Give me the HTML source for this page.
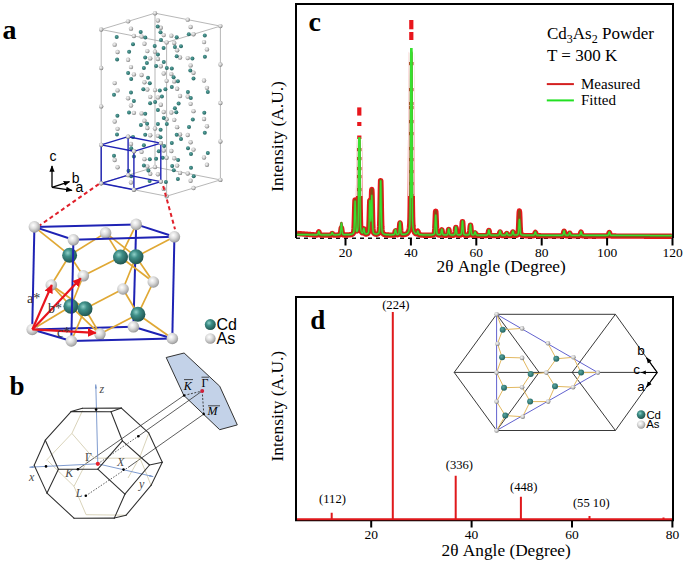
<!DOCTYPE html>
<html><head><meta charset="utf-8"><style>
html,body{margin:0;padding:0;background:#fff;width:685px;height:563px;overflow:hidden}
svg{display:block}
</style></head><body>
<svg width="685" height="563" viewBox="0 0 685 563">
<rect width="685" height="563" fill="#fff"/>
<defs>
<radialGradient id="gCd" cx="0.38" cy="0.35" r="0.7"><stop offset="0" stop-color="#8fd0c8"/><stop offset="0.35" stop-color="#3f8f88"/><stop offset="1" stop-color="#1d4f4b"/></radialGradient>
<radialGradient id="gAs" cx="0.4" cy="0.36" r="0.68"><stop offset="0" stop-color="#ffffff"/><stop offset="0.4" stop-color="#e0e0e0"/><stop offset="0.8" stop-color="#b0b0b0"/><stop offset="1" stop-color="#8a8a8a"/></radialGradient>
<radialGradient id="gCdS" cx="0.4" cy="0.38" r="0.65"><stop offset="0" stop-color="#5aa7a2"/><stop offset="1" stop-color="#1f5f5b"/></radialGradient>
<radialGradient id="gAsS" cx="0.4" cy="0.38" r="0.65"><stop offset="0" stop-color="#f6f6f6"/><stop offset="0.5" stop-color="#cccccc"/><stop offset="1" stop-color="#747474"/></radialGradient>
<marker id="arR" viewBox="0 0 10 10" refX="9" refY="5" markerWidth="4" markerHeight="4" orient="auto"><path d="M0 0 L10 5 L0 10 z" fill="#e8141c"/></marker>
<marker id="arB" viewBox="0 0 10 10" refX="9" refY="5" markerWidth="5" markerHeight="5" orient="auto"><path d="M0 1 L10 5 L0 9 z" fill="#000"/></marker>
<marker id="arL" viewBox="0 0 10 10" refX="9" refY="5" markerWidth="5" markerHeight="5" orient="auto"><path d="M0 3 L10 5 L0 7 z" fill="#6f8fc4"/></marker>
</defs>
<line x1="101.2" y1="183.3" x2="166.6" y2="196.2" stroke="#aaaaaa" stroke-width="0.85"/>
<line x1="101.2" y1="183.3" x2="155" y2="167" stroke="#aaaaaa" stroke-width="0.85"/>
<line x1="101.2" y1="183.3" x2="101.2" y2="29.5" stroke="#aaaaaa" stroke-width="0.85"/>
<line x1="101.2" y1="29.5" x2="166.6" y2="42.4" stroke="#aaaaaa" stroke-width="0.85"/>
<line x1="101.2" y1="29.5" x2="155" y2="13.2" stroke="#aaaaaa" stroke-width="0.85"/>
<line x1="155" y1="167" x2="220.4" y2="179.9" stroke="#aaaaaa" stroke-width="0.85"/>
<line x1="155" y1="167" x2="155" y2="13.2" stroke="#aaaaaa" stroke-width="0.85"/>
<line x1="155" y1="13.2" x2="220.4" y2="26.1" stroke="#aaaaaa" stroke-width="0.85"/>
<line x1="166.6" y1="196.2" x2="220.4" y2="179.9" stroke="#aaaaaa" stroke-width="0.85"/>
<line x1="166.6" y1="196.2" x2="166.6" y2="42.4" stroke="#aaaaaa" stroke-width="0.85"/>
<line x1="166.6" y1="42.4" x2="220.4" y2="26.1" stroke="#aaaaaa" stroke-width="0.85"/>
<line x1="220.4" y1="179.9" x2="220.4" y2="26.1" stroke="#aaaaaa" stroke-width="0.85"/>
<circle cx="155" cy="167" r="2.2" fill="url(#gAsS)"/>
<circle cx="155" cy="128.55" r="2.2" fill="url(#gAsS)"/>
<circle cx="155" cy="90.1" r="2.2" fill="url(#gAsS)"/>
<circle cx="155" cy="51.65" r="2.2" fill="url(#gAsS)"/>
<circle cx="155" cy="13.2" r="2.2" fill="url(#gAsS)"/>
<circle cx="141.55" cy="151.85" r="2.2" fill="url(#gAsS)"/>
<circle cx="141.55" cy="113.4" r="2.2" fill="url(#gAsS)"/>
<circle cx="141.55" cy="74.95" r="2.2" fill="url(#gAsS)"/>
<circle cx="141.55" cy="36.5" r="2.2" fill="url(#gAsS)"/>
<circle cx="171.35" cy="151" r="2.2" fill="url(#gAsS)"/>
<circle cx="171.35" cy="112.55" r="2.2" fill="url(#gAsS)"/>
<circle cx="171.35" cy="74.1" r="2.2" fill="url(#gAsS)"/>
<circle cx="171.35" cy="35.65" r="2.2" fill="url(#gAsS)"/>
<circle cx="128.1" cy="175.15" r="2.2" fill="url(#gAsS)"/>
<circle cx="128.1" cy="136.7" r="2.2" fill="url(#gAsS)"/>
<circle cx="128.1" cy="98.25" r="2.2" fill="url(#gAsS)"/>
<circle cx="128.1" cy="59.8" r="2.2" fill="url(#gAsS)"/>
<circle cx="128.1" cy="21.35" r="2.2" fill="url(#gAsS)"/>
<circle cx="157.9" cy="174.3" r="2.2" fill="url(#gAsS)"/>
<circle cx="157.9" cy="135.85" r="2.2" fill="url(#gAsS)"/>
<circle cx="157.9" cy="97.4" r="2.2" fill="url(#gAsS)"/>
<circle cx="157.9" cy="58.95" r="2.2" fill="url(#gAsS)"/>
<circle cx="157.9" cy="20.5" r="2.2" fill="url(#gAsS)"/>
<circle cx="187.7" cy="173.45" r="2.2" fill="url(#gAsS)"/>
<circle cx="187.7" cy="135" r="2.2" fill="url(#gAsS)"/>
<circle cx="187.7" cy="96.55" r="2.2" fill="url(#gAsS)"/>
<circle cx="187.7" cy="58.1" r="2.2" fill="url(#gAsS)"/>
<circle cx="187.7" cy="19.65" r="2.2" fill="url(#gAsS)"/>
<circle cx="114.65" cy="160" r="2.2" fill="url(#gAsS)"/>
<circle cx="114.65" cy="121.55" r="2.2" fill="url(#gAsS)"/>
<circle cx="114.65" cy="83.1" r="2.2" fill="url(#gAsS)"/>
<circle cx="114.65" cy="44.65" r="2.2" fill="url(#gAsS)"/>
<circle cx="144.45" cy="159.15" r="2.2" fill="url(#gAsS)"/>
<circle cx="144.45" cy="120.7" r="2.2" fill="url(#gAsS)"/>
<circle cx="144.45" cy="82.25" r="2.2" fill="url(#gAsS)"/>
<circle cx="144.45" cy="43.8" r="2.2" fill="url(#gAsS)"/>
<circle cx="174.25" cy="158.3" r="2.2" fill="url(#gAsS)"/>
<circle cx="174.25" cy="119.85" r="2.2" fill="url(#gAsS)"/>
<circle cx="174.25" cy="81.4" r="2.2" fill="url(#gAsS)"/>
<circle cx="174.25" cy="42.95" r="2.2" fill="url(#gAsS)"/>
<circle cx="204.05" cy="157.45" r="2.2" fill="url(#gAsS)"/>
<circle cx="204.05" cy="119" r="2.2" fill="url(#gAsS)"/>
<circle cx="204.05" cy="80.55" r="2.2" fill="url(#gAsS)"/>
<circle cx="204.05" cy="42.1" r="2.2" fill="url(#gAsS)"/>
<circle cx="101.2" cy="183.3" r="2.2" fill="url(#gAsS)"/>
<circle cx="101.2" cy="144.85" r="2.2" fill="url(#gAsS)"/>
<circle cx="101.2" cy="106.4" r="2.2" fill="url(#gAsS)"/>
<circle cx="101.2" cy="67.95" r="2.2" fill="url(#gAsS)"/>
<circle cx="101.2" cy="29.5" r="2.2" fill="url(#gAsS)"/>
<circle cx="131" cy="182.45" r="2.2" fill="url(#gAsS)"/>
<circle cx="131" cy="144" r="2.2" fill="url(#gAsS)"/>
<circle cx="131" cy="105.55" r="2.2" fill="url(#gAsS)"/>
<circle cx="131" cy="67.1" r="2.2" fill="url(#gAsS)"/>
<circle cx="131" cy="28.65" r="2.2" fill="url(#gAsS)"/>
<circle cx="160.8" cy="181.6" r="2.2" fill="url(#gAsS)"/>
<circle cx="160.8" cy="143.15" r="2.2" fill="url(#gAsS)"/>
<circle cx="160.8" cy="104.7" r="2.2" fill="url(#gAsS)"/>
<circle cx="160.8" cy="66.25" r="2.2" fill="url(#gAsS)"/>
<circle cx="160.8" cy="27.8" r="2.2" fill="url(#gAsS)"/>
<circle cx="190.6" cy="180.75" r="2.2" fill="url(#gAsS)"/>
<circle cx="190.6" cy="142.3" r="2.2" fill="url(#gAsS)"/>
<circle cx="190.6" cy="103.85" r="2.2" fill="url(#gAsS)"/>
<circle cx="190.6" cy="65.4" r="2.2" fill="url(#gAsS)"/>
<circle cx="190.6" cy="26.95" r="2.2" fill="url(#gAsS)"/>
<circle cx="220.4" cy="179.9" r="2.2" fill="url(#gAsS)"/>
<circle cx="220.4" cy="141.45" r="2.2" fill="url(#gAsS)"/>
<circle cx="220.4" cy="103" r="2.2" fill="url(#gAsS)"/>
<circle cx="220.4" cy="64.55" r="2.2" fill="url(#gAsS)"/>
<circle cx="220.4" cy="26.1" r="2.2" fill="url(#gAsS)"/>
<circle cx="117.55" cy="167.3" r="2.2" fill="url(#gAsS)"/>
<circle cx="117.55" cy="128.85" r="2.2" fill="url(#gAsS)"/>
<circle cx="117.55" cy="90.4" r="2.2" fill="url(#gAsS)"/>
<circle cx="117.55" cy="51.95" r="2.2" fill="url(#gAsS)"/>
<circle cx="147.35" cy="166.45" r="2.2" fill="url(#gAsS)"/>
<circle cx="147.35" cy="128" r="2.2" fill="url(#gAsS)"/>
<circle cx="147.35" cy="89.55" r="2.2" fill="url(#gAsS)"/>
<circle cx="147.35" cy="51.1" r="2.2" fill="url(#gAsS)"/>
<circle cx="177.15" cy="165.6" r="2.2" fill="url(#gAsS)"/>
<circle cx="177.15" cy="127.15" r="2.2" fill="url(#gAsS)"/>
<circle cx="177.15" cy="88.7" r="2.2" fill="url(#gAsS)"/>
<circle cx="177.15" cy="50.25" r="2.2" fill="url(#gAsS)"/>
<circle cx="206.95" cy="164.75" r="2.2" fill="url(#gAsS)"/>
<circle cx="206.95" cy="126.3" r="2.2" fill="url(#gAsS)"/>
<circle cx="206.95" cy="87.85" r="2.2" fill="url(#gAsS)"/>
<circle cx="206.95" cy="49.4" r="2.2" fill="url(#gAsS)"/>
<circle cx="133.9" cy="189.75" r="2.2" fill="url(#gAsS)"/>
<circle cx="133.9" cy="151.3" r="2.2" fill="url(#gAsS)"/>
<circle cx="133.9" cy="112.85" r="2.2" fill="url(#gAsS)"/>
<circle cx="133.9" cy="74.4" r="2.2" fill="url(#gAsS)"/>
<circle cx="133.9" cy="35.95" r="2.2" fill="url(#gAsS)"/>
<circle cx="163.7" cy="188.9" r="2.2" fill="url(#gAsS)"/>
<circle cx="163.7" cy="150.45" r="2.2" fill="url(#gAsS)"/>
<circle cx="163.7" cy="112" r="2.2" fill="url(#gAsS)"/>
<circle cx="163.7" cy="73.55" r="2.2" fill="url(#gAsS)"/>
<circle cx="163.7" cy="35.1" r="2.2" fill="url(#gAsS)"/>
<circle cx="193.5" cy="188.05" r="2.2" fill="url(#gAsS)"/>
<circle cx="193.5" cy="149.6" r="2.2" fill="url(#gAsS)"/>
<circle cx="193.5" cy="111.15" r="2.2" fill="url(#gAsS)"/>
<circle cx="193.5" cy="72.7" r="2.2" fill="url(#gAsS)"/>
<circle cx="193.5" cy="34.25" r="2.2" fill="url(#gAsS)"/>
<circle cx="150.25" cy="173.75" r="2.2" fill="url(#gAsS)"/>
<circle cx="150.25" cy="135.3" r="2.2" fill="url(#gAsS)"/>
<circle cx="150.25" cy="96.85" r="2.2" fill="url(#gAsS)"/>
<circle cx="150.25" cy="58.4" r="2.2" fill="url(#gAsS)"/>
<circle cx="180.05" cy="172.9" r="2.2" fill="url(#gAsS)"/>
<circle cx="180.05" cy="134.45" r="2.2" fill="url(#gAsS)"/>
<circle cx="180.05" cy="96" r="2.2" fill="url(#gAsS)"/>
<circle cx="180.05" cy="57.55" r="2.2" fill="url(#gAsS)"/>
<circle cx="166.6" cy="196.2" r="2.2" fill="url(#gAsS)"/>
<circle cx="166.6" cy="157.75" r="2.2" fill="url(#gAsS)"/>
<circle cx="166.6" cy="119.3" r="2.2" fill="url(#gAsS)"/>
<circle cx="166.6" cy="80.85" r="2.2" fill="url(#gAsS)"/>
<circle cx="166.6" cy="42.4" r="2.2" fill="url(#gAsS)"/>
<circle cx="116.7" cy="37" r="2" fill="url(#gCdS)"/>
<circle cx="140.7" cy="31.9" r="2" fill="url(#gCdS)"/>
<circle cx="145.3" cy="37.5" r="2" fill="url(#gCdS)"/>
<circle cx="133" cy="44.2" r="2" fill="url(#gCdS)"/>
<circle cx="154.7" cy="45.9" r="2" fill="url(#gCdS)"/>
<circle cx="129.1" cy="51.8" r="2" fill="url(#gCdS)"/>
<circle cx="157.9" cy="54.5" r="2" fill="url(#gCdS)"/>
<circle cx="145.2" cy="57.5" r="2" fill="url(#gCdS)"/>
<circle cx="117.1" cy="59.5" r="2" fill="url(#gCdS)"/>
<circle cx="157.7" cy="26.5" r="2" fill="url(#gCdS)"/>
<circle cx="160.5" cy="32.3" r="2" fill="url(#gCdS)"/>
<circle cx="161" cy="40" r="2" fill="url(#gCdS)"/>
<circle cx="176.7" cy="37.2" r="2" fill="url(#gCdS)"/>
<circle cx="188.8" cy="34.3" r="2" fill="url(#gCdS)"/>
<circle cx="204.8" cy="35.5" r="2" fill="url(#gCdS)"/>
<circle cx="163.6" cy="48" r="2" fill="url(#gCdS)"/>
<circle cx="174.9" cy="47.1" r="2" fill="url(#gCdS)"/>
<circle cx="181" cy="46.2" r="2" fill="url(#gCdS)"/>
<circle cx="176.7" cy="56.2" r="2" fill="url(#gCdS)"/>
<circle cx="192.4" cy="58.6" r="2" fill="url(#gCdS)"/>
<circle cx="204.9" cy="56.7" r="2" fill="url(#gCdS)"/>
<circle cx="146.9" cy="63.1" r="2" fill="url(#gCdS)"/>
<circle cx="143.9" cy="67.9" r="2" fill="url(#gCdS)"/>
<circle cx="156.1" cy="65.9" r="2" fill="url(#gCdS)"/>
<circle cx="128.1" cy="73.1" r="2" fill="url(#gCdS)"/>
<circle cx="131.2" cy="79" r="2" fill="url(#gCdS)"/>
<circle cx="148" cy="77.8" r="2" fill="url(#gCdS)"/>
<circle cx="149.8" cy="83.2" r="2" fill="url(#gCdS)"/>
<circle cx="143.3" cy="89.2" r="2" fill="url(#gCdS)"/>
<circle cx="159.8" cy="90.4" r="2" fill="url(#gCdS)"/>
<circle cx="114" cy="94.8" r="2" fill="url(#gCdS)"/>
<circle cx="131" cy="92.6" r="2" fill="url(#gCdS)"/>
<circle cx="133.9" cy="101" r="2" fill="url(#gCdS)"/>
<circle cx="150.1" cy="103.2" r="2" fill="url(#gCdS)"/>
<circle cx="155.1" cy="102" r="2" fill="url(#gCdS)"/>
<circle cx="161.9" cy="96.6" r="2" fill="url(#gCdS)"/>
<circle cx="163.8" cy="62.1" r="2" fill="url(#gCdS)"/>
<circle cx="166.8" cy="67.9" r="2" fill="url(#gCdS)"/>
<circle cx="171.8" cy="68.4" r="2" fill="url(#gCdS)"/>
<circle cx="190.3" cy="70.4" r="2" fill="url(#gCdS)"/>
<circle cx="173.6" cy="77.2" r="2" fill="url(#gCdS)"/>
<circle cx="193.5" cy="78.5" r="2" fill="url(#gCdS)"/>
<circle cx="177.9" cy="81.2" r="2" fill="url(#gCdS)"/>
<circle cx="171.8" cy="87.1" r="2" fill="url(#gCdS)"/>
<circle cx="165.4" cy="89.2" r="2" fill="url(#gCdS)"/>
<circle cx="187.9" cy="92.1" r="2" fill="url(#gCdS)"/>
<circle cx="207.8" cy="92.1" r="2" fill="url(#gCdS)"/>
<circle cx="190.8" cy="98" r="2" fill="url(#gCdS)"/>
<circle cx="178.6" cy="103.6" r="2" fill="url(#gCdS)"/>
<circle cx="157.9" cy="110.1" r="2" fill="url(#gCdS)"/>
<circle cx="129" cy="112.5" r="2" fill="url(#gCdS)"/>
<circle cx="145.2" cy="113.8" r="2" fill="url(#gCdS)"/>
<circle cx="117.4" cy="115.8" r="2" fill="url(#gCdS)"/>
<circle cx="147.1" cy="123.7" r="2" fill="url(#gCdS)"/>
<circle cx="140.9" cy="124.9" r="2" fill="url(#gCdS)"/>
<circle cx="157.9" cy="124" r="2" fill="url(#gCdS)"/>
<circle cx="160.6" cy="129.7" r="2" fill="url(#gCdS)"/>
<circle cx="117" cy="134.4" r="2" fill="url(#gCdS)"/>
<circle cx="145.2" cy="134.8" r="2" fill="url(#gCdS)"/>
<circle cx="133" cy="136.9" r="2" fill="url(#gCdS)"/>
<circle cx="160.5" cy="137.3" r="2" fill="url(#gCdS)"/>
<circle cx="143.9" cy="145.3" r="2" fill="url(#gCdS)"/>
<circle cx="131.2" cy="148.2" r="2" fill="url(#gCdS)"/>
<circle cx="174.9" cy="108.3" r="2" fill="url(#gCdS)"/>
<circle cx="176.3" cy="112.2" r="2" fill="url(#gCdS)"/>
<circle cx="204.3" cy="112.7" r="2" fill="url(#gCdS)"/>
<circle cx="163.8" cy="117.9" r="2" fill="url(#gCdS)"/>
<circle cx="192.8" cy="119.5" r="2" fill="url(#gCdS)"/>
<circle cx="166.8" cy="124" r="2" fill="url(#gCdS)"/>
<circle cx="189" cy="127" r="2" fill="url(#gCdS)"/>
<circle cx="204.8" cy="132.8" r="2" fill="url(#gCdS)"/>
<circle cx="176.7" cy="134.8" r="2" fill="url(#gCdS)"/>
<circle cx="181" cy="139.1" r="2" fill="url(#gCdS)"/>
<circle cx="171.8" cy="143" r="2" fill="url(#gCdS)"/>
<circle cx="164.1" cy="146" r="2" fill="url(#gCdS)"/>
<circle cx="188" cy="148.2" r="2" fill="url(#gCdS)"/>
<circle cx="158.8" cy="151.2" r="2" fill="url(#gCdS)"/>
<circle cx="114" cy="155.7" r="2" fill="url(#gCdS)"/>
<circle cx="133.9" cy="156.6" r="2" fill="url(#gCdS)"/>
<circle cx="149.8" cy="159.3" r="2" fill="url(#gCdS)"/>
<circle cx="156.1" cy="158.8" r="2" fill="url(#gCdS)"/>
<circle cx="143.9" cy="165.4" r="2" fill="url(#gCdS)"/>
<circle cx="148.4" cy="170.5" r="2" fill="url(#gCdS)"/>
<circle cx="128.5" cy="170.8" r="2" fill="url(#gCdS)"/>
<circle cx="131.2" cy="176.2" r="2" fill="url(#gCdS)"/>
<circle cx="149.6" cy="181" r="2" fill="url(#gCdS)"/>
<circle cx="191" cy="154" r="2" fill="url(#gCdS)"/>
<circle cx="207.8" cy="153" r="2" fill="url(#gCdS)"/>
<circle cx="162.7" cy="157.7" r="2" fill="url(#gCdS)"/>
<circle cx="178.1" cy="159.9" r="2" fill="url(#gCdS)"/>
<circle cx="172.2" cy="166" r="2" fill="url(#gCdS)"/>
<circle cx="191" cy="167.8" r="2" fill="url(#gCdS)"/>
<circle cx="173.8" cy="170.2" r="2" fill="url(#gCdS)"/>
<circle cx="193.7" cy="176.2" r="2" fill="url(#gCdS)"/>
<circle cx="177.9" cy="178.9" r="2" fill="url(#gCdS)"/>
<circle cx="165.9" cy="181.9" r="2" fill="url(#gCdS)"/>
<line x1="101.2" y1="183.3" x2="133.9" y2="189.75" stroke="#1e22b4" stroke-width="1.4"/>
<line x1="101.2" y1="183.3" x2="128.1" y2="175.15" stroke="#1e22b4" stroke-width="1.4"/>
<line x1="101.2" y1="183.3" x2="101.2" y2="144.85" stroke="#1e22b4" stroke-width="1.4"/>
<line x1="101.2" y1="144.85" x2="133.9" y2="151.3" stroke="#1e22b4" stroke-width="1.4"/>
<line x1="101.2" y1="144.85" x2="128.1" y2="136.7" stroke="#1e22b4" stroke-width="1.4"/>
<line x1="128.1" y1="175.15" x2="160.8" y2="181.6" stroke="#1e22b4" stroke-width="1.4"/>
<line x1="128.1" y1="175.15" x2="128.1" y2="136.7" stroke="#1e22b4" stroke-width="1.4"/>
<line x1="128.1" y1="136.7" x2="160.8" y2="143.15" stroke="#1e22b4" stroke-width="1.4"/>
<line x1="133.9" y1="189.75" x2="160.8" y2="181.6" stroke="#1e22b4" stroke-width="1.4"/>
<line x1="133.9" y1="189.75" x2="133.9" y2="151.3" stroke="#1e22b4" stroke-width="1.4"/>
<line x1="133.9" y1="151.3" x2="160.8" y2="143.15" stroke="#1e22b4" stroke-width="1.4"/>
<line x1="160.8" y1="181.6" x2="160.8" y2="143.15" stroke="#1e22b4" stroke-width="1.4"/>
<circle cx="101.2" cy="183.3" r="2.15" fill="url(#gAsS)"/>
<circle cx="101.2" cy="144.85" r="2.15" fill="url(#gAsS)"/>
<circle cx="128.1" cy="175.15" r="2.15" fill="url(#gAsS)"/>
<circle cx="128.1" cy="136.7" r="2.15" fill="url(#gAsS)"/>
<circle cx="133.9" cy="189.75" r="2.15" fill="url(#gAsS)"/>
<circle cx="133.9" cy="151.3" r="2.15" fill="url(#gAsS)"/>
<circle cx="160.8" cy="181.6" r="2.15" fill="url(#gAsS)"/>
<circle cx="160.8" cy="143.15" r="2.15" fill="url(#gAsS)"/>
<line x1="98.8" y1="184.1" x2="39.7" y2="225.4" stroke="#e0202a" stroke-width="2" stroke-dasharray="4 3"/>
<line x1="163.2" y1="186" x2="175" y2="229.3" stroke="#e0202a" stroke-width="2" stroke-dasharray="4 3"/>
<line x1="52" y1="187.3" x2="52" y2="166" stroke="#000" stroke-width="1.3" marker-end="url(#arB)"/>
<line x1="52" y1="187.3" x2="69.5" y2="181.6" stroke="#000" stroke-width="1.3" marker-end="url(#arB)"/>
<line x1="52" y1="187.3" x2="72" y2="190.3" stroke="#000" stroke-width="1.3" marker-end="url(#arB)"/>
<text x="49.6" y="161.2" font-size="14" font-family="Liberation Sans" text-anchor="start" >c</text>
<text x="71.8" y="182.9" font-size="14" font-family="Liberation Sans" text-anchor="start" >b</text>
<text x="75.6" y="192.4" font-size="14" font-family="Liberation Sans" text-anchor="start" >a</text>
<line x1="32.2" y1="329.5" x2="133.4" y2="326.8" stroke="#1e22b4" stroke-width="2"/>
<line x1="32.2" y1="329.5" x2="71.3" y2="341" stroke="#1e22b4" stroke-width="2"/>
<line x1="32.2" y1="329.5" x2="34.4" y2="226.9" stroke="#1e22b4" stroke-width="2"/>
<line x1="133.4" y1="326.8" x2="172.3" y2="338.5" stroke="#1e22b4" stroke-width="2"/>
<line x1="133.4" y1="326.8" x2="136.2" y2="224.4" stroke="#1e22b4" stroke-width="2"/>
<line x1="34.4" y1="226.9" x2="136.2" y2="224.4" stroke="#1e22b4" stroke-width="2"/>
<line x1="34.4" y1="226.9" x2="73.4" y2="239.8" stroke="#1e22b4" stroke-width="2"/>
<line x1="136.2" y1="224.4" x2="174.4" y2="236.8" stroke="#1e22b4" stroke-width="2"/>
<line x1="69.6" y1="255.2" x2="34.4" y2="226.9" stroke="#e0a834" stroke-width="1.7"/>
<line x1="69.6" y1="255.2" x2="105.6" y2="232.9" stroke="#e0a834" stroke-width="1.7"/>
<line x1="69.6" y1="255.2" x2="83.3" y2="275.8" stroke="#e0a834" stroke-width="1.7"/>
<line x1="69.6" y1="255.2" x2="51.3" y2="285" stroke="#e0a834" stroke-width="1.7"/>
<line x1="120.5" y1="257" x2="136.2" y2="224.4" stroke="#e0a834" stroke-width="1.7"/>
<line x1="120.5" y1="257" x2="105.6" y2="232.9" stroke="#e0a834" stroke-width="1.7"/>
<line x1="120.5" y1="257" x2="83.3" y2="275.8" stroke="#e0a834" stroke-width="1.7"/>
<line x1="120.5" y1="257" x2="153.3" y2="282" stroke="#e0a834" stroke-width="1.7"/>
<line x1="136" y1="256.7" x2="174.4" y2="236.8" stroke="#e0a834" stroke-width="1.7"/>
<line x1="136" y1="256.7" x2="105.6" y2="232.9" stroke="#e0a834" stroke-width="1.7"/>
<line x1="136" y1="256.7" x2="123" y2="289" stroke="#e0a834" stroke-width="1.7"/>
<line x1="136" y1="256.7" x2="153.3" y2="282" stroke="#e0a834" stroke-width="1.7"/>
<line x1="70.9" y1="306.3" x2="32.2" y2="329.5" stroke="#e0a834" stroke-width="1.7"/>
<line x1="70.9" y1="306.3" x2="99.9" y2="334.1" stroke="#e0a834" stroke-width="1.7"/>
<line x1="70.9" y1="306.3" x2="83.3" y2="275.8" stroke="#e0a834" stroke-width="1.7"/>
<line x1="70.9" y1="306.3" x2="51.3" y2="285" stroke="#e0a834" stroke-width="1.7"/>
<line x1="85" y1="308.8" x2="71.3" y2="341" stroke="#e0a834" stroke-width="1.7"/>
<line x1="85" y1="308.8" x2="99.9" y2="334.1" stroke="#e0a834" stroke-width="1.7"/>
<line x1="85" y1="308.8" x2="123" y2="289" stroke="#e0a834" stroke-width="1.7"/>
<line x1="85" y1="308.8" x2="51.3" y2="285" stroke="#e0a834" stroke-width="1.7"/>
<line x1="137.9" y1="314.3" x2="172.3" y2="338.5" stroke="#e0a834" stroke-width="1.7"/>
<line x1="137.9" y1="314.3" x2="99.9" y2="334.1" stroke="#e0a834" stroke-width="1.7"/>
<line x1="137.9" y1="314.3" x2="123" y2="289" stroke="#e0a834" stroke-width="1.7"/>
<line x1="137.9" y1="314.3" x2="153.3" y2="282" stroke="#e0a834" stroke-width="1.7"/>
<circle cx="32.2" cy="329.5" r="5.8" fill="url(#gAs)"/>
<circle cx="34.4" cy="226.9" r="5.8" fill="url(#gAs)"/>
<circle cx="133.4" cy="326.8" r="5.8" fill="url(#gAs)"/>
<circle cx="136.2" cy="224.4" r="5.8" fill="url(#gAs)"/>
<circle cx="83.3" cy="275.8" r="5.8" fill="url(#gAs)"/>
<circle cx="69.6" cy="255.2" r="7.5" fill="url(#gCd)"/>
<circle cx="120.5" cy="257" r="7.5" fill="url(#gCd)"/>
<circle cx="70.9" cy="306.3" r="7.5" fill="url(#gCd)"/>
<circle cx="99.9" cy="334.1" r="5.8" fill="url(#gAs)"/>
<circle cx="105.6" cy="232.9" r="5.8" fill="url(#gAs)"/>
<circle cx="51.3" cy="285" r="5.8" fill="url(#gAs)"/>
<circle cx="153.3" cy="282" r="5.8" fill="url(#gAs)"/>
<circle cx="136" cy="256.7" r="7.5" fill="url(#gCd)"/>
<circle cx="85" cy="308.8" r="7.5" fill="url(#gCd)"/>
<circle cx="137.9" cy="314.3" r="7.5" fill="url(#gCd)"/>
<line x1="71.3" y1="341" x2="172.3" y2="338.5" stroke="#1e22b4" stroke-width="2"/>
<line x1="71.3" y1="341" x2="73.4" y2="239.8" stroke="#1e22b4" stroke-width="2"/>
<line x1="172.3" y1="338.5" x2="174.4" y2="236.8" stroke="#1e22b4" stroke-width="2"/>
<line x1="73.4" y1="239.8" x2="174.4" y2="236.8" stroke="#1e22b4" stroke-width="2"/>
<circle cx="71.3" cy="341" r="5.8" fill="url(#gAs)"/>
<circle cx="73.4" cy="239.8" r="5.8" fill="url(#gAs)"/>
<circle cx="172.3" cy="338.5" r="5.8" fill="url(#gAs)"/>
<circle cx="174.4" cy="236.8" r="5.8" fill="url(#gAs)"/>
<circle cx="123" cy="289" r="5.8" fill="url(#gAs)"/>
<line x1="32.4" y1="329.4" x2="51.8" y2="285" stroke="#e8141c" stroke-width="2.2" marker-end="url(#arR)"/>
<line x1="32.4" y1="329.4" x2="80.8" y2="278.3" stroke="#e8141c" stroke-width="2.2" marker-end="url(#arR)"/>
<line x1="32.4" y1="329.4" x2="95.7" y2="332.9" stroke="#e8141c" stroke-width="2.2" marker-end="url(#arR)"/>
<text x="27" y="303" font-size="14" font-family="Liberation Serif" text-anchor="start" fill="#333">a*</text>
<text x="48" y="313" font-size="14" font-family="Liberation Serif" text-anchor="start" fill="#333">b*</text>
<text x="57" y="337" font-size="14" font-family="Liberation Serif" text-anchor="start" fill="#333">c*</text>
<circle cx="210.3" cy="324.6" r="5.5" fill="url(#gCd)"/>
<circle cx="210.3" cy="338.5" r="5.3" fill="url(#gAs)"/>
<text x="216.5" y="329.8" font-size="16" font-family="Liberation Sans" text-anchor="start" >Cd</text>
<text x="216.5" y="343.7" font-size="16" font-family="Liberation Sans" text-anchor="start" >As</text>
<path d="M166.2 357.5 L184.1 353 L219.7 386.2 L237.3 424.9 L219.7 429.7 L183.8 395.4 Z" fill="#c3d2e8" stroke="#333" stroke-width="1"/>
<line x1="77.9" y1="469.2" x2="184.1" y2="395.4" stroke="#333" stroke-width="0.8"/>
<line x1="138.3" y1="436.2" x2="202.2" y2="391" stroke="#333" stroke-width="0.8"/>
<line x1="128" y1="467.5" x2="203.8" y2="414.1" stroke="#333" stroke-width="0.8"/>
<line x1="97.8" y1="463.8" x2="138.3" y2="436.2" stroke="#333" stroke-width="0.8" stroke-dasharray="1.5 1.5"/>
<line x1="85.8" y1="495.8" x2="128" y2="467.5" stroke="#333" stroke-width="0.8" stroke-dasharray="1.5 1.5"/>
<circle cx="138.3" cy="436.2" r="1.3" fill="#000"/>
<line x1="184.1" y1="395.4" x2="202.2" y2="391" stroke="#333" stroke-width="0.9" stroke-dasharray="2 1.5"/>
<line x1="202.2" y1="391" x2="203.8" y2="414.1" stroke="#333" stroke-width="0.9" stroke-dasharray="2 1.5"/>
<circle cx="202.2" cy="391" r="2" fill="#d0203a"/>
<circle cx="184.1" cy="395.4" r="1.2" fill="#000"/>
<circle cx="203.8" cy="414.1" r="1.2" fill="#000"/>
<text x="183.8" y="389.8" font-size="12" font-family="Liberation Serif" text-anchor="start" font-style="italic">K</text>
<line x1="184" y1="379.6" x2="193" y2="379.6" stroke="#222" stroke-width="0.8"/>
<text x="201.5" y="386.6" font-size="12" font-family="Liberation Serif" text-anchor="start" >&#915;</text>
<line x1="201.5" y1="377.2" x2="209" y2="377.2" stroke="#222" stroke-width="0.8"/>
<text x="207.5" y="415.3" font-size="12" font-family="Liberation Serif" text-anchor="start" font-style="italic">M</text>
<line x1="208" y1="405.8" x2="220" y2="405.8" stroke="#222" stroke-width="0.8"/>
<path d="M82.5 410.6 L71.9 433.4 L90.4 454.7 L95 458.2 L139.7 458.2" fill="none" stroke="#cfc8a8" stroke-width="0.8"/>
<path d="M71.9 433.4 L46.3 460.4" fill="none" stroke="#cfc8a8" stroke-width="0.8"/>
<path d="M149 432.7 L139.7 457.5 L146.8 474.6 L151 485.4" fill="none" stroke="#cfc8a8" stroke-width="0.8"/>
<path d="M47.7 460.7 L74 486.3 L86.1 514.7 L126.1 515.2" fill="none" stroke="#cfc8a8" stroke-width="0.8"/>
<path d="M74 486.3 L90.4 454.7" fill="none" stroke="#cfc8a8" stroke-width="0.8"/>
<path d="M139.7 457.5 L128 478" fill="none" stroke="#cfc8a8" stroke-width="0.8"/>
<line x1="97.8" y1="463.8" x2="95.8" y2="384.5" stroke="#7090c8" stroke-width="0.9" marker-end="url(#arL)"/>
<line x1="97.8" y1="463.8" x2="29.5" y2="467.2" stroke="#7090c8" stroke-width="0.9" marker-end="url(#arL)"/>
<line x1="97.8" y1="463.8" x2="153.2" y2="476.6" stroke="#7090c8" stroke-width="0.9" marker-end="url(#arL)"/>
<line x1="71.1" y1="411.6" x2="82.4" y2="408.2" stroke="#2e2e2e" stroke-width="1.05" stroke-linecap="round"/>
<line x1="82.4" y1="408.2" x2="121.4" y2="408.1" stroke="#2e2e2e" stroke-width="1.05" stroke-linecap="round"/>
<line x1="121.4" y1="408.1" x2="111" y2="411.7" stroke="#2e2e2e" stroke-width="1.05" stroke-linecap="round"/>
<line x1="111" y1="411.7" x2="71.1" y2="411.6" stroke="#2e2e2e" stroke-width="1.05" stroke-linecap="round"/>
<line x1="71.1" y1="411.6" x2="45.3" y2="440.2" stroke="#2e2e2e" stroke-width="1.05" stroke-linecap="round"/>
<line x1="45.3" y1="440.2" x2="34.2" y2="465.2" stroke="#2e2e2e" stroke-width="1.05" stroke-linecap="round"/>
<line x1="34.2" y1="465.2" x2="47" y2="493.1" stroke="#2e2e2e" stroke-width="1.05" stroke-linecap="round"/>
<line x1="47" y1="493.1" x2="58.4" y2="469.2" stroke="#2e2e2e" stroke-width="1.05" stroke-linecap="round"/>
<line x1="58.4" y1="469.2" x2="45.3" y2="440.2" stroke="#2e2e2e" stroke-width="1.05" stroke-linecap="round"/>
<line x1="58.4" y1="469.2" x2="97.8" y2="469.2" stroke="#2e2e2e" stroke-width="1.05" stroke-linecap="round"/>
<line x1="97.8" y1="469.2" x2="122.4" y2="440.8" stroke="#2e2e2e" stroke-width="1.05" stroke-linecap="round"/>
<line x1="122.4" y1="440.8" x2="111" y2="411.7" stroke="#2e2e2e" stroke-width="1.05" stroke-linecap="round"/>
<line x1="121.4" y1="408.1" x2="148.6" y2="432.8" stroke="#2e2e2e" stroke-width="1.05" stroke-linecap="round"/>
<line x1="148.6" y1="432.8" x2="162.3" y2="462.3" stroke="#2e2e2e" stroke-width="1.05" stroke-linecap="round"/>
<line x1="162.3" y1="462.3" x2="149.5" y2="465" stroke="#2e2e2e" stroke-width="1.05" stroke-linecap="round"/>
<line x1="149.5" y1="465" x2="122.4" y2="440.8" stroke="#2e2e2e" stroke-width="1.05" stroke-linecap="round"/>
<line x1="97.8" y1="469.2" x2="124.9" y2="494.2" stroke="#2e2e2e" stroke-width="1.05" stroke-linecap="round"/>
<line x1="124.9" y1="494.2" x2="149.5" y2="465" stroke="#2e2e2e" stroke-width="1.05" stroke-linecap="round"/>
<line x1="162.3" y1="462.3" x2="151" y2="485.4" stroke="#2e2e2e" stroke-width="1.05" stroke-linecap="round"/>
<line x1="151" y1="485.4" x2="126.1" y2="515.2" stroke="#2e2e2e" stroke-width="1.05" stroke-linecap="round"/>
<line x1="126.1" y1="515.2" x2="114.3" y2="518.1" stroke="#2e2e2e" stroke-width="1.05" stroke-linecap="round"/>
<line x1="114.3" y1="518.1" x2="124.9" y2="494.2" stroke="#2e2e2e" stroke-width="1.05" stroke-linecap="round"/>
<line x1="114.3" y1="518.1" x2="74" y2="518.2" stroke="#2e2e2e" stroke-width="1.05" stroke-linecap="round"/>
<line x1="74" y1="518.2" x2="47" y2="493.1" stroke="#2e2e2e" stroke-width="1.05" stroke-linecap="round"/>
<circle cx="96.1" cy="409.6" r="1.3" fill="#000"/>
<circle cx="46" cy="466.4" r="1.3" fill="#000"/>
<circle cx="77.9" cy="469.2" r="1.3" fill="#000"/>
<circle cx="123.5" cy="469.6" r="1.3" fill="#000"/>
<circle cx="85.8" cy="495.8" r="1.3" fill="#000"/>
<circle cx="97.8" cy="463.8" r="2.1" fill="#e8202a"/>
<text x="99.5" y="392.8" font-size="12" font-family="Liberation Serif" text-anchor="start" font-style="italic" fill="#4a4a4a">z</text>
<text x="29" y="481.3" font-size="12" font-family="Liberation Serif" text-anchor="start" font-style="italic" fill="#4a4a4a">x</text>
<text x="139" y="488.4" font-size="12" font-family="Liberation Serif" text-anchor="start" font-style="italic" fill="#4a4a4a">y</text>
<text x="65.3" y="477" font-size="12" font-family="Liberation Serif" text-anchor="start" font-style="italic" fill="#4a4a4a">K</text>
<text x="75.8" y="497" font-size="12" font-family="Liberation Serif" text-anchor="start" font-style="italic" fill="#4a4a4a">L</text>
<text x="117" y="465.8" font-size="12" font-family="Liberation Serif" text-anchor="start" font-style="italic" fill="#4a4a4a">X</text>
<text x="85" y="461.1" font-size="12" font-family="Liberation Serif" text-anchor="start" fill="#4a4a4a">&#915;</text>
<line x1="296" y1="238.2" x2="600" y2="238.2" stroke="#111" stroke-width="1.6" stroke-dasharray="4 4"/>
<defs><clipPath id="clipC"><path d="M296 0 H673 V240 H296 Z M356.2 0 V196 H362.4 V0 Z M408.2 0 V196 H414.6 V0 Z" clip-rule="evenodd"/></clipPath></defs>
<g clip-path="url(#clipC)">
<path d="M297 233.46 L297.2 233.48 L297.4 233.5 L297.6 233.51 L297.8 233.53 L298 233.55 L298.2 233.56 L298.4 233.58 L298.6 233.59 L298.8 233.61 L299 233.63 L299.2 233.64 L299.4 233.66 L299.6 233.68 L299.8 233.69 L300 233.71 L300.2 233.72 L300.4 233.74 L300.6 233.76 L300.8 233.77 L301 233.79 L301.2 233.81 L301.4 233.82 L301.6 233.84 L301.8 233.85 L302 233.87 L302.2 233.89 L302.4 233.9 L302.6 233.92 L302.8 233.94 L303 233.95 L303.2 233.97 L303.4 233.98 L303.6 234 L303.8 234.02 L304 234.03 L304.2 234.05 L304.4 234.06 L304.6 234.08 L304.8 234.1 L305 234.11 L305.2 234.13 L305.4 234.15 L305.6 234.16 L305.8 234.18 L306 234.19 L306.2 234.21 L306.4 234.23 L306.6 234.24 L306.8 234.26 L307 234.27 L307.2 234.29 L307.4 234.31 L307.6 234.32 L307.8 234.34 L308 234.35 L308.2 234.37 L308.4 234.39 L308.6 234.4 L308.8 234.42 L309 234.43 L309.2 234.45 L309.4 234.47 L309.6 234.48 L309.8 234.5 L310 234.51 L310.2 234.53 L310.4 234.54 L310.6 234.56 L310.8 234.58 L311 234.59 L311.2 234.61 L311.4 234.62 L311.6 234.64 L311.8 234.65 L312 234.67 L312.2 234.69 L312.4 234.7 L312.6 234.72 L312.8 234.73 L313 234.75 L313.2 234.76 L313.4 234.78 L313.6 234.79 L313.8 234.8 L314 234.82 L314.2 234.83 L314.4 234.85 L314.6 234.86 L314.8 234.87 L315 234.88 L315.2 234.9 L315.4 234.91 L315.6 234.92 L315.8 234.93 L316 234.94 L316.2 234.94 L316.4 234.95 L316.6 234.95 L316.8 234.95 L317 234.94 L317.2 234.91 L317.4 234.85 L317.6 234.72 L317.8 234.46 L318 234.01 L318.2 233.37 L318.4 232.66 L318.6 232.09 L318.8 231.86 L319 232.09 L319.2 232.66 L319.4 233.38 L319.6 234.02 L319.8 234.48 L320 234.76 L320.2 234.91 L320.4 234.98 L320.6 235.02 L320.8 235.05 L321 235.07 L321.2 235.08 L321.4 235.09 L321.6 235.1 L321.8 235.11 L322 235.12 L322.2 235.12 L322.4 235.13 L322.6 235.13 L322.8 235.13 L323 235.14 L323.2 235.14 L323.4 235.14 L323.6 235.14 L323.8 235.15 L324 235.15 L324.2 235.15 L324.4 235.15 L324.6 235.15 L324.8 235.15 L325 235.15 L325.2 235.15 L325.4 235.15 L325.6 235.16 L325.8 235.16 L326 235.16 L326.2 235.16 L326.4 235.16 L326.6 235.16 L326.8 235.16 L327 235.16 L327.2 235.15 L327.4 235.15 L327.6 235.15 L327.8 235.15 L328 235.15 L328.2 235.15 L328.4 235.15 L328.6 235.15 L328.8 235.14 L329 235.14 L329.2 235.14 L329.4 235.13 L329.6 235.13 L329.8 235.12 L330 235.12 L330.2 235.11 L330.4 235.09 L330.6 235.07 L330.8 235.04 L331 234.96 L331.2 234.82 L331.4 234.59 L331.6 234.27 L331.8 233.92 L332 233.63 L332.2 233.52 L332.4 233.63 L332.6 233.91 L332.8 234.27 L333 234.59 L333.2 234.81 L333.4 234.95 L333.6 235.02 L333.8 235.06 L334 235.08 L334.2 235.09 L334.4 235.1 L334.6 235.1 L334.8 235.11 L335 235.11 L335.2 235.11 L335.4 235.11 L335.6 235.11 L335.8 235.11 L336 235.11 L336.2 235.1 L336.4 235.1 L336.6 235.1 L336.8 235.09 L337 235.09 L337.2 235.08 L337.4 235.08 L337.6 235.07 L337.8 235.06 L338 235.05 L338.2 235.03 L338.4 235.02 L338.6 235 L338.8 234.98 L339 234.95 L339.2 234.92 L339.4 234.88 L339.6 234.82 L339.8 234.73 L340 234.56 L340.2 234.23 L340.4 233.6 L340.6 232.57 L340.8 231.14 L341 229.55 L341.2 228.27 L341.4 227.77 L341.6 228.26 L341.8 229.54 L342 231.13 L342.2 232.56 L342.4 233.58 L342.6 234.2 L342.8 234.53 L343 234.7 L343.2 234.79 L343.4 234.84 L343.6 234.88 L343.8 234.9 L344 234.93 L344.2 234.94 L344.4 234.96 L344.6 234.97 L344.8 234.98 L345 234.98 L345.2 234.99 L345.4 234.99 L345.6 234.99 L345.8 234.99 L346 234.99 L346.2 234.99 L346.4 234.99 L346.6 234.98 L346.8 234.98 L347 234.97 L347.2 234.97 L347.4 234.96 L347.6 234.95 L347.8 234.94 L348 234.93 L348.2 234.92 L348.4 234.91 L348.6 234.9 L348.8 234.88 L349 234.87 L349.2 234.85 L349.4 234.83 L349.6 234.81 L349.8 234.79 L350 234.76 L350.2 234.73 L350.4 234.7 L350.6 234.67 L350.8 234.63 L351 234.58 L351.2 234.54 L351.4 234.48 L351.6 234.42 L351.8 234.35 L352 234.26 L352.2 234.17 L352.4 234.06 L352.6 233.92 L352.8 233.77 L353 233.57 L353.2 233.32 L353.4 232.96 L353.6 232.35 L353.8 231.19 L354 228.97 L354.2 225.07 L354.4 219.15 L354.6 211.74 L354.8 204.58 L355 200.06 L355.2 199.97 L355.4 204.31 L355.6 211.29 L355.8 218.5 L356 224.21 L356.2 227.88 L356.4 229.85 L356.6 230.71 L356.8 230.98 L357 230.94 L357.2 230.7 L357.4 230.25 L357.6 229.48 L357.8 227.99 L358 224.98 L358.2 219.04 L358.4 208.44 L358.6 192.28 L358.8 172.02 L359 152.44 L359.2 140.2 L359.4 140.23 L359.6 152.52 L359.8 172.14 L360 192.45 L360.2 208.68 L360.4 219.34 L360.6 225.36 L360.8 228.45 L361 230.03 L361.2 230.93 L361.4 231.52 L361.6 231.96 L361.8 232.3 L362 232.56 L362.2 232.75 L362.4 232.84 L362.6 232.78 L362.8 232.48 L363 231.88 L363.2 230.97 L363.4 229.93 L363.6 229.09 L363.8 228.8 L364 229.21 L364.2 230.17 L364.4 231.33 L364.6 232.37 L364.8 233.12 L365 233.58 L365.2 233.82 L365.4 233.94 L365.6 233.99 L365.8 234.02 L366 234.02 L366.2 234.01 L366.4 233.99 L366.6 233.95 L366.8 233.89 L367 233.82 L367.2 233.73 L367.4 233.61 L367.6 233.47 L367.8 233.28 L368 233.04 L368.2 232.68 L368.4 232.08 L368.6 230.95 L368.8 228.79 L369 225.01 L369.2 219.29 L369.4 212.13 L369.6 205.17 L369.8 200.69 L370 200.36 L370.2 204.07 L370.4 209.83 L370.6 214.85 L370.8 216.7 L371 214.2 L371.2 207.68 L371.4 199.19 L371.6 192.01 L371.8 189.34 L372 192.54 L372.2 200.42 L372.4 210.1 L372.6 218.8 L372.8 225.08 L373 228.9 L373.2 230.96 L373.4 232.02 L373.6 232.6 L373.8 232.97 L374 233.23 L374.2 233.44 L374.4 233.61 L374.6 233.75 L374.8 233.86 L375 233.95 L375.2 234.02 L375.4 234.08 L375.6 234.13 L375.8 234.16 L376 234.18 L376.2 234.19 L376.4 234.19 L376.6 234.18 L376.8 234.16 L377 234.13 L377.2 234.08 L377.4 234.02 L377.6 233.94 L377.8 233.84 L378 233.71 L378.2 233.56 L378.4 233.36 L378.6 233.11 L378.8 232.78 L379 232.27 L379.2 231.37 L379.4 229.59 L379.6 226.13 L379.8 220 L380 210.66 L380.2 198.96 L380.4 187.66 L380.6 180.59 L380.8 180.6 L381 187.68 L381.2 199 L381.4 210.71 L381.6 220.07 L381.8 226.22 L382 229.69 L382.2 231.48 L382.4 232.4 L382.6 232.93 L382.8 233.28 L383 233.55 L383.2 233.77 L383.4 233.95 L383.6 234.1 L383.8 234.22 L384 234.33 L384.2 234.42 L384.4 234.5 L384.6 234.57 L384.8 234.62 L385 234.68 L385.2 234.72 L385.4 234.76 L385.6 234.8 L385.8 234.83 L386 234.86 L386.2 234.89 L386.4 234.91 L386.6 234.93 L386.8 234.95 L387 234.97 L387.2 234.98 L387.4 235 L387.6 235.01 L387.8 235.02 L388 235.03 L388.2 235.04 L388.4 235.05 L388.6 235.06 L388.8 235.07 L389 235.07 L389.2 235.08 L389.4 235.08 L389.6 235.09 L389.8 235.09 L390 235.09 L390.2 235.1 L390.4 235.1 L390.6 235.1 L390.8 235.1 L391 235.1 L391.2 235.1 L391.4 235.1 L391.6 235.09 L391.8 235.09 L392 235.08 L392.2 235.08 L392.4 235.07 L392.6 235.06 L392.8 235.05 L393 235.03 L393.2 235.02 L393.4 234.99 L393.6 234.96 L393.8 234.92 L394 234.85 L394.2 234.7 L394.4 234.43 L394.6 233.94 L394.8 233.2 L395 232.28 L395.2 231.39 L395.4 230.83 L395.6 230.82 L395.8 231.36 L396 232.23 L396.2 233.13 L396.4 233.84 L396.6 234.3 L396.8 234.55 L397 234.66 L397.2 234.7 L397.4 234.71 L397.6 234.69 L397.8 234.65 L398 234.6 L398.2 234.52 L398.4 234.38 L398.6 234.1 L398.8 233.56 L399 232.53 L399.2 230.83 L399.4 228.48 L399.6 225.86 L399.8 223.74 L400 222.92 L400.2 223.73 L400.4 225.84 L400.6 228.45 L400.8 230.8 L401 232.48 L401.2 233.5 L401.4 234.04 L401.6 234.3 L401.8 234.44 L402 234.52 L402.2 234.57 L402.4 234.6 L402.6 234.63 L402.8 234.64 L403 234.65 L403.2 234.65 L403.4 234.65 L403.6 234.64 L403.8 234.62 L404 234.61 L404.2 234.58 L404.4 234.56 L404.6 234.52 L404.8 234.49 L405 234.44 L405.2 234.4 L405.4 234.34 L405.6 234.28 L405.8 234.21 L406 234.13 L406.2 234.05 L406.4 233.95 L406.6 233.84 L406.8 233.71 L407 233.57 L407.2 233.4 L407.4 233.22 L407.6 233 L407.8 232.75 L408 232.45 L408.2 232.11 L408.4 231.7 L408.6 231.22 L408.8 230.64 L409 229.93 L409.2 229.05 L409.4 227.89 L409.6 226.14 L409.8 223.08 L410 217.12 L410.2 205.53 L410.4 185 L410.6 153.76 L410.8 114.65 L411 76.88 L411.2 53.24 L411.4 53.24 L411.6 76.88 L411.8 114.65 L412 153.76 L412.2 185.01 L412.4 205.53 L412.6 217.13 L412.8 223.09 L413 226.15 L413.2 227.9 L413.4 229.06 L413.6 229.94 L413.8 230.65 L414 231.23 L414.2 231.71 L414.4 232.11 L414.6 232.46 L414.8 232.75 L415 232.99 L415.2 233.2 L415.4 233.38 L415.6 233.54 L415.8 233.67 L416 233.77 L416.2 233.85 L416.4 233.87 L416.6 233.81 L416.8 233.61 L417 233.21 L417.2 232.62 L417.4 231.95 L417.6 231.41 L417.8 231.23 L418 231.51 L418.2 232.15 L418.4 232.92 L418.6 233.61 L418.8 234.12 L419 234.44 L419.2 234.62 L419.4 234.73 L419.6 234.8 L419.8 234.84 L420 234.88 L420.2 234.92 L420.4 234.95 L420.6 234.98 L420.8 235 L421 235.03 L421.2 235.05 L421.4 235.07 L421.6 235.08 L421.8 235.1 L422 235.11 L422.2 235.13 L422.4 235.14 L422.6 235.15 L422.8 235.16 L423 235.17 L423.2 235.18 L423.4 235.19 L423.6 235.2 L423.8 235.21 L424 235.22 L424.2 235.22 L424.4 235.23 L424.6 235.24 L424.8 235.24 L425 235.25 L425.2 235.25 L425.4 235.26 L425.6 235.26 L425.8 235.27 L426 235.27 L426.2 235.27 L426.4 235.28 L426.6 235.28 L426.8 235.28 L427 235.28 L427.2 235.28 L427.4 235.29 L427.6 235.29 L427.8 235.29 L428 235.29 L428.2 235.29 L428.4 235.29 L428.6 235.28 L428.8 235.28 L429 235.28 L429.2 235.28 L429.4 235.27 L429.6 235.27 L429.8 235.26 L430 235.26 L430.2 235.25 L430.4 235.24 L430.6 235.23 L430.8 235.22 L431 235.21 L431.2 235.19 L431.4 235.17 L431.6 235.15 L431.8 235.13 L432 235.1 L432.2 235.07 L432.4 235.03 L432.6 234.99 L432.8 234.93 L433 234.87 L433.2 234.8 L433.4 234.7 L433.6 234.59 L433.8 234.43 L434 234.2 L434.2 233.79 L434.4 233 L434.6 231.46 L434.8 228.73 L435 224.58 L435.2 219.38 L435.4 214.35 L435.6 211.21 L435.8 211.21 L436 214.35 L436.2 219.37 L436.4 224.57 L436.6 228.73 L436.8 231.45 L437 232.99 L437.2 233.79 L437.4 234.19 L437.6 234.42 L437.8 234.57 L438 234.68 L438.2 234.77 L438.4 234.84 L438.6 234.9 L438.8 234.94 L439 234.97 L439.2 235 L439.4 235.01 L439.6 235.02 L439.8 235.01 L440 235 L440.2 234.95 L440.4 234.84 L440.6 234.61 L440.8 234.16 L441 233.41 L441.2 232.36 L441.4 231.19 L441.6 230.25 L441.8 229.88 L442 230.26 L442.2 231.22 L442.4 232.4 L442.6 233.47 L442.8 234.24 L443 234.7 L443.2 234.95 L443.4 235.08 L443.6 235.15 L443.8 235.19 L444 235.22 L444.2 235.24 L444.4 235.26 L444.6 235.27 L444.8 235.28 L445 235.29 L445.2 235.29 L445.4 235.29 L445.6 235.29 L445.8 235.29 L446 235.28 L446.2 235.26 L446.4 235.25 L446.6 235.22 L446.8 235.19 L447 235.13 L447.2 235.04 L447.4 234.84 L447.6 234.47 L447.8 233.79 L448 232.77 L448.2 231.49 L448.4 230.25 L448.6 229.47 L448.8 229.47 L449 230.25 L449.2 231.49 L449.4 232.78 L449.6 233.8 L449.8 234.48 L450 234.86 L450.2 235.05 L450.4 235.15 L450.6 235.2 L450.8 235.24 L451 235.27 L451.2 235.28 L451.4 235.3 L451.6 235.31 L451.8 235.32 L452 235.32 L452.2 235.32 L452.4 235.32 L452.6 235.31 L452.8 235.3 L453 235.29 L453.2 235.27 L453.4 235.25 L453.6 235.22 L453.8 235.19 L454 235.14 L454.2 235.06 L454.4 234.93 L454.6 234.67 L454.8 234.15 L455 233.24 L455.2 231.86 L455.4 230.13 L455.6 228.45 L455.8 227.4 L456 227.4 L456.2 228.45 L456.4 230.12 L456.6 231.85 L456.8 233.23 L457 234.14 L457.2 234.64 L457.4 234.9 L457.6 235.03 L457.8 235.1 L458 235.15 L458.2 235.17 L458.4 235.19 L458.6 235.21 L458.8 235.21 L459 235.21 L459.2 235.21 L459.4 235.19 L459.6 235.17 L459.8 235.15 L460 235.11 L460.2 235.07 L460.4 235 L460.6 234.92 L460.8 234.79 L461 234.57 L461.2 234.11 L461.4 233.23 L461.6 231.67 L461.8 229.29 L462 226.31 L462.2 223.44 L462.4 221.64 L462.6 221.64 L462.8 223.44 L463 226.32 L463.2 229.3 L463.4 231.69 L463.6 233.25 L463.8 234.14 L464 234.59 L464.2 234.82 L464.4 234.95 L464.6 235.04 L464.8 235.11 L465 235.16 L465.2 235.2 L465.4 235.23 L465.6 235.26 L465.8 235.28 L466 235.3 L466.2 235.31 L466.4 235.32 L466.6 235.32 L466.8 235.32 L467 235.32 L467.2 235.31 L467.4 235.3 L467.6 235.29 L467.8 235.27 L468 235.24 L468.2 235.21 L468.4 235.17 L468.6 235.11 L468.8 235.01 L469 234.84 L469.2 234.51 L469.4 233.86 L469.6 232.7 L469.8 230.94 L470 228.74 L470.2 226.61 L470.4 225.28 L470.6 225.28 L470.8 226.61 L471 228.75 L471.2 230.95 L471.4 232.71 L471.6 233.87 L471.8 234.52 L472 234.86 L472.2 235.02 L472.4 235.12 L472.6 235.18 L472.8 235.22 L473 235.25 L473.2 235.26 L473.4 235.27 L473.6 235.25 L473.8 235.18 L474 235.03 L474.2 234.75 L474.4 234.32 L474.6 233.77 L474.8 233.23 L475 232.9 L475.2 232.91 L475.4 233.26 L475.6 233.81 L475.8 234.38 L476 234.84 L476.2 235.14 L476.4 235.31 L476.6 235.4 L476.8 235.45 L477 235.48 L477.2 235.5 L477.4 235.51 L477.6 235.53 L477.8 235.54 L478 235.55 L478.2 235.55 L478.4 235.56 L478.6 235.57 L478.8 235.57 L479 235.58 L479.2 235.58 L479.4 235.59 L479.6 235.59 L479.8 235.59 L480 235.6 L480.2 235.6 L480.4 235.6 L480.6 235.6 L480.8 235.61 L481 235.61 L481.2 235.61 L481.4 235.61 L481.6 235.61 L481.8 235.61 L482 235.61 L482.2 235.61 L482.4 235.61 L482.6 235.61 L482.8 235.61 L483 235.61 L483.2 235.61 L483.4 235.61 L483.6 235.61 L483.8 235.61 L484 235.61 L484.2 235.61 L484.4 235.6 L484.6 235.6 L484.8 235.6 L485 235.59 L485.2 235.59 L485.4 235.58 L485.6 235.57 L485.8 235.57 L486 235.56 L486.2 235.54 L486.4 235.53 L486.6 235.51 L486.8 235.48 L487 235.45 L487.2 235.4 L487.4 235.31 L487.6 235.14 L487.8 234.81 L488 234.22 L488.2 233.33 L488.4 232.21 L488.6 231.13 L488.8 230.45 L489 230.45 L489.2 231.13 L489.4 232.21 L489.6 233.33 L489.8 234.23 L490 234.82 L490.2 235.15 L490.4 235.32 L490.6 235.41 L490.8 235.46 L491 235.5 L491.2 235.52 L491.4 235.54 L491.6 235.56 L491.8 235.57 L492 235.58 L492.2 235.59 L492.4 235.6 L492.6 235.61 L492.8 235.62 L493 235.62 L493.2 235.63 L493.4 235.63 L493.6 235.63 L493.8 235.64 L494 235.64 L494.2 235.64 L494.4 235.64 L494.6 235.64 L494.8 235.64 L495 235.65 L495.2 235.65 L495.4 235.64 L495.6 235.64 L495.8 235.64 L496 235.64 L496.2 235.64 L496.4 235.64 L496.6 235.63 L496.8 235.63 L497 235.62 L497.2 235.61 L497.4 235.6 L497.6 235.59 L497.8 235.58 L498 235.56 L498.2 235.54 L498.4 235.51 L498.6 235.44 L498.8 235.32 L499 235.09 L499.2 234.68 L499.4 234.04 L499.6 233.25 L499.8 232.49 L500 232.01 L500.2 232.01 L500.4 232.49 L500.6 233.26 L500.8 234.05 L501 234.68 L501.2 235.09 L501.4 235.32 L501.6 235.44 L501.8 235.51 L502 235.54 L502.2 235.56 L502.4 235.58 L502.6 235.59 L502.8 235.6 L503 235.61 L503.2 235.61 L503.4 235.62 L503.6 235.62 L503.8 235.62 L504 235.62 L504.2 235.62 L504.4 235.61 L504.6 235.6 L504.8 235.59 L505 235.58 L505.2 235.55 L505.4 235.5 L505.6 235.4 L505.8 235.21 L506 234.89 L506.2 234.46 L506.4 233.97 L506.6 233.57 L506.8 233.42 L507 233.57 L507.2 233.97 L507.4 234.45 L507.6 234.89 L507.8 235.21 L508 235.39 L508.2 235.49 L508.4 235.54 L508.6 235.57 L508.8 235.58 L509 235.59 L509.2 235.59 L509.4 235.6 L509.6 235.6 L509.8 235.59 L510 235.59 L510.2 235.58 L510.4 235.57 L510.6 235.56 L510.8 235.54 L511 235.52 L511.2 235.48 L511.4 235.42 L511.6 235.29 L511.8 235.06 L512 234.63 L512.2 233.99 L512.4 233.19 L512.6 232.42 L512.8 231.93 L513 231.92 L513.2 232.4 L513.4 233.17 L513.6 233.96 L513.8 234.59 L514 235 L514.2 235.22 L514.4 235.33 L514.6 235.38 L514.8 235.4 L515 235.41 L515.2 235.41 L515.4 235.4 L515.6 235.38 L515.8 235.36 L516 235.34 L516.2 235.3 L516.4 235.26 L516.6 235.2 L516.8 235.14 L517 235.06 L517.2 234.96 L517.4 234.83 L517.6 234.64 L517.8 234.34 L518 233.78 L518.2 232.66 L518.4 230.56 L518.6 227.1 L518.8 222.3 L519 216.96 L519.2 212.64 L519.4 210.97 L519.6 212.64 L519.8 216.96 L520 222.31 L520.2 227.12 L520.4 230.58 L520.6 232.68 L520.8 233.8 L521 234.37 L521.2 234.68 L521.4 234.86 L521.6 235 L521.8 235.11 L522 235.19 L522.2 235.26 L522.4 235.32 L522.6 235.38 L522.8 235.42 L523 235.46 L523.2 235.49 L523.4 235.52 L523.6 235.54 L523.8 235.56 L524 235.58 L524.2 235.6 L524.4 235.62 L524.6 235.63 L524.8 235.64 L525 235.65 L525.2 235.66 L525.4 235.67 L525.6 235.68 L525.8 235.69 L526 235.7 L526.2 235.7 L526.4 235.71 L526.6 235.71 L526.8 235.72 L527 235.72 L527.2 235.73 L527.4 235.73 L527.6 235.73 L527.8 235.74 L528 235.74 L528.2 235.74 L528.4 235.75 L528.6 235.75 L528.8 235.75 L529 235.75 L529.2 235.76 L529.4 235.76 L529.6 235.76 L529.8 235.76 L530 235.76 L530.2 235.76 L530.4 235.76 L530.6 235.76 L530.8 235.76 L531 235.76 L531.2 235.76 L531.4 235.76 L531.6 235.76 L531.8 235.75 L532 235.75 L532.2 235.75 L532.4 235.74 L532.6 235.73 L532.8 235.73 L533 235.72 L533.2 235.7 L533.4 235.69 L533.6 235.66 L533.8 235.62 L534 235.55 L534.2 235.4 L534.4 235.11 L534.6 234.65 L534.8 234 L535 233.28 L535.2 232.7 L535.4 232.47 L535.6 232.7 L535.8 233.28 L536 234.01 L536.2 234.66 L536.4 235.13 L536.6 235.41 L536.8 235.56 L537 235.64 L537.2 235.68 L537.4 235.71 L537.6 235.73 L537.8 235.74 L538 235.76 L538.2 235.77 L538.4 235.77 L538.6 235.78 L538.8 235.79 L539 235.79 L539.2 235.8 L539.4 235.8 L539.6 235.81 L539.8 235.81 L540 235.82 L540.2 235.82 L540.4 235.82 L540.6 235.82 L540.8 235.83 L541 235.83 L541.2 235.83 L541.4 235.83 L541.6 235.83 L541.8 235.84 L542 235.84 L542.2 235.84 L542.4 235.84 L542.6 235.84 L542.8 235.84 L543 235.84 L543.2 235.85 L543.4 235.85 L543.6 235.85 L543.8 235.85 L544 235.85 L544.2 235.85 L544.4 235.85 L544.6 235.85 L544.8 235.85 L545 235.86 L545.2 235.86 L545.4 235.86 L545.6 235.86 L545.8 235.86 L546 235.86 L546.2 235.86 L546.4 235.86 L546.6 235.86 L546.8 235.86 L547 235.86 L547.2 235.87 L547.4 235.87 L547.6 235.87 L547.8 235.87 L548 235.87 L548.2 235.87 L548.4 235.87 L548.6 235.87 L548.8 235.87 L549 235.87 L549.2 235.87 L549.4 235.87 L549.6 235.87 L549.8 235.87 L550 235.87 L550.2 235.88 L550.4 235.88 L550.6 235.88 L550.8 235.88 L551 235.88 L551.2 235.88 L551.4 235.88 L551.6 235.88 L551.8 235.88 L552 235.88 L552.2 235.88 L552.4 235.88 L552.6 235.88 L552.8 235.88 L553 235.88 L553.2 235.88 L553.4 235.88 L553.6 235.88 L553.8 235.88 L554 235.88 L554.2 235.88 L554.4 235.88 L554.6 235.89 L554.8 235.89 L555 235.89 L555.2 235.89 L555.4 235.89 L555.6 235.89 L555.8 235.89 L556 235.89 L556.2 235.89 L556.4 235.89 L556.6 235.89 L556.8 235.88 L557 235.88 L557.2 235.88 L557.4 235.88 L557.6 235.88 L557.8 235.88 L558 235.88 L558.2 235.88 L558.4 235.88 L558.6 235.88 L558.8 235.88 L559 235.87 L559.2 235.87 L559.4 235.87 L559.6 235.87 L559.8 235.86 L560 235.86 L560.2 235.85 L560.4 235.85 L560.6 235.84 L560.8 235.84 L561 235.83 L561.2 235.82 L561.4 235.81 L561.6 235.79 L561.8 235.77 L562 235.75 L562.2 235.72 L562.4 235.68 L562.6 235.6 L562.8 235.45 L563 235.15 L563.2 234.62 L563.4 233.83 L563.6 232.83 L563.8 231.86 L564 231.26 L564.2 231.26 L564.4 231.86 L564.6 232.82 L564.8 233.82 L565 234.62 L565.2 235.14 L565.4 235.44 L565.6 235.59 L565.8 235.67 L566 235.71 L566.2 235.73 L566.4 235.75 L566.6 235.77 L566.8 235.78 L567 235.78 L567.2 235.78 L567.4 235.78 L567.6 235.78 L567.8 235.77 L568 235.75 L568.2 235.71 L568.4 235.63 L568.6 235.47 L568.8 235.18 L569 234.74 L569.2 234.18 L569.4 233.64 L569.6 233.3 L569.8 233.31 L570 233.65 L570.2 234.19 L570.4 234.75 L570.6 235.2 L570.8 235.5 L571 235.66 L571.2 235.75 L571.4 235.8 L571.6 235.82 L571.8 235.84 L572 235.85 L572.2 235.86 L572.4 235.87 L572.6 235.88 L572.8 235.89 L573 235.89 L573.2 235.9 L573.4 235.9 L573.6 235.91 L573.8 235.91 L574 235.91 L574.2 235.91 L574.4 235.92 L574.6 235.92 L574.8 235.92 L575 235.92 L575.2 235.92 L575.4 235.92 L575.6 235.92 L575.8 235.92 L576 235.92 L576.2 235.92 L576.4 235.92 L576.6 235.92 L576.8 235.92 L577 235.91 L577.2 235.91 L577.4 235.91 L577.6 235.9 L577.8 235.9 L578 235.89 L578.2 235.88 L578.4 235.87 L578.6 235.86 L578.8 235.85 L579 235.83 L579.2 235.8 L579.4 235.75 L579.6 235.67 L579.8 235.5 L580 235.18 L580.2 234.65 L580.4 233.92 L580.6 233.1 L580.8 232.44 L581 232.19 L581.2 232.44 L581.4 233.1 L581.6 233.92 L581.8 234.66 L582 235.19 L582.2 235.51 L582.4 235.68 L582.6 235.77 L582.8 235.81 L583 235.84 L583.2 235.86 L583.4 235.88 L583.6 235.89 L583.8 235.91 L584 235.92 L584.2 235.92 L584.4 235.93 L584.6 235.94 L584.8 235.94 L585 235.95 L585.2 235.95 L585.4 235.96 L585.6 235.96 L585.8 235.96 L586 235.97 L586.2 235.97 L586.4 235.97 L586.6 235.97 L586.8 235.98 L587 235.98 L587.2 235.98 L587.4 235.98 L587.6 235.98 L587.8 235.98 L588 235.99 L588.2 235.99 L588.4 235.99 L588.6 235.99 L588.8 235.99 L589 235.99 L589.2 235.99 L589.4 236 L589.6 236 L589.8 236 L590 236 L590.2 236 L590.4 236 L590.6 236 L590.8 236 L591 236 L591.2 236 L591.4 236 L591.6 236.01 L591.8 236.01 L592 236.01 L592.2 236.01 L592.4 236.01 L592.6 236.01 L592.8 236.01 L593 236.01 L593.2 236.01 L593.4 236.01 L593.6 236.01 L593.8 236.01 L594 236.01 L594.2 236.02 L594.4 236.02 L594.6 236.02 L594.8 236.02 L595 236.02 L595.2 236.02 L595.4 236.02 L595.6 236.02 L595.8 236.02 L596 236.02 L596.2 236.02 L596.4 236.02 L596.6 236.02 L596.8 236.02 L597 236.02 L597.2 236.02 L597.4 236.03 L597.6 236.03 L597.8 236.03 L598 236.03 L598.2 236.03 L598.4 236.03 L598.6 236.03 L598.8 236.03 L599 236.03 L599.2 236.03 L599.4 236.03 L599.6 236.03 L599.8 236.03 L600 236.03 L600.2 236.03 L600.4 236.03 L600.6 236.03 L600.8 236.03 L601 236.03 L601.2 236.03 L601.4 236.03 L601.6 236.03 L601.8 236.03 L602 236.03 L602.2 236.03 L602.4 236.03 L602.6 236.03 L602.8 236.03 L603 236.03 L603.2 236.03 L603.4 236.03 L603.6 236.03 L603.8 236.03 L604 236.03 L604.2 236.03 L604.4 236.03 L604.6 236.02 L604.8 236.02 L605 236.02 L605.2 236.02 L605.4 236.01 L605.6 236.01 L605.8 236.01 L606 236 L606.2 236 L606.4 235.99 L606.6 235.98 L606.8 235.97 L607 235.96 L607.2 235.94 L607.4 235.92 L607.6 235.89 L607.8 235.83 L608 235.71 L608.2 235.49 L608.4 235.09 L608.6 234.49 L608.8 233.74 L609 233.01 L609.2 232.56 L609.4 232.56 L609.6 233.01 L609.8 233.74 L610 234.5 L610.2 235.1 L610.4 235.5 L610.6 235.72 L610.8 235.84 L611 235.9 L611.2 235.93 L611.4 235.95 L611.6 235.97 L611.8 235.99 L612 236 L612.2 236.01 L612.4 236.02 L612.6 236.02 L612.8 236.03 L613 236.03 L613.2 236.04 L613.4 236.04 L613.6 236.05 L613.8 236.05 L614 236.05 L614.2 236.06 L614.4 236.06 L614.6 236.06 L614.8 236.06 L615 236.07 L615.2 236.07 L615.4 236.07 L615.6 236.07 L615.8 236.07 L616 236.07 L616.2 236.08 L616.4 236.08 L616.6 236.08 L616.8 236.08 L617 236.08 L617.2 236.08 L617.4 236.08 L617.6 236.08 L617.8 236.09 L618 236.09 L618.2 236.09 L618.4 236.09 L618.6 236.09 L618.8 236.09 L619 236.09 L619.2 236.09 L619.4 236.09 L619.6 236.09 L619.8 236.1 L620 236.1 L620.2 236.1 L620.4 236.1 L620.6 236.1 L620.8 236.1 L621 236.1 L621.2 236.1 L621.4 236.1 L621.6 236.1 L621.8 236.1 L622 236.1 L622.2 236.1 L622.4 236.11 L622.6 236.11 L622.8 236.11 L623 236.11 L623.2 236.11 L623.4 236.11 L623.6 236.11 L623.8 236.11 L624 236.11 L624.2 236.11 L624.4 236.11 L624.6 236.11 L624.8 236.11 L625 236.11 L625.2 236.12 L625.4 236.12 L625.6 236.12 L625.8 236.12 L626 236.12 L626.2 236.12 L626.4 236.12 L626.6 236.12 L626.8 236.12 L627 236.12 L627.2 236.12 L627.4 236.12 L627.6 236.12 L627.8 236.12 L628 236.12 L628.2 236.13 L628.4 236.13 L628.6 236.13 L628.8 236.13 L629 236.13 L629.2 236.13 L629.4 236.13 L629.6 236.13 L629.8 236.13 L630 236.13 L630.2 236.13 L630.4 236.13 L630.6 236.13 L630.8 236.13 L631 236.13 L631.2 236.13 L631.4 236.14 L631.6 236.14 L631.8 236.14 L632 236.14 L632.2 236.14 L632.4 236.14 L632.6 236.14 L632.8 236.14 L633 236.14 L633.2 236.14 L633.4 236.14 L633.6 236.14 L633.8 236.14 L634 236.14 L634.2 236.14 L634.4 236.15 L634.6 236.15 L634.8 236.15 L635 236.15 L635.2 236.15 L635.4 236.15 L635.6 236.15 L635.8 236.15 L636 236.15 L636.2 236.15 L636.4 236.15 L636.6 236.15 L636.8 236.15 L637 236.15 L637.2 236.15 L637.4 236.15 L637.6 236.16 L637.8 236.16 L638 236.16 L638.2 236.16 L638.4 236.16 L638.6 236.16 L638.8 236.16 L639 236.16 L639.2 236.16 L639.4 236.16 L639.6 236.16 L639.8 236.16 L640 236.16 L640.2 236.16 L640.4 236.16 L640.6 236.16 L640.8 236.16 L641 236.17 L641.2 236.17 L641.4 236.17 L641.6 236.17 L641.8 236.17 L642 236.17 L642.2 236.17 L642.4 236.17 L642.6 236.17 L642.8 236.17 L643 236.17 L643.2 236.17 L643.4 236.17 L643.6 236.17 L643.8 236.17 L644 236.17 L644.2 236.18 L644.4 236.18 L644.6 236.18 L644.8 236.18 L645 236.18 L645.2 236.18 L645.4 236.18 L645.6 236.18 L645.8 236.18 L646 236.18 L646.2 236.18 L646.4 236.18 L646.6 236.18 L646.8 236.18 L647 236.18 L647.2 236.18 L647.4 236.19 L647.6 236.19 L647.8 236.19 L648 236.19 L648.2 236.19 L648.4 236.19 L648.6 236.19 L648.8 236.19 L649 236.19 L649.2 236.19 L649.4 236.19 L649.6 236.19 L649.8 236.19 L650 236.19 L650.2 236.19 L650.4 236.19 L650.6 236.19 L650.8 236.2 L651 236.2 L651.2 236.2 L651.4 236.2 L651.6 236.2 L651.8 236.2 L652 236.2 L652.2 236.2 L652.4 236.2 L652.6 236.2 L652.8 236.2 L653 236.2 L653.2 236.2 L653.4 236.2 L653.6 236.2 L653.8 236.2 L654 236.21 L654.2 236.21 L654.4 236.21 L654.6 236.21 L654.8 236.21 L655 236.21 L655.2 236.21 L655.4 236.21 L655.6 236.21 L655.8 236.21 L656 236.21 L656.2 236.21 L656.4 236.21 L656.6 236.21 L656.8 236.21 L657 236.21 L657.2 236.21 L657.4 236.22 L657.6 236.22 L657.8 236.22 L658 236.22 L658.2 236.22 L658.4 236.22 L658.6 236.22 L658.8 236.22 L659 236.22 L659.2 236.22 L659.4 236.22 L659.6 236.22 L659.8 236.22 L660 236.22 L660.2 236.22 L660.4 236.22 L660.6 236.23 L660.8 236.23 L661 236.23 L661.2 236.23 L661.4 236.23 L661.6 236.23 L661.8 236.23 L662 236.23 L662.2 236.23 L662.4 236.23 L662.6 236.23 L662.8 236.23 L663 236.23 L663.2 236.23 L663.4 236.23 L663.6 236.23 L663.8 236.24 L664 236.24 L664.2 236.24 L664.4 236.24 L664.6 236.24 L664.8 236.24 L665 236.24 L665.2 236.24 L665.4 236.24 L665.6 236.24 L665.8 236.24 L666 236.24 L666.2 236.24 L666.4 236.24 L666.6 236.24 L666.8 236.24 L667 236.24 L667.2 236.25 L667.4 236.25 L667.6 236.25 L667.8 236.25 L668 236.25 L668.2 236.25 L668.4 236.25 L668.6 236.25 L668.8 236.25 L669 236.25 L669.2 236.25 L669.4 236.25 L669.6 236.25 L669.8 236.25 L670 236.25 L670.2 236.25 L670.4 236.26 L670.6 236.26 L670.8 236.26 L671 236.26 L671.2 236.26 L671.4 236.26 L671.6 236.26 L671.8 236.26" fill="none" stroke="#e8161c" stroke-width="5.4" stroke-linejoin="round"/>
<path d="M297 233.46 L297.2 233.48 L297.4 233.5 L297.6 233.51 L297.8 233.53 L298 233.55 L298.2 233.56 L298.4 233.58 L298.6 233.59 L298.8 233.61 L299 233.63 L299.2 233.64 L299.4 233.66 L299.6 233.68 L299.8 233.69 L300 233.71 L300.2 233.72 L300.4 233.74 L300.6 233.76 L300.8 233.77 L301 233.79 L301.2 233.81 L301.4 233.82 L301.6 233.84 L301.8 233.85 L302 233.87 L302.2 233.89 L302.4 233.9 L302.6 233.92 L302.8 233.94 L303 233.95 L303.2 233.97 L303.4 233.98 L303.6 234 L303.8 234.02 L304 234.03 L304.2 234.05 L304.4 234.06 L304.6 234.08 L304.8 234.1 L305 234.11 L305.2 234.13 L305.4 234.15 L305.6 234.16 L305.8 234.18 L306 234.19 L306.2 234.21 L306.4 234.23 L306.6 234.24 L306.8 234.26 L307 234.27 L307.2 234.29 L307.4 234.31 L307.6 234.32 L307.8 234.34 L308 234.35 L308.2 234.37 L308.4 234.39 L308.6 234.4 L308.8 234.42 L309 234.43 L309.2 234.45 L309.4 234.47 L309.6 234.48 L309.8 234.5 L310 234.51 L310.2 234.53 L310.4 234.54 L310.6 234.56 L310.8 234.58 L311 234.59 L311.2 234.61 L311.4 234.62 L311.6 234.64 L311.8 234.65 L312 234.67 L312.2 234.69 L312.4 234.7 L312.6 234.72 L312.8 234.73 L313 234.75 L313.2 234.76 L313.4 234.78 L313.6 234.79 L313.8 234.8 L314 234.82 L314.2 234.83 L314.4 234.85 L314.6 234.86 L314.8 234.87 L315 234.88 L315.2 234.9 L315.4 234.91 L315.6 234.92 L315.8 234.93 L316 234.94 L316.2 234.94 L316.4 234.95 L316.6 234.95 L316.8 234.95 L317 234.94 L317.2 234.91 L317.4 234.85 L317.6 234.72 L317.8 234.46 L318 234.01 L318.2 233.37 L318.4 232.66 L318.6 232.09 L318.8 231.86 L319 232.09 L319.2 232.66 L319.4 233.38 L319.6 234.02 L319.8 234.48 L320 234.76 L320.2 234.91 L320.4 234.98 L320.6 235.02 L320.8 235.05 L321 235.07 L321.2 235.08 L321.4 235.09 L321.6 235.1 L321.8 235.11 L322 235.12 L322.2 235.12 L322.4 235.13 L322.6 235.13 L322.8 235.13 L323 235.14 L323.2 235.14 L323.4 235.14 L323.6 235.14 L323.8 235.15 L324 235.15 L324.2 235.15 L324.4 235.15 L324.6 235.15 L324.8 235.15 L325 235.15 L325.2 235.15 L325.4 235.15 L325.6 235.16 L325.8 235.16 L326 235.16 L326.2 235.16 L326.4 235.16 L326.6 235.16 L326.8 235.16 L327 235.16 L327.2 235.15 L327.4 235.15 L327.6 235.15 L327.8 235.15 L328 235.15 L328.2 235.15 L328.4 235.15 L328.6 235.15 L328.8 235.14 L329 235.14 L329.2 235.14 L329.4 235.13 L329.6 235.13 L329.8 235.12 L330 235.12 L330.2 235.11 L330.4 235.09 L330.6 235.07 L330.8 235.04 L331 234.96 L331.2 234.82 L331.4 234.59 L331.6 234.27 L331.8 233.92 L332 233.63 L332.2 233.52 L332.4 233.63 L332.6 233.91 L332.8 234.27 L333 234.59 L333.2 234.81 L333.4 234.95 L333.6 235.02 L333.8 235.06 L334 235.08 L334.2 235.09 L334.4 235.1 L334.6 235.1 L334.8 235.11 L335 235.11 L335.2 235.11 L335.4 235.11 L335.6 235.11 L335.8 235.11 L336 235.11 L336.2 235.1 L336.4 235.1 L336.6 235.1 L336.8 235.09 L337 235.09 L337.2 235.08 L337.4 235.08 L337.6 235.07 L337.8 235.06 L338 235.05 L338.2 235.03 L338.4 235.02 L338.6 235 L338.8 234.98 L339 234.95 L339.2 234.92 L339.4 234.88 L339.6 234.82 L339.8 234.73 L340 234.56 L340.2 234.23 L340.4 233.6 L340.6 232.57 L340.8 231.14 L341 229.55 L341.2 228.27 L341.4 227.77 L341.6 228.26 L341.8 229.54 L342 231.13 L342.2 232.56 L342.4 233.58 L342.6 234.2 L342.8 234.53 L343 234.7 L343.2 234.79 L343.4 234.84 L343.6 234.88 L343.8 234.9 L344 234.93 L344.2 234.94 L344.4 234.96 L344.6 234.97 L344.8 234.98 L345 234.98 L345.2 234.99 L345.4 234.99 L345.6 234.99 L345.8 234.99 L346 234.99 L346.2 234.99 L346.4 234.99 L346.6 234.98 L346.8 234.98 L347 234.97 L347.2 234.97 L347.4 234.96 L347.6 234.95 L347.8 234.94 L348 234.93 L348.2 234.92 L348.4 234.91 L348.6 234.9 L348.8 234.88 L349 234.87 L349.2 234.85 L349.4 234.83 L349.6 234.81 L349.8 234.79 L350 234.76 L350.2 234.73 L350.4 234.7 L350.6 234.67 L350.8 234.63 L351 234.58 L351.2 234.54 L351.4 234.48 L351.6 234.42 L351.8 234.35 L352 234.26 L352.2 234.17 L352.4 234.06 L352.6 233.92 L352.8 233.77 L353 233.57 L353.2 233.32 L353.4 232.96 L353.6 232.35 L353.8 231.19 L354 228.97 L354.2 225.07 L354.4 219.15 L354.6 211.74 L354.8 204.58 L355 200.06 L355.2 199.97 L355.4 204.31 L355.6 211.29 L355.8 218.5 L356 224.21 L356.2 227.88 L356.4 229.85 L356.6 230.71 L356.8 230.98 L357 230.94 L357.2 230.7 L357.4 230.25 L357.6 229.48 L357.8 227.99 L358 224.98 L358.2 219.04 L358.4 208.44 L358.6 192.28 L358.8 172.02 L359 152.44 L359.2 140.2 L359.4 140.23 L359.6 152.52 L359.8 172.14 L360 192.45 L360.2 208.68 L360.4 219.34 L360.6 225.36 L360.8 228.45 L361 230.03 L361.2 230.93 L361.4 231.52 L361.6 231.96 L361.8 232.3 L362 232.56 L362.2 232.75 L362.4 232.84 L362.6 232.78 L362.8 232.48 L363 231.88 L363.2 230.97 L363.4 229.93 L363.6 229.09 L363.8 228.8 L364 229.21 L364.2 230.17 L364.4 231.33 L364.6 232.37 L364.8 233.12 L365 233.58 L365.2 233.82 L365.4 233.94 L365.6 233.99 L365.8 234.02 L366 234.02 L366.2 234.01 L366.4 233.99 L366.6 233.95 L366.8 233.89 L367 233.82 L367.2 233.73 L367.4 233.61 L367.6 233.47 L367.8 233.28 L368 233.04 L368.2 232.68 L368.4 232.08 L368.6 230.95 L368.8 228.79 L369 225.01 L369.2 219.29 L369.4 212.13 L369.6 205.17 L369.8 200.69 L370 200.36 L370.2 204.07 L370.4 209.83 L370.6 214.85 L370.8 216.7 L371 214.2 L371.2 207.68 L371.4 199.19 L371.6 192.01 L371.8 189.34 L372 192.54 L372.2 200.42 L372.4 210.1 L372.6 218.8 L372.8 225.08 L373 228.9 L373.2 230.96 L373.4 232.02 L373.6 232.6 L373.8 232.97 L374 233.23 L374.2 233.44 L374.4 233.61 L374.6 233.75 L374.8 233.86 L375 233.95 L375.2 234.02 L375.4 234.08 L375.6 234.13 L375.8 234.16 L376 234.18 L376.2 234.19 L376.4 234.19 L376.6 234.18 L376.8 234.16 L377 234.13 L377.2 234.08 L377.4 234.02 L377.6 233.94 L377.8 233.84 L378 233.71 L378.2 233.56 L378.4 233.36 L378.6 233.11 L378.8 232.78 L379 232.27 L379.2 231.37 L379.4 229.59 L379.6 226.13 L379.8 220 L380 210.66 L380.2 198.96 L380.4 187.66 L380.6 180.59 L380.8 180.6 L381 187.68 L381.2 199 L381.4 210.71 L381.6 220.07 L381.8 226.22 L382 229.69 L382.2 231.48 L382.4 232.4 L382.6 232.93 L382.8 233.28 L383 233.55 L383.2 233.77 L383.4 233.95 L383.6 234.1 L383.8 234.22 L384 234.33 L384.2 234.42 L384.4 234.5 L384.6 234.57 L384.8 234.62 L385 234.68 L385.2 234.72 L385.4 234.76 L385.6 234.8 L385.8 234.83 L386 234.86 L386.2 234.89 L386.4 234.91 L386.6 234.93 L386.8 234.95 L387 234.97 L387.2 234.98 L387.4 235 L387.6 235.01 L387.8 235.02 L388 235.03 L388.2 235.04 L388.4 235.05 L388.6 235.06 L388.8 235.07 L389 235.07 L389.2 235.08 L389.4 235.08 L389.6 235.09 L389.8 235.09 L390 235.09 L390.2 235.1 L390.4 235.1 L390.6 235.1 L390.8 235.1 L391 235.1 L391.2 235.1 L391.4 235.1 L391.6 235.09 L391.8 235.09 L392 235.08 L392.2 235.08 L392.4 235.07 L392.6 235.06 L392.8 235.05 L393 235.03 L393.2 235.02 L393.4 234.99 L393.6 234.96 L393.8 234.92 L394 234.85 L394.2 234.7 L394.4 234.43 L394.6 233.94 L394.8 233.2 L395 232.28 L395.2 231.39 L395.4 230.83 L395.6 230.82 L395.8 231.36 L396 232.23 L396.2 233.13 L396.4 233.84 L396.6 234.3 L396.8 234.55 L397 234.66 L397.2 234.7 L397.4 234.71 L397.6 234.69 L397.8 234.65 L398 234.6 L398.2 234.52 L398.4 234.38 L398.6 234.1 L398.8 233.56 L399 232.53 L399.2 230.83 L399.4 228.48 L399.6 225.86 L399.8 223.74 L400 222.92 L400.2 223.73 L400.4 225.84 L400.6 228.45 L400.8 230.8 L401 232.48 L401.2 233.5 L401.4 234.04 L401.6 234.3 L401.8 234.44 L402 234.52 L402.2 234.57 L402.4 234.6 L402.6 234.63 L402.8 234.64 L403 234.65 L403.2 234.65 L403.4 234.65 L403.6 234.64 L403.8 234.62 L404 234.61 L404.2 234.58 L404.4 234.56 L404.6 234.52 L404.8 234.49 L405 234.44 L405.2 234.4 L405.4 234.34 L405.6 234.28 L405.8 234.21 L406 234.13 L406.2 234.05 L406.4 233.95 L406.6 233.84 L406.8 233.71 L407 233.57 L407.2 233.4 L407.4 233.22 L407.6 233 L407.8 232.75 L408 232.45 L408.2 232.11 L408.4 231.7 L408.6 231.22 L408.8 230.64 L409 229.93 L409.2 229.05 L409.4 227.89 L409.6 226.14 L409.8 223.08 L410 217.12 L410.2 205.53 L410.4 185 L410.6 153.76 L410.8 114.65 L411 76.88 L411.2 53.24 L411.4 53.24 L411.6 76.88 L411.8 114.65 L412 153.76 L412.2 185.01 L412.4 205.53 L412.6 217.13 L412.8 223.09 L413 226.15 L413.2 227.9 L413.4 229.06 L413.6 229.94 L413.8 230.65 L414 231.23 L414.2 231.71 L414.4 232.11 L414.6 232.46 L414.8 232.75 L415 232.99 L415.2 233.2 L415.4 233.38 L415.6 233.54 L415.8 233.67 L416 233.77 L416.2 233.85 L416.4 233.87 L416.6 233.81 L416.8 233.61 L417 233.21 L417.2 232.62 L417.4 231.95 L417.6 231.41 L417.8 231.23 L418 231.51 L418.2 232.15 L418.4 232.92 L418.6 233.61 L418.8 234.12 L419 234.44 L419.2 234.62 L419.4 234.73 L419.6 234.8 L419.8 234.84 L420 234.88 L420.2 234.92 L420.4 234.95 L420.6 234.98 L420.8 235 L421 235.03 L421.2 235.05 L421.4 235.07 L421.6 235.08 L421.8 235.1 L422 235.11 L422.2 235.13 L422.4 235.14 L422.6 235.15 L422.8 235.16 L423 235.17 L423.2 235.18 L423.4 235.19 L423.6 235.2 L423.8 235.21 L424 235.22 L424.2 235.22 L424.4 235.23 L424.6 235.24 L424.8 235.24 L425 235.25 L425.2 235.25 L425.4 235.26 L425.6 235.26 L425.8 235.27 L426 235.27 L426.2 235.27 L426.4 235.28 L426.6 235.28 L426.8 235.28 L427 235.28 L427.2 235.28 L427.4 235.29 L427.6 235.29 L427.8 235.29 L428 235.29 L428.2 235.29 L428.4 235.29 L428.6 235.28 L428.8 235.28 L429 235.28 L429.2 235.28 L429.4 235.27 L429.6 235.27 L429.8 235.26 L430 235.26 L430.2 235.25 L430.4 235.24 L430.6 235.23 L430.8 235.22 L431 235.21 L431.2 235.19 L431.4 235.17 L431.6 235.15 L431.8 235.13 L432 235.1 L432.2 235.07 L432.4 235.03 L432.6 234.99 L432.8 234.93 L433 234.87 L433.2 234.8 L433.4 234.7 L433.6 234.59 L433.8 234.43 L434 234.2 L434.2 233.79 L434.4 233 L434.6 231.46 L434.8 228.73 L435 224.58 L435.2 219.38 L435.4 214.35 L435.6 211.21 L435.8 211.21 L436 214.35 L436.2 219.37 L436.4 224.57 L436.6 228.73 L436.8 231.45 L437 232.99 L437.2 233.79 L437.4 234.19 L437.6 234.42 L437.8 234.57 L438 234.68 L438.2 234.77 L438.4 234.84 L438.6 234.9 L438.8 234.94 L439 234.97 L439.2 235 L439.4 235.01 L439.6 235.02 L439.8 235.01 L440 235 L440.2 234.95 L440.4 234.84 L440.6 234.61 L440.8 234.16 L441 233.41 L441.2 232.36 L441.4 231.19 L441.6 230.25 L441.8 229.88 L442 230.26 L442.2 231.22 L442.4 232.4 L442.6 233.47 L442.8 234.24 L443 234.7 L443.2 234.95 L443.4 235.08 L443.6 235.15 L443.8 235.19 L444 235.22 L444.2 235.24 L444.4 235.26 L444.6 235.27 L444.8 235.28 L445 235.29 L445.2 235.29 L445.4 235.29 L445.6 235.29 L445.8 235.29 L446 235.28 L446.2 235.26 L446.4 235.25 L446.6 235.22 L446.8 235.19 L447 235.13 L447.2 235.04 L447.4 234.84 L447.6 234.47 L447.8 233.79 L448 232.77 L448.2 231.49 L448.4 230.25 L448.6 229.47 L448.8 229.47 L449 230.25 L449.2 231.49 L449.4 232.78 L449.6 233.8 L449.8 234.48 L450 234.86 L450.2 235.05 L450.4 235.15 L450.6 235.2 L450.8 235.24 L451 235.27 L451.2 235.28 L451.4 235.3 L451.6 235.31 L451.8 235.32 L452 235.32 L452.2 235.32 L452.4 235.32 L452.6 235.31 L452.8 235.3 L453 235.29 L453.2 235.27 L453.4 235.25 L453.6 235.22 L453.8 235.19 L454 235.14 L454.2 235.06 L454.4 234.93 L454.6 234.67 L454.8 234.15 L455 233.24 L455.2 231.86 L455.4 230.13 L455.6 228.45 L455.8 227.4 L456 227.4 L456.2 228.45 L456.4 230.12 L456.6 231.85 L456.8 233.23 L457 234.14 L457.2 234.64 L457.4 234.9 L457.6 235.03 L457.8 235.1 L458 235.15 L458.2 235.17 L458.4 235.19 L458.6 235.21 L458.8 235.21 L459 235.21 L459.2 235.21 L459.4 235.19 L459.6 235.17 L459.8 235.15 L460 235.11 L460.2 235.07 L460.4 235 L460.6 234.92 L460.8 234.79 L461 234.57 L461.2 234.11 L461.4 233.23 L461.6 231.67 L461.8 229.29 L462 226.31 L462.2 223.44 L462.4 221.64 L462.6 221.64 L462.8 223.44 L463 226.32 L463.2 229.3 L463.4 231.69 L463.6 233.25 L463.8 234.14 L464 234.59 L464.2 234.82 L464.4 234.95 L464.6 235.04 L464.8 235.11 L465 235.16 L465.2 235.2 L465.4 235.23 L465.6 235.26 L465.8 235.28 L466 235.3 L466.2 235.31 L466.4 235.32 L466.6 235.32 L466.8 235.32 L467 235.32 L467.2 235.31 L467.4 235.3 L467.6 235.29 L467.8 235.27 L468 235.24 L468.2 235.21 L468.4 235.17 L468.6 235.11 L468.8 235.01 L469 234.84 L469.2 234.51 L469.4 233.86 L469.6 232.7 L469.8 230.94 L470 228.74 L470.2 226.61 L470.4 225.28 L470.6 225.28 L470.8 226.61 L471 228.75 L471.2 230.95 L471.4 232.71 L471.6 233.87 L471.8 234.52 L472 234.86 L472.2 235.02 L472.4 235.12 L472.6 235.18 L472.8 235.22 L473 235.25 L473.2 235.26 L473.4 235.27 L473.6 235.25 L473.8 235.18 L474 235.03 L474.2 234.75 L474.4 234.32 L474.6 233.77 L474.8 233.23 L475 232.9 L475.2 232.91 L475.4 233.26 L475.6 233.81 L475.8 234.38 L476 234.84 L476.2 235.14 L476.4 235.31 L476.6 235.4 L476.8 235.45 L477 235.48 L477.2 235.5 L477.4 235.51 L477.6 235.53 L477.8 235.54 L478 235.55 L478.2 235.55 L478.4 235.56 L478.6 235.57 L478.8 235.57 L479 235.58 L479.2 235.58 L479.4 235.59 L479.6 235.59 L479.8 235.59 L480 235.6 L480.2 235.6 L480.4 235.6 L480.6 235.6 L480.8 235.61 L481 235.61 L481.2 235.61 L481.4 235.61 L481.6 235.61 L481.8 235.61 L482 235.61 L482.2 235.61 L482.4 235.61 L482.6 235.61 L482.8 235.61 L483 235.61 L483.2 235.61 L483.4 235.61 L483.6 235.61 L483.8 235.61 L484 235.61 L484.2 235.61 L484.4 235.6 L484.6 235.6 L484.8 235.6 L485 235.59 L485.2 235.59 L485.4 235.58 L485.6 235.57 L485.8 235.57 L486 235.56 L486.2 235.54 L486.4 235.53 L486.6 235.51 L486.8 235.48 L487 235.45 L487.2 235.4 L487.4 235.31 L487.6 235.14 L487.8 234.81 L488 234.22 L488.2 233.33 L488.4 232.21 L488.6 231.13 L488.8 230.45 L489 230.45 L489.2 231.13 L489.4 232.21 L489.6 233.33 L489.8 234.23 L490 234.82 L490.2 235.15 L490.4 235.32 L490.6 235.41 L490.8 235.46 L491 235.5 L491.2 235.52 L491.4 235.54 L491.6 235.56 L491.8 235.57 L492 235.58 L492.2 235.59 L492.4 235.6 L492.6 235.61 L492.8 235.62 L493 235.62 L493.2 235.63 L493.4 235.63 L493.6 235.63 L493.8 235.64 L494 235.64 L494.2 235.64 L494.4 235.64 L494.6 235.64 L494.8 235.64 L495 235.65 L495.2 235.65 L495.4 235.64 L495.6 235.64 L495.8 235.64 L496 235.64 L496.2 235.64 L496.4 235.64 L496.6 235.63 L496.8 235.63 L497 235.62 L497.2 235.61 L497.4 235.6 L497.6 235.59 L497.8 235.58 L498 235.56 L498.2 235.54 L498.4 235.51 L498.6 235.44 L498.8 235.32 L499 235.09 L499.2 234.68 L499.4 234.04 L499.6 233.25 L499.8 232.49 L500 232.01 L500.2 232.01 L500.4 232.49 L500.6 233.26 L500.8 234.05 L501 234.68 L501.2 235.09 L501.4 235.32 L501.6 235.44 L501.8 235.51 L502 235.54 L502.2 235.56 L502.4 235.58 L502.6 235.59 L502.8 235.6 L503 235.61 L503.2 235.61 L503.4 235.62 L503.6 235.62 L503.8 235.62 L504 235.62 L504.2 235.62 L504.4 235.61 L504.6 235.6 L504.8 235.59 L505 235.58 L505.2 235.55 L505.4 235.5 L505.6 235.4 L505.8 235.21 L506 234.89 L506.2 234.46 L506.4 233.97 L506.6 233.57 L506.8 233.42 L507 233.57 L507.2 233.97 L507.4 234.45 L507.6 234.89 L507.8 235.21 L508 235.39 L508.2 235.49 L508.4 235.54 L508.6 235.57 L508.8 235.58 L509 235.59 L509.2 235.59 L509.4 235.6 L509.6 235.6 L509.8 235.59 L510 235.59 L510.2 235.58 L510.4 235.57 L510.6 235.56 L510.8 235.54 L511 235.52 L511.2 235.48 L511.4 235.42 L511.6 235.29 L511.8 235.06 L512 234.63 L512.2 233.99 L512.4 233.19 L512.6 232.42 L512.8 231.93 L513 231.92 L513.2 232.4 L513.4 233.17 L513.6 233.96 L513.8 234.59 L514 235 L514.2 235.22 L514.4 235.33 L514.6 235.38 L514.8 235.4 L515 235.41 L515.2 235.41 L515.4 235.4 L515.6 235.38 L515.8 235.36 L516 235.34 L516.2 235.3 L516.4 235.26 L516.6 235.2 L516.8 235.14 L517 235.06 L517.2 234.96 L517.4 234.83 L517.6 234.64 L517.8 234.34 L518 233.78 L518.2 232.66 L518.4 230.56 L518.6 227.1 L518.8 222.3 L519 216.96 L519.2 212.64 L519.4 210.97 L519.6 212.64 L519.8 216.96 L520 222.31 L520.2 227.12 L520.4 230.58 L520.6 232.68 L520.8 233.8 L521 234.37 L521.2 234.68 L521.4 234.86 L521.6 235 L521.8 235.11 L522 235.19 L522.2 235.26 L522.4 235.32 L522.6 235.38 L522.8 235.42 L523 235.46 L523.2 235.49 L523.4 235.52 L523.6 235.54 L523.8 235.56 L524 235.58 L524.2 235.6 L524.4 235.62 L524.6 235.63 L524.8 235.64 L525 235.65 L525.2 235.66 L525.4 235.67 L525.6 235.68 L525.8 235.69 L526 235.7 L526.2 235.7 L526.4 235.71 L526.6 235.71 L526.8 235.72 L527 235.72 L527.2 235.73 L527.4 235.73 L527.6 235.73 L527.8 235.74 L528 235.74 L528.2 235.74 L528.4 235.75 L528.6 235.75 L528.8 235.75 L529 235.75 L529.2 235.76 L529.4 235.76 L529.6 235.76 L529.8 235.76 L530 235.76 L530.2 235.76 L530.4 235.76 L530.6 235.76 L530.8 235.76 L531 235.76 L531.2 235.76 L531.4 235.76 L531.6 235.76 L531.8 235.75 L532 235.75 L532.2 235.75 L532.4 235.74 L532.6 235.73 L532.8 235.73 L533 235.72 L533.2 235.7 L533.4 235.69 L533.6 235.66 L533.8 235.62 L534 235.55 L534.2 235.4 L534.4 235.11 L534.6 234.65 L534.8 234 L535 233.28 L535.2 232.7 L535.4 232.47 L535.6 232.7 L535.8 233.28 L536 234.01 L536.2 234.66 L536.4 235.13 L536.6 235.41 L536.8 235.56 L537 235.64 L537.2 235.68 L537.4 235.71 L537.6 235.73 L537.8 235.74 L538 235.76 L538.2 235.77 L538.4 235.77 L538.6 235.78 L538.8 235.79 L539 235.79 L539.2 235.8 L539.4 235.8 L539.6 235.81 L539.8 235.81 L540 235.82 L540.2 235.82 L540.4 235.82 L540.6 235.82 L540.8 235.83 L541 235.83 L541.2 235.83 L541.4 235.83 L541.6 235.83 L541.8 235.84 L542 235.84 L542.2 235.84 L542.4 235.84 L542.6 235.84 L542.8 235.84 L543 235.84 L543.2 235.85 L543.4 235.85 L543.6 235.85 L543.8 235.85 L544 235.85 L544.2 235.85 L544.4 235.85 L544.6 235.85 L544.8 235.85 L545 235.86 L545.2 235.86 L545.4 235.86 L545.6 235.86 L545.8 235.86 L546 235.86 L546.2 235.86 L546.4 235.86 L546.6 235.86 L546.8 235.86 L547 235.86 L547.2 235.87 L547.4 235.87 L547.6 235.87 L547.8 235.87 L548 235.87 L548.2 235.87 L548.4 235.87 L548.6 235.87 L548.8 235.87 L549 235.87 L549.2 235.87 L549.4 235.87 L549.6 235.87 L549.8 235.87 L550 235.87 L550.2 235.88 L550.4 235.88 L550.6 235.88 L550.8 235.88 L551 235.88 L551.2 235.88 L551.4 235.88 L551.6 235.88 L551.8 235.88 L552 235.88 L552.2 235.88 L552.4 235.88 L552.6 235.88 L552.8 235.88 L553 235.88 L553.2 235.88 L553.4 235.88 L553.6 235.88 L553.8 235.88 L554 235.88 L554.2 235.88 L554.4 235.88 L554.6 235.89 L554.8 235.89 L555 235.89 L555.2 235.89 L555.4 235.89 L555.6 235.89 L555.8 235.89 L556 235.89 L556.2 235.89 L556.4 235.89 L556.6 235.89 L556.8 235.88 L557 235.88 L557.2 235.88 L557.4 235.88 L557.6 235.88 L557.8 235.88 L558 235.88 L558.2 235.88 L558.4 235.88 L558.6 235.88 L558.8 235.88 L559 235.87 L559.2 235.87 L559.4 235.87 L559.6 235.87 L559.8 235.86 L560 235.86 L560.2 235.85 L560.4 235.85 L560.6 235.84 L560.8 235.84 L561 235.83 L561.2 235.82 L561.4 235.81 L561.6 235.79 L561.8 235.77 L562 235.75 L562.2 235.72 L562.4 235.68 L562.6 235.6 L562.8 235.45 L563 235.15 L563.2 234.62 L563.4 233.83 L563.6 232.83 L563.8 231.86 L564 231.26 L564.2 231.26 L564.4 231.86 L564.6 232.82 L564.8 233.82 L565 234.62 L565.2 235.14 L565.4 235.44 L565.6 235.59 L565.8 235.67 L566 235.71 L566.2 235.73 L566.4 235.75 L566.6 235.77 L566.8 235.78 L567 235.78 L567.2 235.78 L567.4 235.78 L567.6 235.78 L567.8 235.77 L568 235.75 L568.2 235.71 L568.4 235.63 L568.6 235.47 L568.8 235.18 L569 234.74 L569.2 234.18 L569.4 233.64 L569.6 233.3 L569.8 233.31 L570 233.65 L570.2 234.19 L570.4 234.75 L570.6 235.2 L570.8 235.5 L571 235.66 L571.2 235.75 L571.4 235.8 L571.6 235.82 L571.8 235.84 L572 235.85 L572.2 235.86 L572.4 235.87 L572.6 235.88 L572.8 235.89 L573 235.89 L573.2 235.9 L573.4 235.9 L573.6 235.91 L573.8 235.91 L574 235.91 L574.2 235.91 L574.4 235.92 L574.6 235.92 L574.8 235.92 L575 235.92 L575.2 235.92 L575.4 235.92 L575.6 235.92 L575.8 235.92 L576 235.92 L576.2 235.92 L576.4 235.92 L576.6 235.92 L576.8 235.92 L577 235.91 L577.2 235.91 L577.4 235.91 L577.6 235.9 L577.8 235.9 L578 235.89 L578.2 235.88 L578.4 235.87 L578.6 235.86 L578.8 235.85 L579 235.83 L579.2 235.8 L579.4 235.75 L579.6 235.67 L579.8 235.5 L580 235.18 L580.2 234.65 L580.4 233.92 L580.6 233.1 L580.8 232.44 L581 232.19 L581.2 232.44 L581.4 233.1 L581.6 233.92 L581.8 234.66 L582 235.19 L582.2 235.51 L582.4 235.68 L582.6 235.77 L582.8 235.81 L583 235.84 L583.2 235.86 L583.4 235.88 L583.6 235.89 L583.8 235.91 L584 235.92 L584.2 235.92 L584.4 235.93 L584.6 235.94 L584.8 235.94 L585 235.95 L585.2 235.95 L585.4 235.96 L585.6 235.96 L585.8 235.96 L586 235.97 L586.2 235.97 L586.4 235.97 L586.6 235.97 L586.8 235.98 L587 235.98 L587.2 235.98 L587.4 235.98 L587.6 235.98 L587.8 235.98 L588 235.99 L588.2 235.99 L588.4 235.99 L588.6 235.99 L588.8 235.99 L589 235.99 L589.2 235.99 L589.4 236 L589.6 236 L589.8 236 L590 236 L590.2 236 L590.4 236 L590.6 236 L590.8 236 L591 236 L591.2 236 L591.4 236 L591.6 236.01 L591.8 236.01 L592 236.01 L592.2 236.01 L592.4 236.01 L592.6 236.01 L592.8 236.01 L593 236.01 L593.2 236.01 L593.4 236.01 L593.6 236.01 L593.8 236.01 L594 236.01 L594.2 236.02 L594.4 236.02 L594.6 236.02 L594.8 236.02 L595 236.02 L595.2 236.02 L595.4 236.02 L595.6 236.02 L595.8 236.02 L596 236.02 L596.2 236.02 L596.4 236.02 L596.6 236.02 L596.8 236.02 L597 236.02 L597.2 236.02 L597.4 236.03 L597.6 236.03 L597.8 236.03 L598 236.03 L598.2 236.03 L598.4 236.03 L598.6 236.03 L598.8 236.03 L599 236.03 L599.2 236.03 L599.4 236.03 L599.6 236.03 L599.8 236.03 L600 236.03 L600.2 236.03 L600.4 236.03 L600.6 236.03 L600.8 236.03 L601 236.03 L601.2 236.03 L601.4 236.03 L601.6 236.03 L601.8 236.03 L602 236.03 L602.2 236.03 L602.4 236.03 L602.6 236.03 L602.8 236.03 L603 236.03 L603.2 236.03 L603.4 236.03 L603.6 236.03 L603.8 236.03 L604 236.03 L604.2 236.03 L604.4 236.03 L604.6 236.02 L604.8 236.02 L605 236.02 L605.2 236.02 L605.4 236.01 L605.6 236.01 L605.8 236.01 L606 236 L606.2 236 L606.4 235.99 L606.6 235.98 L606.8 235.97 L607 235.96 L607.2 235.94 L607.4 235.92 L607.6 235.89 L607.8 235.83 L608 235.71 L608.2 235.49 L608.4 235.09 L608.6 234.49 L608.8 233.74 L609 233.01 L609.2 232.56 L609.4 232.56 L609.6 233.01 L609.8 233.74 L610 234.5 L610.2 235.1 L610.4 235.5 L610.6 235.72 L610.8 235.84 L611 235.9 L611.2 235.93 L611.4 235.95 L611.6 235.97 L611.8 235.99 L612 236 L612.2 236.01 L612.4 236.02 L612.6 236.02 L612.8 236.03 L613 236.03 L613.2 236.04 L613.4 236.04 L613.6 236.05 L613.8 236.05 L614 236.05 L614.2 236.06 L614.4 236.06 L614.6 236.06 L614.8 236.06 L615 236.07 L615.2 236.07 L615.4 236.07 L615.6 236.07 L615.8 236.07 L616 236.07 L616.2 236.08 L616.4 236.08 L616.6 236.08 L616.8 236.08 L617 236.08 L617.2 236.08 L617.4 236.08 L617.6 236.08 L617.8 236.09 L618 236.09 L618.2 236.09 L618.4 236.09 L618.6 236.09 L618.8 236.09 L619 236.09 L619.2 236.09 L619.4 236.09 L619.6 236.09 L619.8 236.1 L620 236.1 L620.2 236.1 L620.4 236.1 L620.6 236.1 L620.8 236.1 L621 236.1 L621.2 236.1 L621.4 236.1 L621.6 236.1 L621.8 236.1 L622 236.1 L622.2 236.1 L622.4 236.11 L622.6 236.11 L622.8 236.11 L623 236.11 L623.2 236.11 L623.4 236.11 L623.6 236.11 L623.8 236.11 L624 236.11 L624.2 236.11 L624.4 236.11 L624.6 236.11 L624.8 236.11 L625 236.11 L625.2 236.12 L625.4 236.12 L625.6 236.12 L625.8 236.12 L626 236.12 L626.2 236.12 L626.4 236.12 L626.6 236.12 L626.8 236.12 L627 236.12 L627.2 236.12 L627.4 236.12 L627.6 236.12 L627.8 236.12 L628 236.12 L628.2 236.13 L628.4 236.13 L628.6 236.13 L628.8 236.13 L629 236.13 L629.2 236.13 L629.4 236.13 L629.6 236.13 L629.8 236.13 L630 236.13 L630.2 236.13 L630.4 236.13 L630.6 236.13 L630.8 236.13 L631 236.13 L631.2 236.13 L631.4 236.14 L631.6 236.14 L631.8 236.14 L632 236.14 L632.2 236.14 L632.4 236.14 L632.6 236.14 L632.8 236.14 L633 236.14 L633.2 236.14 L633.4 236.14 L633.6 236.14 L633.8 236.14 L634 236.14 L634.2 236.14 L634.4 236.15 L634.6 236.15 L634.8 236.15 L635 236.15 L635.2 236.15 L635.4 236.15 L635.6 236.15 L635.8 236.15 L636 236.15 L636.2 236.15 L636.4 236.15 L636.6 236.15 L636.8 236.15 L637 236.15 L637.2 236.15 L637.4 236.15 L637.6 236.16 L637.8 236.16 L638 236.16 L638.2 236.16 L638.4 236.16 L638.6 236.16 L638.8 236.16 L639 236.16 L639.2 236.16 L639.4 236.16 L639.6 236.16 L639.8 236.16 L640 236.16 L640.2 236.16 L640.4 236.16 L640.6 236.16 L640.8 236.16 L641 236.17 L641.2 236.17 L641.4 236.17 L641.6 236.17 L641.8 236.17 L642 236.17 L642.2 236.17 L642.4 236.17 L642.6 236.17 L642.8 236.17 L643 236.17 L643.2 236.17 L643.4 236.17 L643.6 236.17 L643.8 236.17 L644 236.17 L644.2 236.18 L644.4 236.18 L644.6 236.18 L644.8 236.18 L645 236.18 L645.2 236.18 L645.4 236.18 L645.6 236.18 L645.8 236.18 L646 236.18 L646.2 236.18 L646.4 236.18 L646.6 236.18 L646.8 236.18 L647 236.18 L647.2 236.18 L647.4 236.19 L647.6 236.19 L647.8 236.19 L648 236.19 L648.2 236.19 L648.4 236.19 L648.6 236.19 L648.8 236.19 L649 236.19 L649.2 236.19 L649.4 236.19 L649.6 236.19 L649.8 236.19 L650 236.19 L650.2 236.19 L650.4 236.19 L650.6 236.19 L650.8 236.2 L651 236.2 L651.2 236.2 L651.4 236.2 L651.6 236.2 L651.8 236.2 L652 236.2 L652.2 236.2 L652.4 236.2 L652.6 236.2 L652.8 236.2 L653 236.2 L653.2 236.2 L653.4 236.2 L653.6 236.2 L653.8 236.2 L654 236.21 L654.2 236.21 L654.4 236.21 L654.6 236.21 L654.8 236.21 L655 236.21 L655.2 236.21 L655.4 236.21 L655.6 236.21 L655.8 236.21 L656 236.21 L656.2 236.21 L656.4 236.21 L656.6 236.21 L656.8 236.21 L657 236.21 L657.2 236.21 L657.4 236.22 L657.6 236.22 L657.8 236.22 L658 236.22 L658.2 236.22 L658.4 236.22 L658.6 236.22 L658.8 236.22 L659 236.22 L659.2 236.22 L659.4 236.22 L659.6 236.22 L659.8 236.22 L660 236.22 L660.2 236.22 L660.4 236.22 L660.6 236.23 L660.8 236.23 L661 236.23 L661.2 236.23 L661.4 236.23 L661.6 236.23 L661.8 236.23 L662 236.23 L662.2 236.23 L662.4 236.23 L662.6 236.23 L662.8 236.23 L663 236.23 L663.2 236.23 L663.4 236.23 L663.6 236.23 L663.8 236.24 L664 236.24 L664.2 236.24 L664.4 236.24 L664.6 236.24 L664.8 236.24 L665 236.24 L665.2 236.24 L665.4 236.24 L665.6 236.24 L665.8 236.24 L666 236.24 L666.2 236.24 L666.4 236.24 L666.6 236.24 L666.8 236.24 L667 236.24 L667.2 236.25 L667.4 236.25 L667.6 236.25 L667.8 236.25 L668 236.25 L668.2 236.25 L668.4 236.25 L668.6 236.25 L668.8 236.25 L669 236.25 L669.2 236.25 L669.4 236.25 L669.6 236.25 L669.8 236.25 L670 236.25 L670.2 236.25 L670.4 236.26 L670.6 236.26 L670.8 236.26 L671 236.26 L671.2 236.26 L671.4 236.26 L671.6 236.26 L671.8 236.26" fill="none" stroke="#8c4a14" stroke-width="2.6" stroke-linejoin="round"/>
</g>
<rect x="409.2" y="20" width="4.2" height="9.3" fill="#e8161c"/>
<rect x="409.2" y="32" width="4.2" height="8" fill="#e8161c"/>
<rect x="409.1" y="62" width="4.4" height="3.2" fill="#a8401a"/>
<rect x="409.1" y="88" width="4.4" height="3.2" fill="#a8401a"/>
<rect x="409.1" y="102" width="4.4" height="3.2" fill="#a8401a"/>
<rect x="409.1" y="106" width="4.4" height="3.2" fill="#a8401a"/>
<rect x="409.1" y="120" width="4.4" height="3.2" fill="#a8401a"/>
<rect x="409.1" y="132" width="4.4" height="3.2" fill="#a8401a"/>
<rect x="409.1" y="147" width="4.4" height="3.2" fill="#a8401a"/>
<rect x="409.1" y="158" width="4.4" height="3.2" fill="#a8401a"/>
<rect x="409.1" y="170" width="4.4" height="3.2" fill="#a8401a"/>
<rect x="409.1" y="182" width="4.4" height="3.2" fill="#a8401a"/>
<rect x="409.1" y="194" width="4.4" height="3.2" fill="#a8401a"/>
<rect x="409.1" y="205" width="4.4" height="3.2" fill="#a8401a"/>
<rect x="409.1" y="213" width="4.4" height="3.2" fill="#a8401a"/>
<rect x="357.2" y="107.4" width="4.2" height="8.2" fill="#e8161c"/>
<rect x="357.2" y="122" width="4.2" height="4" fill="#e8161c"/>
<rect x="357.2" y="135.5" width="4.2" height="3.5" fill="#e8161c"/>
<rect x="357.1" y="148" width="4.4" height="3.2" fill="#a8401a"/>
<rect x="357.1" y="157" width="4.4" height="3.2" fill="#a8401a"/>
<rect x="357.1" y="167" width="4.4" height="3.2" fill="#a8401a"/>
<rect x="357.1" y="175" width="4.4" height="3.2" fill="#a8401a"/>
<rect x="357.1" y="188" width="4.4" height="3.2" fill="#a8401a"/>
<rect x="357.1" y="196" width="4.4" height="3.2" fill="#a8401a"/>
<path d="M297 234.6 L297.2 234.6 L297.4 234.6 L297.6 234.61 L297.8 234.61 L298 234.61 L298.2 234.61 L298.4 234.62 L298.6 234.62 L298.8 234.62 L299 234.63 L299.2 234.63 L299.4 234.63 L299.6 234.63 L299.8 234.64 L300 234.64 L300.2 234.64 L300.4 234.64 L300.6 234.65 L300.8 234.65 L301 234.65 L301.2 234.65 L301.4 234.66 L301.6 234.66 L301.8 234.66 L302 234.66 L302.2 234.67 L302.4 234.67 L302.6 234.67 L302.8 234.67 L303 234.68 L303.2 234.68 L303.4 234.68 L303.6 234.68 L303.8 234.69 L304 234.69 L304.2 234.69 L304.4 234.69 L304.6 234.7 L304.8 234.7 L305 234.7 L305.2 234.7 L305.4 234.71 L305.6 234.71 L305.8 234.71 L306 234.71 L306.2 234.72 L306.4 234.72 L306.6 234.72 L306.8 234.72 L307 234.73 L307.2 234.73 L307.4 234.73 L307.6 234.73 L307.8 234.74 L308 234.74 L308.2 234.74 L308.4 234.74 L308.6 234.75 L308.8 234.75 L309 234.75 L309.2 234.75 L309.4 234.76 L309.6 234.76 L309.8 234.76 L310 234.76 L310.2 234.77 L310.4 234.77 L310.6 234.77 L310.8 234.77 L311 234.77 L311.2 234.78 L311.4 234.78 L311.6 234.78 L311.8 234.78 L312 234.78 L312.2 234.79 L312.4 234.79 L312.6 234.79 L312.8 234.79 L313 234.79 L313.2 234.79 L313.4 234.79 L313.6 234.8 L313.8 234.8 L314 234.8 L314.2 234.8 L314.4 234.8 L314.6 234.8 L314.8 234.8 L315 234.8 L315.2 234.8 L315.4 234.79 L315.6 234.79 L315.8 234.79 L316 234.78 L316.2 234.78 L316.4 234.77 L316.6 234.76 L316.8 234.74 L317 234.72 L317.2 234.69 L317.4 234.64 L317.6 234.53 L317.8 234.29 L318 233.85 L318.2 233.17 L318.4 232.35 L318.6 231.65 L318.8 231.37 L319 231.65 L319.2 232.35 L319.4 233.17 L319.6 233.85 L319.8 234.29 L320 234.53 L320.2 234.65 L320.4 234.7 L320.6 234.74 L320.8 234.76 L321 234.77 L321.2 234.79 L321.4 234.8 L321.6 234.81 L321.8 234.81 L322 234.82 L322.2 234.83 L322.4 234.83 L322.6 234.83 L322.8 234.84 L323 234.84 L323.2 234.84 L323.4 234.84 L323.6 234.84 L323.8 234.85 L324 234.85 L324.2 234.85 L324.4 234.85 L324.6 234.85 L324.8 234.85 L325 234.85 L325.2 234.85 L325.4 234.85 L325.6 234.85 L325.8 234.85 L326 234.85 L326.2 234.85 L326.4 234.85 L326.6 234.85 L326.8 234.85 L327 234.85 L327.2 234.85 L327.4 234.85 L327.6 234.85 L327.8 234.84 L328 234.84 L328.2 234.84 L328.4 234.84 L328.6 234.84 L328.8 234.83 L329 234.83 L329.2 234.83 L329.4 234.82 L329.6 234.81 L329.8 234.81 L330 234.8 L330.2 234.79 L330.4 234.77 L330.6 234.75 L330.8 234.72 L331 234.64 L331.2 234.49 L331.4 234.21 L331.6 233.77 L331.8 233.25 L332 232.8 L332.2 232.62 L332.4 232.8 L332.6 233.25 L332.8 233.77 L333 234.2 L333.2 234.48 L333.4 234.63 L333.6 234.7 L333.8 234.73 L334 234.75 L334.2 234.76 L334.4 234.77 L334.6 234.78 L334.8 234.78 L335 234.78 L335.2 234.78 L335.4 234.78 L335.6 234.78 L335.8 234.78 L336 234.78 L336.2 234.78 L336.4 234.77 L336.6 234.77 L336.8 234.76 L337 234.75 L337.2 234.75 L337.4 234.74 L337.6 234.73 L337.8 234.71 L338 234.7 L338.2 234.68 L338.4 234.66 L338.6 234.63 L338.8 234.6 L339 234.57 L339.2 234.52 L339.4 234.47 L339.6 234.39 L339.8 234.29 L340 234.1 L340.2 233.71 L340.4 232.9 L340.6 231.42 L340.8 229.13 L341 226.38 L341.2 224.03 L341.4 223.09 L341.6 224.02 L341.8 226.37 L342 229.12 L342.2 231.4 L342.4 232.88 L342.6 233.69 L342.8 234.07 L343 234.26 L343.2 234.36 L343.4 234.43 L343.6 234.48 L343.8 234.53 L344 234.56 L344.2 234.58 L344.4 234.61 L344.6 234.62 L344.8 234.64 L345 234.65 L345.2 234.66 L345.4 234.66 L345.6 234.67 L345.8 234.67 L346 234.67 L346.2 234.67 L346.4 234.67 L346.6 234.67 L346.8 234.67 L347 234.67 L347.2 234.66 L347.4 234.66 L347.6 234.65 L347.8 234.65 L348 234.64 L348.2 234.63 L348.4 234.62 L348.6 234.61 L348.8 234.6 L349 234.59 L349.2 234.58 L349.4 234.56 L349.6 234.54 L349.8 234.52 L350 234.5 L350.2 234.48 L350.4 234.46 L350.6 234.43 L350.8 234.39 L351 234.36 L351.2 234.32 L351.4 234.27 L351.6 234.22 L351.8 234.16 L352 234.09 L352.2 234.01 L352.4 233.92 L352.6 233.8 L352.8 233.67 L353 233.51 L353.2 233.3 L353.4 233.03 L353.6 232.6 L353.8 231.8 L354 230.15 L354.2 226.93 L354.4 221.48 L354.6 214 L354.8 206.27 L355 201.2 L355.2 201.13 L355.4 206.04 L355.6 213.61 L355.8 220.92 L356 226.19 L356.2 229.21 L356.4 230.63 L356.6 231.17 L356.8 231.3 L357 231.22 L357.2 230.99 L357.4 230.61 L357.6 230.01 L357.8 228.95 L358 226.81 L358.2 222.23 L358.4 213.09 L358.6 197.53 L358.8 176.16 L359 154.05 L359.2 139.63 L359.4 139.65 L359.6 154.11 L359.8 176.26 L360 197.68 L360.2 213.28 L360.4 222.47 L360.6 227.12 L360.8 229.33 L361 230.47 L361.2 231.17 L361.4 231.67 L361.6 232.06 L361.8 232.36 L362 232.59 L362.2 232.76 L362.4 232.86 L362.6 232.83 L362.8 232.57 L363 231.98 L363.2 230.98 L363.4 229.75 L363.6 228.7 L363.8 228.31 L364 228.8 L364.2 229.96 L364.4 231.3 L364.6 232.41 L364.8 233.13 L365 233.53 L365.2 233.72 L365.4 233.81 L365.6 233.85 L365.8 233.87 L366 233.88 L366.2 233.87 L366.4 233.85 L366.6 233.82 L366.8 233.78 L367 233.72 L367.2 233.64 L367.4 233.54 L367.6 233.42 L367.8 233.26 L368 233.06 L368.2 232.79 L368.4 232.35 L368.6 231.53 L368.8 229.87 L369 226.61 L369.2 221.11 L369.4 213.58 L369.6 205.76 L369.8 200.58 L370 200.35 L370.2 205.02 L370.4 212.08 L370.6 218.25 L370.8 221.06 L371 219.43 L371.2 213.63 L371.4 205.47 L371.6 198.25 L371.8 195.46 L372 198.67 L372.2 206.44 L372.4 215.47 L372.6 222.97 L372.8 227.86 L373 230.53 L373.2 231.84 L373.4 232.5 L373.6 232.88 L373.8 233.14 L374 233.34 L374.2 233.5 L374.4 233.62 L374.6 233.73 L374.8 233.81 L375 233.88 L375.2 233.94 L375.4 233.98 L375.6 234.01 L375.8 234.03 L376 234.05 L376.2 234.05 L376.4 234.05 L376.6 234.04 L376.8 234.01 L377 233.98 L377.2 233.94 L377.4 233.88 L377.6 233.81 L377.8 233.72 L378 233.61 L378.2 233.47 L378.4 233.3 L378.6 233.08 L378.8 232.8 L379 232.41 L379.2 231.77 L379.4 230.51 L379.6 227.88 L379.8 222.66 L380 213.79 L380.2 201.62 L380.4 189.03 L380.6 180.82 L380.8 180.83 L381 189.05 L381.2 201.65 L381.4 213.83 L381.6 222.71 L381.8 227.94 L382 230.59 L382.2 231.85 L382.4 232.51 L382.6 232.92 L382.8 233.21 L383 233.44 L383.2 233.63 L383.4 233.79 L383.6 233.92 L383.8 234.03 L384 234.12 L384.2 234.19 L384.4 234.26 L384.6 234.32 L384.8 234.37 L385 234.41 L385.2 234.45 L385.4 234.49 L385.6 234.52 L385.8 234.54 L386 234.57 L386.2 234.59 L386.4 234.61 L386.6 234.63 L386.8 234.64 L387 234.66 L387.2 234.67 L387.4 234.68 L387.6 234.69 L387.8 234.7 L388 234.71 L388.2 234.72 L388.4 234.73 L388.6 234.73 L388.8 234.74 L389 234.74 L389.2 234.75 L389.4 234.75 L389.6 234.75 L389.8 234.76 L390 234.76 L390.2 234.76 L390.4 234.76 L390.6 234.76 L390.8 234.76 L391 234.76 L391.2 234.76 L391.4 234.75 L391.6 234.75 L391.8 234.75 L392 234.74 L392.2 234.73 L392.4 234.73 L392.6 234.71 L392.8 234.7 L393 234.69 L393.2 234.67 L393.4 234.64 L393.6 234.61 L393.8 234.57 L394 234.51 L394.2 234.39 L394.4 234.14 L394.6 233.65 L394.8 232.81 L395 231.67 L395.2 230.49 L395.4 229.71 L395.6 229.71 L395.8 230.46 L396 231.62 L396.2 232.75 L396.4 233.56 L396.6 234.03 L396.8 234.25 L397 234.35 L397.2 234.38 L397.4 234.38 L397.6 234.37 L397.8 234.34 L398 234.29 L398.2 234.22 L398.4 234.12 L398.6 233.92 L398.8 233.5 L399 232.64 L399.2 231.04 L399.4 228.58 L399.6 225.62 L399.8 223.08 L400 222.07 L400.2 223.08 L400.4 225.6 L400.6 228.56 L400.8 231.01 L401 232.6 L401.2 233.46 L401.4 233.87 L401.6 234.06 L401.8 234.17 L402 234.23 L402.2 234.28 L402.4 234.31 L402.6 234.34 L402.8 234.35 L403 234.36 L403.2 234.36 L403.4 234.36 L403.6 234.35 L403.8 234.34 L404 234.33 L404.2 234.31 L404.4 234.29 L404.6 234.26 L404.8 234.23 L405 234.19 L405.2 234.15 L405.4 234.11 L405.6 234.05 L405.8 233.99 L406 233.93 L406.2 233.85 L406.4 233.77 L406.6 233.67 L406.8 233.57 L407 233.44 L407.2 233.3 L407.4 233.14 L407.6 232.95 L407.8 232.73 L408 232.48 L408.2 232.18 L408.4 231.82 L408.6 231.4 L408.8 230.88 L409 230.26 L409.2 229.48 L409.4 228.49 L409.6 227.13 L409.8 224.93 L410 220.67 L410.2 211.74 L410.4 194.09 L410.6 164.11 L410.8 122.97 L411 80.43 L411.2 52.67 L411.4 52.67 L411.6 80.43 L411.8 122.98 L412 164.12 L412.2 194.1 L412.4 211.75 L412.6 220.67 L412.8 224.93 L413 227.14 L413.2 228.5 L413.4 229.49 L413.6 230.26 L413.8 230.89 L414 231.4 L414.2 231.83 L414.4 232.18 L414.6 232.48 L414.8 232.73 L415 232.94 L415.2 233.13 L415.4 233.28 L415.6 233.42 L415.8 233.53 L416 233.62 L416.2 233.69 L416.4 233.73 L416.6 233.7 L416.8 233.56 L417 233.22 L417.2 232.66 L417.4 231.97 L417.6 231.38 L417.8 231.17 L418 231.46 L418.2 232.14 L418.4 232.91 L418.6 233.56 L418.8 233.99 L419 234.24 L419.2 234.37 L419.4 234.44 L419.6 234.49 L419.8 234.53 L420 234.56 L420.2 234.59 L420.4 234.62 L420.6 234.64 L420.8 234.66 L421 234.68 L421.2 234.7 L421.4 234.72 L421.6 234.73 L421.8 234.74 L422 234.76 L422.2 234.77 L422.4 234.78 L422.6 234.79 L422.8 234.8 L423 234.81 L423.2 234.81 L423.4 234.82 L423.6 234.83 L423.8 234.84 L424 234.84 L424.2 234.85 L424.4 234.85 L424.6 234.86 L424.8 234.86 L425 234.87 L425.2 234.87 L425.4 234.88 L425.6 234.88 L425.8 234.88 L426 234.89 L426.2 234.89 L426.4 234.89 L426.6 234.9 L426.8 234.9 L427 234.9 L427.2 234.9 L427.4 234.9 L427.6 234.9 L427.8 234.9 L428 234.9 L428.2 234.9 L428.4 234.9 L428.6 234.9 L428.8 234.9 L429 234.9 L429.2 234.9 L429.4 234.9 L429.6 234.89 L429.8 234.89 L430 234.89 L430.2 234.88 L430.4 234.88 L430.6 234.87 L430.8 234.86 L431 234.85 L431.2 234.84 L431.4 234.83 L431.6 234.82 L431.8 234.8 L432 234.78 L432.2 234.76 L432.4 234.73 L432.6 234.7 L432.8 234.66 L433 234.62 L433.2 234.56 L433.4 234.49 L433.6 234.41 L433.8 234.3 L434 234.16 L434.2 233.92 L434.4 233.45 L434.6 232.49 L434.8 230.57 L435 227.31 L435.2 222.85 L435.4 218.23 L435.6 215.21 L435.8 215.21 L436 218.23 L436.2 222.85 L436.4 227.31 L436.6 230.56 L436.8 232.48 L437 233.45 L437.2 233.91 L437.4 234.14 L437.6 234.29 L437.8 234.39 L438 234.47 L438.2 234.53 L438.4 234.58 L438.6 234.62 L438.8 234.65 L439 234.67 L439.2 234.68 L439.4 234.69 L439.6 234.69 L439.8 234.68 L440 234.66 L440.2 234.62 L440.4 234.54 L440.6 234.36 L440.8 233.98 L441 233.27 L441.2 232.16 L441.4 230.83 L441.6 229.69 L441.8 229.24 L442 229.7 L442.2 230.85 L442.4 232.19 L442.6 233.31 L442.8 234.03 L443 234.43 L443.2 234.62 L443.4 234.71 L443.6 234.76 L443.8 234.8 L444 234.82 L444.2 234.84 L444.4 234.86 L444.6 234.87 L444.8 234.88 L445 234.88 L445.2 234.89 L445.4 234.89 L445.6 234.88 L445.8 234.88 L446 234.87 L446.2 234.86 L446.4 234.84 L446.6 234.82 L446.8 234.79 L447 234.75 L447.2 234.68 L447.4 234.54 L447.6 234.24 L447.8 233.65 L448 232.65 L448.2 231.27 L448.4 229.85 L448.6 228.92 L448.8 228.92 L449 229.85 L449.2 231.27 L449.4 232.65 L449.6 233.65 L449.8 234.24 L450 234.54 L450.2 234.68 L450.4 234.76 L450.6 234.8 L450.8 234.83 L451 234.85 L451.2 234.87 L451.4 234.88 L451.6 234.89 L451.8 234.9 L452 234.9 L452.2 234.9 L452.4 234.9 L452.6 234.89 L452.8 234.89 L453 234.88 L453.2 234.86 L453.4 234.84 L453.6 234.82 L453.8 234.78 L454 234.74 L454.2 234.68 L454.4 234.59 L454.6 234.4 L454.8 234 L455 233.22 L455.2 231.89 L455.4 230.07 L455.6 228.19 L455.8 226.95 L456 226.95 L456.2 228.18 L456.4 230.06 L456.6 231.88 L456.8 233.21 L457 233.99 L457.2 234.38 L457.4 234.56 L457.6 234.65 L457.8 234.71 L458 234.74 L458.2 234.77 L458.4 234.79 L458.6 234.8 L458.8 234.8 L459 234.8 L459.2 234.8 L459.4 234.78 L459.6 234.77 L459.8 234.74 L460 234.71 L460.2 234.67 L460.4 234.62 L460.6 234.55 L460.8 234.45 L461 234.28 L461.2 233.96 L461.4 233.28 L461.6 231.93 L461.8 229.63 L462 226.48 L462.2 223.23 L462.4 221.1 L462.6 221.1 L462.8 223.23 L463 226.49 L463.2 229.64 L463.4 231.94 L463.6 233.29 L463.8 233.97 L464 234.3 L464.2 234.47 L464.4 234.57 L464.6 234.64 L464.8 234.7 L465 234.75 L465.2 234.78 L465.4 234.81 L465.6 234.83 L465.8 234.85 L466 234.87 L466.2 234.88 L466.4 234.88 L466.6 234.89 L466.8 234.89 L467 234.89 L467.2 234.88 L467.4 234.87 L467.6 234.86 L467.8 234.84 L468 234.81 L468.2 234.78 L468.4 234.74 L468.6 234.69 L468.8 234.61 L469 234.49 L469.2 234.25 L469.4 233.73 L469.6 232.71 L469.8 230.98 L470 228.6 L470.2 226.14 L470.4 224.53 L470.6 224.53 L470.8 226.14 L471 228.6 L471.2 230.98 L471.4 232.71 L471.6 233.73 L471.8 234.25 L472 234.49 L472.2 234.61 L472.4 234.69 L472.6 234.74 L472.8 234.77 L473 234.8 L473.2 234.81 L473.4 234.81 L473.6 234.79 L473.8 234.74 L474 234.6 L474.2 234.3 L474.4 233.78 L474.6 233.07 L474.8 232.33 L475 231.84 L475.2 231.85 L475.4 232.35 L475.6 233.1 L475.8 233.83 L476 234.37 L476.2 234.68 L476.4 234.84 L476.6 234.92 L476.8 234.97 L477 234.99 L477.2 235.01 L477.4 235.03 L477.6 235.04 L477.8 235.05 L478 235.06 L478.2 235.07 L478.4 235.08 L478.6 235.09 L478.8 235.09 L479 235.1 L479.2 235.1 L479.4 235.1 L479.6 235.11 L479.8 235.11 L480 235.11 L480.2 235.12 L480.4 235.12 L480.6 235.12 L480.8 235.12 L481 235.12 L481.2 235.12 L481.4 235.13 L481.6 235.13 L481.8 235.13 L482 235.13 L482.2 235.13 L482.4 235.13 L482.6 235.13 L482.8 235.13 L483 235.13 L483.2 235.13 L483.4 235.13 L483.6 235.13 L483.8 235.12 L484 235.12 L484.2 235.12 L484.4 235.12 L484.6 235.12 L484.8 235.11 L485 235.11 L485.2 235.1 L485.4 235.1 L485.6 235.09 L485.8 235.09 L486 235.08 L486.2 235.06 L486.4 235.05 L486.6 235.03 L486.8 235.01 L487 234.98 L487.2 234.95 L487.4 234.88 L487.6 234.76 L487.8 234.51 L488 234.01 L488.2 233.15 L488.4 231.98 L488.6 230.77 L488.8 229.98 L489 229.98 L489.2 230.77 L489.4 231.98 L489.6 233.15 L489.8 234.01 L490 234.51 L490.2 234.77 L490.4 234.89 L490.6 234.95 L490.8 234.99 L491 235.02 L491.2 235.04 L491.4 235.06 L491.6 235.07 L491.8 235.09 L492 235.1 L492.2 235.11 L492.4 235.11 L492.6 235.12 L492.8 235.12 L493 235.13 L493.2 235.13 L493.4 235.13 L493.6 235.14 L493.8 235.14 L494 235.14 L494.2 235.14 L494.4 235.14 L494.6 235.14 L494.8 235.14 L495 235.14 L495.2 235.14 L495.4 235.14 L495.6 235.14 L495.8 235.14 L496 235.14 L496.2 235.14 L496.4 235.13 L496.6 235.13 L496.8 235.12 L497 235.12 L497.2 235.11 L497.4 235.1 L497.6 235.09 L497.8 235.07 L498 235.06 L498.2 235.03 L498.4 235 L498.6 234.95 L498.8 234.85 L499 234.65 L499.2 234.24 L499.4 233.54 L499.6 232.58 L499.8 231.59 L500 230.95 L500.2 230.95 L500.4 231.59 L500.6 232.58 L500.8 233.54 L501 234.24 L501.2 234.65 L501.4 234.85 L501.6 234.95 L501.8 235 L502 235.03 L502.2 235.05 L502.4 235.07 L502.6 235.08 L502.8 235.09 L503 235.1 L503.2 235.11 L503.4 235.11 L503.6 235.11 L503.8 235.11 L504 235.11 L504.2 235.11 L504.4 235.1 L504.6 235.1 L504.8 235.09 L505 235.07 L505.2 235.05 L505.4 235.01 L505.6 234.93 L505.8 234.76 L506 234.44 L506.2 233.94 L506.4 233.35 L506.6 232.84 L506.8 232.64 L507 232.84 L507.2 233.35 L507.4 233.94 L507.6 234.43 L507.8 234.75 L508 234.93 L508.2 235.01 L508.4 235.05 L508.6 235.07 L508.8 235.08 L509 235.09 L509.2 235.09 L509.4 235.1 L509.6 235.1 L509.8 235.09 L510 235.09 L510.2 235.08 L510.4 235.08 L510.6 235.06 L510.8 235.05 L511 235.03 L511.2 235 L511.4 234.95 L511.6 234.85 L511.8 234.65 L512 234.26 L512.2 233.59 L512.4 232.67 L512.6 231.72 L512.8 231.1 L513 231.1 L513.2 231.72 L513.4 232.66 L513.6 233.57 L513.8 234.24 L514 234.63 L514.2 234.82 L514.4 234.91 L514.6 234.95 L514.8 234.97 L515 234.99 L515.2 234.99 L515.4 235 L515.6 234.99 L515.8 234.99 L516 234.97 L516.2 234.96 L516.4 234.94 L516.6 234.91 L516.8 234.87 L517 234.83 L517.2 234.78 L517.4 234.7 L517.6 234.61 L517.8 234.47 L518 234.22 L518.2 233.7 L518.4 232.62 L518.6 230.63 L518.8 227.57 L519 223.88 L519.2 220.72 L519.4 219.47 L519.6 220.73 L519.8 223.88 L520 227.58 L520.2 230.64 L520.4 232.64 L520.6 233.72 L520.8 234.24 L521 234.49 L521.2 234.64 L521.4 234.74 L521.6 234.81 L521.8 234.87 L522 234.92 L522.2 234.96 L522.4 234.99 L522.6 235.02 L522.8 235.05 L523 235.07 L523.2 235.08 L523.4 235.1 L523.6 235.11 L523.8 235.13 L524 235.14 L524.2 235.15 L524.4 235.15 L524.6 235.16 L524.8 235.17 L525 235.17 L525.2 235.18 L525.4 235.19 L525.6 235.19 L525.8 235.19 L526 235.2 L526.2 235.2 L526.4 235.2 L526.6 235.21 L526.8 235.21 L527 235.21 L527.2 235.21 L527.4 235.22 L527.6 235.22 L527.8 235.22 L528 235.22 L528.2 235.22 L528.4 235.22 L528.6 235.23 L528.8 235.23 L529 235.23 L529.2 235.23 L529.4 235.23 L529.6 235.23 L529.8 235.23 L530 235.23 L530.2 235.23 L530.4 235.23 L530.6 235.23 L530.8 235.23 L531 235.23 L531.2 235.23 L531.4 235.22 L531.6 235.22 L531.8 235.22 L532 235.22 L532.2 235.21 L532.4 235.21 L532.6 235.2 L532.8 235.19 L533 235.18 L533.2 235.17 L533.4 235.16 L533.6 235.14 L533.8 235.11 L534 235.05 L534.2 234.94 L534.4 234.71 L534.6 234.28 L534.8 233.62 L535 232.83 L535.2 232.15 L535.4 231.88 L535.6 232.15 L535.8 232.83 L536 233.63 L536.2 234.29 L536.4 234.72 L536.6 234.95 L536.8 235.06 L537 235.12 L537.2 235.15 L537.4 235.17 L537.6 235.19 L537.8 235.2 L538 235.21 L538.2 235.22 L538.4 235.23 L538.6 235.23 L538.8 235.24 L539 235.24 L539.2 235.25 L539.4 235.25 L539.6 235.25 L539.8 235.26 L540 235.26 L540.2 235.26 L540.4 235.26 L540.6 235.27 L540.8 235.27 L541 235.27 L541.2 235.27 L541.4 235.27 L541.6 235.27 L541.8 235.28 L542 235.28 L542.2 235.28 L542.4 235.28 L542.6 235.28 L542.8 235.28 L543 235.28 L543.2 235.28 L543.4 235.28 L543.6 235.28 L543.8 235.29 L544 235.29 L544.2 235.29 L544.4 235.29 L544.6 235.29 L544.8 235.29 L545 235.29 L545.2 235.29 L545.4 235.29 L545.6 235.29 L545.8 235.29 L546 235.29 L546.2 235.29 L546.4 235.29 L546.6 235.29 L546.8 235.29 L547 235.29 L547.2 235.3 L547.4 235.3 L547.6 235.3 L547.8 235.3 L548 235.3 L548.2 235.3 L548.4 235.3 L548.6 235.3 L548.8 235.3 L549 235.3 L549.2 235.3 L549.4 235.3 L549.6 235.3 L549.8 235.3 L550 235.3 L550.2 235.3 L550.4 235.3 L550.6 235.3 L550.8 235.3 L551 235.3 L551.2 235.3 L551.4 235.3 L551.6 235.3 L551.8 235.3 L552 235.3 L552.2 235.3 L552.4 235.3 L552.6 235.3 L552.8 235.31 L553 235.31 L553.2 235.31 L553.4 235.31 L553.6 235.31 L553.8 235.31 L554 235.31 L554.2 235.31 L554.4 235.31 L554.6 235.31 L554.8 235.31 L555 235.31 L555.2 235.31 L555.4 235.31 L555.6 235.31 L555.8 235.31 L556 235.31 L556.2 235.31 L556.4 235.31 L556.6 235.3 L556.8 235.3 L557 235.3 L557.2 235.3 L557.4 235.3 L557.6 235.3 L557.8 235.3 L558 235.3 L558.2 235.3 L558.4 235.3 L558.6 235.3 L558.8 235.3 L559 235.29 L559.2 235.29 L559.4 235.29 L559.6 235.29 L559.8 235.28 L560 235.28 L560.2 235.28 L560.4 235.27 L560.6 235.27 L560.8 235.26 L561 235.25 L561.2 235.24 L561.4 235.23 L561.6 235.22 L561.8 235.2 L562 235.19 L562.2 235.16 L562.4 235.13 L562.6 235.07 L562.8 234.97 L563 234.74 L563.2 234.3 L563.4 233.55 L563.6 232.53 L563.8 231.47 L564 230.77 L564.2 230.77 L564.4 231.46 L564.6 232.52 L564.8 233.55 L565 234.3 L565.2 234.73 L565.4 234.95 L565.6 235.06 L565.8 235.11 L566 235.14 L566.2 235.16 L566.4 235.18 L566.6 235.19 L566.8 235.2 L567 235.2 L567.2 235.2 L567.4 235.2 L567.6 235.2 L567.8 235.19 L568 235.17 L568.2 235.14 L568.4 235.08 L568.6 234.94 L568.8 234.66 L569 234.19 L569.2 233.54 L569.4 232.86 L569.6 232.43 L569.8 232.43 L570 232.87 L570.2 233.55 L570.4 234.2 L570.6 234.68 L570.8 234.96 L571 235.1 L571.2 235.17 L571.4 235.21 L571.6 235.23 L571.8 235.24 L572 235.26 L572.2 235.27 L572.4 235.28 L572.6 235.28 L572.8 235.29 L573 235.3 L573.2 235.3 L573.4 235.3 L573.6 235.31 L573.8 235.31 L574 235.31 L574.2 235.31 L574.4 235.32 L574.6 235.32 L574.8 235.32 L575 235.32 L575.2 235.32 L575.4 235.32 L575.6 235.32 L575.8 235.32 L576 235.32 L576.2 235.32 L576.4 235.32 L576.6 235.32 L576.8 235.31 L577 235.31 L577.2 235.31 L577.4 235.31 L577.6 235.3 L577.8 235.3 L578 235.29 L578.2 235.28 L578.4 235.27 L578.6 235.26 L578.8 235.25 L579 235.23 L579.2 235.21 L579.4 235.17 L579.6 235.11 L579.8 234.98 L580 234.72 L580.2 234.23 L580.4 233.48 L580.6 232.57 L580.8 231.8 L581 231.49 L581.2 231.8 L581.4 232.57 L581.6 233.48 L581.8 234.24 L582 234.73 L582.2 234.99 L582.4 235.12 L582.6 235.18 L582.8 235.22 L583 235.24 L583.2 235.26 L583.4 235.28 L583.6 235.29 L583.8 235.3 L584 235.31 L584.2 235.32 L584.4 235.32 L584.6 235.33 L584.8 235.33 L585 235.34 L585.2 235.34 L585.4 235.34 L585.6 235.35 L585.8 235.35 L586 235.35 L586.2 235.35 L586.4 235.35 L586.6 235.36 L586.8 235.36 L587 235.36 L587.2 235.36 L587.4 235.36 L587.6 235.36 L587.8 235.36 L588 235.37 L588.2 235.37 L588.4 235.37 L588.6 235.37 L588.8 235.37 L589 235.37 L589.2 235.37 L589.4 235.37 L589.6 235.37 L589.8 235.37 L590 235.37 L590.2 235.38 L590.4 235.38 L590.6 235.38 L590.8 235.38 L591 235.38 L591.2 235.38 L591.4 235.38 L591.6 235.38 L591.8 235.38 L592 235.38 L592.2 235.38 L592.4 235.38 L592.6 235.38 L592.8 235.38 L593 235.38 L593.2 235.38 L593.4 235.38 L593.6 235.38 L593.8 235.39 L594 235.39 L594.2 235.39 L594.4 235.39 L594.6 235.39 L594.8 235.39 L595 235.39 L595.2 235.39 L595.4 235.39 L595.6 235.39 L595.8 235.39 L596 235.39 L596.2 235.39 L596.4 235.39 L596.6 235.39 L596.8 235.39 L597 235.39 L597.2 235.39 L597.4 235.39 L597.6 235.39 L597.8 235.39 L598 235.39 L598.2 235.39 L598.4 235.39 L598.6 235.39 L598.8 235.39 L599 235.39 L599.2 235.39 L599.4 235.39 L599.6 235.39 L599.8 235.4 L600 235.4 L600.2 235.4 L600.4 235.4 L600.6 235.4 L600.8 235.4 L601 235.4 L601.2 235.4 L601.4 235.4 L601.6 235.4 L601.8 235.4 L602 235.4 L602.2 235.4 L602.4 235.4 L602.6 235.39 L602.8 235.39 L603 235.39 L603.2 235.39 L603.4 235.39 L603.6 235.39 L603.8 235.39 L604 235.39 L604.2 235.39 L604.4 235.39 L604.6 235.39 L604.8 235.38 L605 235.38 L605.2 235.38 L605.4 235.38 L605.6 235.37 L605.8 235.37 L606 235.37 L606.2 235.36 L606.4 235.35 L606.6 235.35 L606.8 235.34 L607 235.33 L607.2 235.31 L607.4 235.29 L607.6 235.27 L607.8 235.23 L608 235.15 L608.2 234.98 L608.4 234.64 L608.6 234.08 L608.8 233.3 L609 232.49 L609.2 231.97 L609.4 231.97 L609.6 232.49 L609.8 233.3 L610 234.08 L610.2 234.65 L610.4 234.98 L610.6 235.15 L610.8 235.23 L611 235.27 L611.2 235.3 L611.4 235.32 L611.6 235.33 L611.8 235.35 L612 235.36 L612.2 235.37 L612.4 235.37 L612.6 235.38 L612.8 235.38 L613 235.39 L613.2 235.39 L613.4 235.4 L613.6 235.4 L613.8 235.4 L614 235.4 L614.2 235.41 L614.4 235.41 L614.6 235.41 L614.8 235.41 L615 235.41 L615.2 235.42 L615.4 235.42 L615.6 235.42 L615.8 235.42 L616 235.42 L616.2 235.42 L616.4 235.42 L616.6 235.42 L616.8 235.42 L617 235.43 L617.2 235.43 L617.4 235.43 L617.6 235.43 L617.8 235.43 L618 235.43 L618.2 235.43 L618.4 235.43 L618.6 235.43 L618.8 235.43 L619 235.43 L619.2 235.43 L619.4 235.43 L619.6 235.43 L619.8 235.43 L620 235.44 L620.2 235.44 L620.4 235.44 L620.6 235.44 L620.8 235.44 L621 235.44 L621.2 235.44 L621.4 235.44 L621.6 235.44 L621.8 235.44 L622 235.44 L622.2 235.44 L622.4 235.44 L622.6 235.44 L622.8 235.44 L623 235.44 L623.2 235.44 L623.4 235.44 L623.6 235.44 L623.8 235.44 L624 235.45 L624.2 235.45 L624.4 235.45 L624.6 235.45 L624.8 235.45 L625 235.45 L625.2 235.45 L625.4 235.45 L625.6 235.45 L625.8 235.45 L626 235.45 L626.2 235.45 L626.4 235.45 L626.6 235.45 L626.8 235.45 L627 235.45 L627.2 235.45 L627.4 235.45 L627.6 235.45 L627.8 235.45 L628 235.45 L628.2 235.45 L628.4 235.45 L628.6 235.45 L628.8 235.46 L629 235.46 L629.2 235.46 L629.4 235.46 L629.6 235.46 L629.8 235.46 L630 235.46 L630.2 235.46 L630.4 235.46 L630.6 235.46 L630.8 235.46 L631 235.46 L631.2 235.46 L631.4 235.46 L631.6 235.46 L631.8 235.46 L632 235.46 L632.2 235.46 L632.4 235.46 L632.6 235.46 L632.8 235.46 L633 235.46 L633.2 235.46 L633.4 235.46 L633.6 235.46 L633.8 235.46 L634 235.47 L634.2 235.47 L634.4 235.47 L634.6 235.47 L634.8 235.47 L635 235.47 L635.2 235.47 L635.4 235.47 L635.6 235.47 L635.8 235.47 L636 235.47 L636.2 235.47 L636.4 235.47 L636.6 235.47 L636.8 235.47 L637 235.47 L637.2 235.47 L637.4 235.47 L637.6 235.47 L637.8 235.47 L638 235.47 L638.2 235.47 L638.4 235.47 L638.6 235.47 L638.8 235.47 L639 235.47 L639.2 235.48 L639.4 235.48 L639.6 235.48 L639.8 235.48 L640 235.48 L640.2 235.48 L640.4 235.48 L640.6 235.48 L640.8 235.48 L641 235.48 L641.2 235.48 L641.4 235.48 L641.6 235.48 L641.8 235.48 L642 235.48 L642.2 235.48 L642.4 235.48 L642.6 235.48 L642.8 235.48 L643 235.48 L643.2 235.48 L643.4 235.48 L643.6 235.48 L643.8 235.48 L644 235.48 L644.2 235.48 L644.4 235.48 L644.6 235.49 L644.8 235.49 L645 235.49 L645.2 235.49 L645.4 235.49 L645.6 235.49 L645.8 235.49 L646 235.49 L646.2 235.49 L646.4 235.49 L646.6 235.49 L646.8 235.49 L647 235.49 L647.2 235.49 L647.4 235.49 L647.6 235.49 L647.8 235.49 L648 235.49 L648.2 235.49 L648.4 235.49 L648.6 235.49 L648.8 235.49 L649 235.49 L649.2 235.49 L649.4 235.49 L649.6 235.49 L649.8 235.49 L650 235.5 L650.2 235.5 L650.4 235.5 L650.6 235.5 L650.8 235.5 L651 235.5 L651.2 235.5 L651.4 235.5 L651.6 235.5 L651.8 235.5 L652 235.5 L652.2 235.5 L652.4 235.5 L652.6 235.5 L652.8 235.5 L653 235.5 L653.2 235.5 L653.4 235.5 L653.6 235.5 L653.8 235.5 L654 235.5 L654.2 235.5 L654.4 235.5 L654.6 235.5 L654.8 235.5 L655 235.5 L655.2 235.5 L655.4 235.51 L655.6 235.51 L655.8 235.51 L656 235.51 L656.2 235.51 L656.4 235.51 L656.6 235.51 L656.8 235.51 L657 235.51 L657.2 235.51 L657.4 235.51 L657.6 235.51 L657.8 235.51 L658 235.51 L658.2 235.51 L658.4 235.51 L658.6 235.51 L658.8 235.51 L659 235.51 L659.2 235.51 L659.4 235.51 L659.6 235.51 L659.8 235.51 L660 235.51 L660.2 235.51 L660.4 235.51 L660.6 235.51 L660.8 235.52 L661 235.52 L661.2 235.52 L661.4 235.52 L661.6 235.52 L661.8 235.52 L662 235.52 L662.2 235.52 L662.4 235.52 L662.6 235.52 L662.8 235.52 L663 235.52 L663.2 235.52 L663.4 235.52 L663.6 235.52 L663.8 235.52 L664 235.52 L664.2 235.52 L664.4 235.52 L664.6 235.52 L664.8 235.52 L665 235.52 L665.2 235.52 L665.4 235.52 L665.6 235.52 L665.8 235.52 L666 235.52 L666.2 235.52 L666.4 235.53 L666.6 235.53 L666.8 235.53 L667 235.53 L667.2 235.53 L667.4 235.53 L667.6 235.53 L667.8 235.53 L668 235.53 L668.2 235.53 L668.4 235.53 L668.6 235.53 L668.8 235.53 L669 235.53 L669.2 235.53 L669.4 235.53 L669.6 235.53 L669.8 235.53 L670 235.53 L670.2 235.53 L670.4 235.53 L670.6 235.53 L670.8 235.53 L671 235.53 L671.2 235.53 L671.4 235.53 L671.6 235.53 L671.8 235.54" fill="none" stroke="#7c6a1a" stroke-width="2.6" stroke-linejoin="round"/>
<path d="M297 234.6 L297.2 234.6 L297.4 234.6 L297.6 234.61 L297.8 234.61 L298 234.61 L298.2 234.61 L298.4 234.62 L298.6 234.62 L298.8 234.62 L299 234.63 L299.2 234.63 L299.4 234.63 L299.6 234.63 L299.8 234.64 L300 234.64 L300.2 234.64 L300.4 234.64 L300.6 234.65 L300.8 234.65 L301 234.65 L301.2 234.65 L301.4 234.66 L301.6 234.66 L301.8 234.66 L302 234.66 L302.2 234.67 L302.4 234.67 L302.6 234.67 L302.8 234.67 L303 234.68 L303.2 234.68 L303.4 234.68 L303.6 234.68 L303.8 234.69 L304 234.69 L304.2 234.69 L304.4 234.69 L304.6 234.7 L304.8 234.7 L305 234.7 L305.2 234.7 L305.4 234.71 L305.6 234.71 L305.8 234.71 L306 234.71 L306.2 234.72 L306.4 234.72 L306.6 234.72 L306.8 234.72 L307 234.73 L307.2 234.73 L307.4 234.73 L307.6 234.73 L307.8 234.74 L308 234.74 L308.2 234.74 L308.4 234.74 L308.6 234.75 L308.8 234.75 L309 234.75 L309.2 234.75 L309.4 234.76 L309.6 234.76 L309.8 234.76 L310 234.76 L310.2 234.77 L310.4 234.77 L310.6 234.77 L310.8 234.77 L311 234.77 L311.2 234.78 L311.4 234.78 L311.6 234.78 L311.8 234.78 L312 234.78 L312.2 234.79 L312.4 234.79 L312.6 234.79 L312.8 234.79 L313 234.79 L313.2 234.79 L313.4 234.79 L313.6 234.8 L313.8 234.8 L314 234.8 L314.2 234.8 L314.4 234.8 L314.6 234.8 L314.8 234.8 L315 234.8 L315.2 234.8 L315.4 234.79 L315.6 234.79 L315.8 234.79 L316 234.78 L316.2 234.78 L316.4 234.77 L316.6 234.76 L316.8 234.74 L317 234.72 L317.2 234.69 L317.4 234.64 L317.6 234.53 L317.8 234.29 L318 233.85 L318.2 233.17 L318.4 232.35 L318.6 231.65 L318.8 231.37 L319 231.65 L319.2 232.35 L319.4 233.17 L319.6 233.85 L319.8 234.29 L320 234.53 L320.2 234.65 L320.4 234.7 L320.6 234.74 L320.8 234.76 L321 234.77 L321.2 234.79 L321.4 234.8 L321.6 234.81 L321.8 234.81 L322 234.82 L322.2 234.83 L322.4 234.83 L322.6 234.83 L322.8 234.84 L323 234.84 L323.2 234.84 L323.4 234.84 L323.6 234.84 L323.8 234.85 L324 234.85 L324.2 234.85 L324.4 234.85 L324.6 234.85 L324.8 234.85 L325 234.85 L325.2 234.85 L325.4 234.85 L325.6 234.85 L325.8 234.85 L326 234.85 L326.2 234.85 L326.4 234.85 L326.6 234.85 L326.8 234.85 L327 234.85 L327.2 234.85 L327.4 234.85 L327.6 234.85 L327.8 234.84 L328 234.84 L328.2 234.84 L328.4 234.84 L328.6 234.84 L328.8 234.83 L329 234.83 L329.2 234.83 L329.4 234.82 L329.6 234.81 L329.8 234.81 L330 234.8 L330.2 234.79 L330.4 234.77 L330.6 234.75 L330.8 234.72 L331 234.64 L331.2 234.49 L331.4 234.21 L331.6 233.77 L331.8 233.25 L332 232.8 L332.2 232.62 L332.4 232.8 L332.6 233.25 L332.8 233.77 L333 234.2 L333.2 234.48 L333.4 234.63 L333.6 234.7 L333.8 234.73 L334 234.75 L334.2 234.76 L334.4 234.77 L334.6 234.78 L334.8 234.78 L335 234.78 L335.2 234.78 L335.4 234.78 L335.6 234.78 L335.8 234.78 L336 234.78 L336.2 234.78 L336.4 234.77 L336.6 234.77 L336.8 234.76 L337 234.75 L337.2 234.75 L337.4 234.74 L337.6 234.73 L337.8 234.71 L338 234.7 L338.2 234.68 L338.4 234.66 L338.6 234.63 L338.8 234.6 L339 234.57 L339.2 234.52 L339.4 234.47 L339.6 234.39 L339.8 234.29 L340 234.1 L340.2 233.71 L340.4 232.9 L340.6 231.42 L340.8 229.13 L341 226.38 L341.2 224.03 L341.4 223.09 L341.6 224.02 L341.8 226.37 L342 229.12 L342.2 231.4 L342.4 232.88 L342.6 233.69 L342.8 234.07 L343 234.26 L343.2 234.36 L343.4 234.43 L343.6 234.48 L343.8 234.53 L344 234.56 L344.2 234.58 L344.4 234.61 L344.6 234.62 L344.8 234.64 L345 234.65 L345.2 234.66 L345.4 234.66 L345.6 234.67 L345.8 234.67 L346 234.67 L346.2 234.67 L346.4 234.67 L346.6 234.67 L346.8 234.67 L347 234.67 L347.2 234.66 L347.4 234.66 L347.6 234.65 L347.8 234.65 L348 234.64 L348.2 234.63 L348.4 234.62 L348.6 234.61 L348.8 234.6 L349 234.59 L349.2 234.58 L349.4 234.56 L349.6 234.54 L349.8 234.52 L350 234.5 L350.2 234.48 L350.4 234.46 L350.6 234.43 L350.8 234.39 L351 234.36 L351.2 234.32 L351.4 234.27 L351.6 234.22 L351.8 234.16 L352 234.09 L352.2 234.01 L352.4 233.92 L352.6 233.8 L352.8 233.67 L353 233.51 L353.2 233.3 L353.4 233.03 L353.6 232.6 L353.8 231.8 L354 230.15 L354.2 226.93 L354.4 221.48 L354.6 214 L354.8 206.27 L355 201.2 L355.2 201.13 L355.4 206.04 L355.6 213.61 L355.8 220.92 L356 226.19 L356.2 229.21 L356.4 230.63 L356.6 231.17 L356.8 231.3 L357 231.22 L357.2 230.99 L357.4 230.61 L357.6 230.01 L357.8 228.95 L358 226.81 L358.2 222.23 L358.4 213.09 L358.6 197.53 L358.8 176.16 L359 154.05 L359.2 139.63 L359.4 139.65 L359.6 154.11 L359.8 176.26 L360 197.68 L360.2 213.28 L360.4 222.47 L360.6 227.12 L360.8 229.33 L361 230.47 L361.2 231.17 L361.4 231.67 L361.6 232.06 L361.8 232.36 L362 232.59 L362.2 232.76 L362.4 232.86 L362.6 232.83 L362.8 232.57 L363 231.98 L363.2 230.98 L363.4 229.75 L363.6 228.7 L363.8 228.31 L364 228.8 L364.2 229.96 L364.4 231.3 L364.6 232.41 L364.8 233.13 L365 233.53 L365.2 233.72 L365.4 233.81 L365.6 233.85 L365.8 233.87 L366 233.88 L366.2 233.87 L366.4 233.85 L366.6 233.82 L366.8 233.78 L367 233.72 L367.2 233.64 L367.4 233.54 L367.6 233.42 L367.8 233.26 L368 233.06 L368.2 232.79 L368.4 232.35 L368.6 231.53 L368.8 229.87 L369 226.61 L369.2 221.11 L369.4 213.58 L369.6 205.76 L369.8 200.58 L370 200.35 L370.2 205.02 L370.4 212.08 L370.6 218.25 L370.8 221.06 L371 219.43 L371.2 213.63 L371.4 205.47 L371.6 198.25 L371.8 195.46 L372 198.67 L372.2 206.44 L372.4 215.47 L372.6 222.97 L372.8 227.86 L373 230.53 L373.2 231.84 L373.4 232.5 L373.6 232.88 L373.8 233.14 L374 233.34 L374.2 233.5 L374.4 233.62 L374.6 233.73 L374.8 233.81 L375 233.88 L375.2 233.94 L375.4 233.98 L375.6 234.01 L375.8 234.03 L376 234.05 L376.2 234.05 L376.4 234.05 L376.6 234.04 L376.8 234.01 L377 233.98 L377.2 233.94 L377.4 233.88 L377.6 233.81 L377.8 233.72 L378 233.61 L378.2 233.47 L378.4 233.3 L378.6 233.08 L378.8 232.8 L379 232.41 L379.2 231.77 L379.4 230.51 L379.6 227.88 L379.8 222.66 L380 213.79 L380.2 201.62 L380.4 189.03 L380.6 180.82 L380.8 180.83 L381 189.05 L381.2 201.65 L381.4 213.83 L381.6 222.71 L381.8 227.94 L382 230.59 L382.2 231.85 L382.4 232.51 L382.6 232.92 L382.8 233.21 L383 233.44 L383.2 233.63 L383.4 233.79 L383.6 233.92 L383.8 234.03 L384 234.12 L384.2 234.19 L384.4 234.26 L384.6 234.32 L384.8 234.37 L385 234.41 L385.2 234.45 L385.4 234.49 L385.6 234.52 L385.8 234.54 L386 234.57 L386.2 234.59 L386.4 234.61 L386.6 234.63 L386.8 234.64 L387 234.66 L387.2 234.67 L387.4 234.68 L387.6 234.69 L387.8 234.7 L388 234.71 L388.2 234.72 L388.4 234.73 L388.6 234.73 L388.8 234.74 L389 234.74 L389.2 234.75 L389.4 234.75 L389.6 234.75 L389.8 234.76 L390 234.76 L390.2 234.76 L390.4 234.76 L390.6 234.76 L390.8 234.76 L391 234.76 L391.2 234.76 L391.4 234.75 L391.6 234.75 L391.8 234.75 L392 234.74 L392.2 234.73 L392.4 234.73 L392.6 234.71 L392.8 234.7 L393 234.69 L393.2 234.67 L393.4 234.64 L393.6 234.61 L393.8 234.57 L394 234.51 L394.2 234.39 L394.4 234.14 L394.6 233.65 L394.8 232.81 L395 231.67 L395.2 230.49 L395.4 229.71 L395.6 229.71 L395.8 230.46 L396 231.62 L396.2 232.75 L396.4 233.56 L396.6 234.03 L396.8 234.25 L397 234.35 L397.2 234.38 L397.4 234.38 L397.6 234.37 L397.8 234.34 L398 234.29 L398.2 234.22 L398.4 234.12 L398.6 233.92 L398.8 233.5 L399 232.64 L399.2 231.04 L399.4 228.58 L399.6 225.62 L399.8 223.08 L400 222.07 L400.2 223.08 L400.4 225.6 L400.6 228.56 L400.8 231.01 L401 232.6 L401.2 233.46 L401.4 233.87 L401.6 234.06 L401.8 234.17 L402 234.23 L402.2 234.28 L402.4 234.31 L402.6 234.34 L402.8 234.35 L403 234.36 L403.2 234.36 L403.4 234.36 L403.6 234.35 L403.8 234.34 L404 234.33 L404.2 234.31 L404.4 234.29 L404.6 234.26 L404.8 234.23 L405 234.19 L405.2 234.15 L405.4 234.11 L405.6 234.05 L405.8 233.99 L406 233.93 L406.2 233.85 L406.4 233.77 L406.6 233.67 L406.8 233.57 L407 233.44 L407.2 233.3 L407.4 233.14 L407.6 232.95 L407.8 232.73 L408 232.48 L408.2 232.18 L408.4 231.82 L408.6 231.4 L408.8 230.88 L409 230.26 L409.2 229.48 L409.4 228.49 L409.6 227.13 L409.8 224.93 L410 220.67 L410.2 211.74 L410.4 194.09 L410.6 164.11 L410.8 122.97 L411 80.43 L411.2 52.67 L411.4 52.67 L411.6 80.43 L411.8 122.98 L412 164.12 L412.2 194.1 L412.4 211.75 L412.6 220.67 L412.8 224.93 L413 227.14 L413.2 228.5 L413.4 229.49 L413.6 230.26 L413.8 230.89 L414 231.4 L414.2 231.83 L414.4 232.18 L414.6 232.48 L414.8 232.73 L415 232.94 L415.2 233.13 L415.4 233.28 L415.6 233.42 L415.8 233.53 L416 233.62 L416.2 233.69 L416.4 233.73 L416.6 233.7 L416.8 233.56 L417 233.22 L417.2 232.66 L417.4 231.97 L417.6 231.38 L417.8 231.17 L418 231.46 L418.2 232.14 L418.4 232.91 L418.6 233.56 L418.8 233.99 L419 234.24 L419.2 234.37 L419.4 234.44 L419.6 234.49 L419.8 234.53 L420 234.56 L420.2 234.59 L420.4 234.62 L420.6 234.64 L420.8 234.66 L421 234.68 L421.2 234.7 L421.4 234.72 L421.6 234.73 L421.8 234.74 L422 234.76 L422.2 234.77 L422.4 234.78 L422.6 234.79 L422.8 234.8 L423 234.81 L423.2 234.81 L423.4 234.82 L423.6 234.83 L423.8 234.84 L424 234.84 L424.2 234.85 L424.4 234.85 L424.6 234.86 L424.8 234.86 L425 234.87 L425.2 234.87 L425.4 234.88 L425.6 234.88 L425.8 234.88 L426 234.89 L426.2 234.89 L426.4 234.89 L426.6 234.9 L426.8 234.9 L427 234.9 L427.2 234.9 L427.4 234.9 L427.6 234.9 L427.8 234.9 L428 234.9 L428.2 234.9 L428.4 234.9 L428.6 234.9 L428.8 234.9 L429 234.9 L429.2 234.9 L429.4 234.9 L429.6 234.89 L429.8 234.89 L430 234.89 L430.2 234.88 L430.4 234.88 L430.6 234.87 L430.8 234.86 L431 234.85 L431.2 234.84 L431.4 234.83 L431.6 234.82 L431.8 234.8 L432 234.78 L432.2 234.76 L432.4 234.73 L432.6 234.7 L432.8 234.66 L433 234.62 L433.2 234.56 L433.4 234.49 L433.6 234.41 L433.8 234.3 L434 234.16 L434.2 233.92 L434.4 233.45 L434.6 232.49 L434.8 230.57 L435 227.31 L435.2 222.85 L435.4 218.23 L435.6 215.21 L435.8 215.21 L436 218.23 L436.2 222.85 L436.4 227.31 L436.6 230.56 L436.8 232.48 L437 233.45 L437.2 233.91 L437.4 234.14 L437.6 234.29 L437.8 234.39 L438 234.47 L438.2 234.53 L438.4 234.58 L438.6 234.62 L438.8 234.65 L439 234.67 L439.2 234.68 L439.4 234.69 L439.6 234.69 L439.8 234.68 L440 234.66 L440.2 234.62 L440.4 234.54 L440.6 234.36 L440.8 233.98 L441 233.27 L441.2 232.16 L441.4 230.83 L441.6 229.69 L441.8 229.24 L442 229.7 L442.2 230.85 L442.4 232.19 L442.6 233.31 L442.8 234.03 L443 234.43 L443.2 234.62 L443.4 234.71 L443.6 234.76 L443.8 234.8 L444 234.82 L444.2 234.84 L444.4 234.86 L444.6 234.87 L444.8 234.88 L445 234.88 L445.2 234.89 L445.4 234.89 L445.6 234.88 L445.8 234.88 L446 234.87 L446.2 234.86 L446.4 234.84 L446.6 234.82 L446.8 234.79 L447 234.75 L447.2 234.68 L447.4 234.54 L447.6 234.24 L447.8 233.65 L448 232.65 L448.2 231.27 L448.4 229.85 L448.6 228.92 L448.8 228.92 L449 229.85 L449.2 231.27 L449.4 232.65 L449.6 233.65 L449.8 234.24 L450 234.54 L450.2 234.68 L450.4 234.76 L450.6 234.8 L450.8 234.83 L451 234.85 L451.2 234.87 L451.4 234.88 L451.6 234.89 L451.8 234.9 L452 234.9 L452.2 234.9 L452.4 234.9 L452.6 234.89 L452.8 234.89 L453 234.88 L453.2 234.86 L453.4 234.84 L453.6 234.82 L453.8 234.78 L454 234.74 L454.2 234.68 L454.4 234.59 L454.6 234.4 L454.8 234 L455 233.22 L455.2 231.89 L455.4 230.07 L455.6 228.19 L455.8 226.95 L456 226.95 L456.2 228.18 L456.4 230.06 L456.6 231.88 L456.8 233.21 L457 233.99 L457.2 234.38 L457.4 234.56 L457.6 234.65 L457.8 234.71 L458 234.74 L458.2 234.77 L458.4 234.79 L458.6 234.8 L458.8 234.8 L459 234.8 L459.2 234.8 L459.4 234.78 L459.6 234.77 L459.8 234.74 L460 234.71 L460.2 234.67 L460.4 234.62 L460.6 234.55 L460.8 234.45 L461 234.28 L461.2 233.96 L461.4 233.28 L461.6 231.93 L461.8 229.63 L462 226.48 L462.2 223.23 L462.4 221.1 L462.6 221.1 L462.8 223.23 L463 226.49 L463.2 229.64 L463.4 231.94 L463.6 233.29 L463.8 233.97 L464 234.3 L464.2 234.47 L464.4 234.57 L464.6 234.64 L464.8 234.7 L465 234.75 L465.2 234.78 L465.4 234.81 L465.6 234.83 L465.8 234.85 L466 234.87 L466.2 234.88 L466.4 234.88 L466.6 234.89 L466.8 234.89 L467 234.89 L467.2 234.88 L467.4 234.87 L467.6 234.86 L467.8 234.84 L468 234.81 L468.2 234.78 L468.4 234.74 L468.6 234.69 L468.8 234.61 L469 234.49 L469.2 234.25 L469.4 233.73 L469.6 232.71 L469.8 230.98 L470 228.6 L470.2 226.14 L470.4 224.53 L470.6 224.53 L470.8 226.14 L471 228.6 L471.2 230.98 L471.4 232.71 L471.6 233.73 L471.8 234.25 L472 234.49 L472.2 234.61 L472.4 234.69 L472.6 234.74 L472.8 234.77 L473 234.8 L473.2 234.81 L473.4 234.81 L473.6 234.79 L473.8 234.74 L474 234.6 L474.2 234.3 L474.4 233.78 L474.6 233.07 L474.8 232.33 L475 231.84 L475.2 231.85 L475.4 232.35 L475.6 233.1 L475.8 233.83 L476 234.37 L476.2 234.68 L476.4 234.84 L476.6 234.92 L476.8 234.97 L477 234.99 L477.2 235.01 L477.4 235.03 L477.6 235.04 L477.8 235.05 L478 235.06 L478.2 235.07 L478.4 235.08 L478.6 235.09 L478.8 235.09 L479 235.1 L479.2 235.1 L479.4 235.1 L479.6 235.11 L479.8 235.11 L480 235.11 L480.2 235.12 L480.4 235.12 L480.6 235.12 L480.8 235.12 L481 235.12 L481.2 235.12 L481.4 235.13 L481.6 235.13 L481.8 235.13 L482 235.13 L482.2 235.13 L482.4 235.13 L482.6 235.13 L482.8 235.13 L483 235.13 L483.2 235.13 L483.4 235.13 L483.6 235.13 L483.8 235.12 L484 235.12 L484.2 235.12 L484.4 235.12 L484.6 235.12 L484.8 235.11 L485 235.11 L485.2 235.1 L485.4 235.1 L485.6 235.09 L485.8 235.09 L486 235.08 L486.2 235.06 L486.4 235.05 L486.6 235.03 L486.8 235.01 L487 234.98 L487.2 234.95 L487.4 234.88 L487.6 234.76 L487.8 234.51 L488 234.01 L488.2 233.15 L488.4 231.98 L488.6 230.77 L488.8 229.98 L489 229.98 L489.2 230.77 L489.4 231.98 L489.6 233.15 L489.8 234.01 L490 234.51 L490.2 234.77 L490.4 234.89 L490.6 234.95 L490.8 234.99 L491 235.02 L491.2 235.04 L491.4 235.06 L491.6 235.07 L491.8 235.09 L492 235.1 L492.2 235.11 L492.4 235.11 L492.6 235.12 L492.8 235.12 L493 235.13 L493.2 235.13 L493.4 235.13 L493.6 235.14 L493.8 235.14 L494 235.14 L494.2 235.14 L494.4 235.14 L494.6 235.14 L494.8 235.14 L495 235.14 L495.2 235.14 L495.4 235.14 L495.6 235.14 L495.8 235.14 L496 235.14 L496.2 235.14 L496.4 235.13 L496.6 235.13 L496.8 235.12 L497 235.12 L497.2 235.11 L497.4 235.1 L497.6 235.09 L497.8 235.07 L498 235.06 L498.2 235.03 L498.4 235 L498.6 234.95 L498.8 234.85 L499 234.65 L499.2 234.24 L499.4 233.54 L499.6 232.58 L499.8 231.59 L500 230.95 L500.2 230.95 L500.4 231.59 L500.6 232.58 L500.8 233.54 L501 234.24 L501.2 234.65 L501.4 234.85 L501.6 234.95 L501.8 235 L502 235.03 L502.2 235.05 L502.4 235.07 L502.6 235.08 L502.8 235.09 L503 235.1 L503.2 235.11 L503.4 235.11 L503.6 235.11 L503.8 235.11 L504 235.11 L504.2 235.11 L504.4 235.1 L504.6 235.1 L504.8 235.09 L505 235.07 L505.2 235.05 L505.4 235.01 L505.6 234.93 L505.8 234.76 L506 234.44 L506.2 233.94 L506.4 233.35 L506.6 232.84 L506.8 232.64 L507 232.84 L507.2 233.35 L507.4 233.94 L507.6 234.43 L507.8 234.75 L508 234.93 L508.2 235.01 L508.4 235.05 L508.6 235.07 L508.8 235.08 L509 235.09 L509.2 235.09 L509.4 235.1 L509.6 235.1 L509.8 235.09 L510 235.09 L510.2 235.08 L510.4 235.08 L510.6 235.06 L510.8 235.05 L511 235.03 L511.2 235 L511.4 234.95 L511.6 234.85 L511.8 234.65 L512 234.26 L512.2 233.59 L512.4 232.67 L512.6 231.72 L512.8 231.1 L513 231.1 L513.2 231.72 L513.4 232.66 L513.6 233.57 L513.8 234.24 L514 234.63 L514.2 234.82 L514.4 234.91 L514.6 234.95 L514.8 234.97 L515 234.99 L515.2 234.99 L515.4 235 L515.6 234.99 L515.8 234.99 L516 234.97 L516.2 234.96 L516.4 234.94 L516.6 234.91 L516.8 234.87 L517 234.83 L517.2 234.78 L517.4 234.7 L517.6 234.61 L517.8 234.47 L518 234.22 L518.2 233.7 L518.4 232.62 L518.6 230.63 L518.8 227.57 L519 223.88 L519.2 220.72 L519.4 219.47 L519.6 220.73 L519.8 223.88 L520 227.58 L520.2 230.64 L520.4 232.64 L520.6 233.72 L520.8 234.24 L521 234.49 L521.2 234.64 L521.4 234.74 L521.6 234.81 L521.8 234.87 L522 234.92 L522.2 234.96 L522.4 234.99 L522.6 235.02 L522.8 235.05 L523 235.07 L523.2 235.08 L523.4 235.1 L523.6 235.11 L523.8 235.13 L524 235.14 L524.2 235.15 L524.4 235.15 L524.6 235.16 L524.8 235.17 L525 235.17 L525.2 235.18 L525.4 235.19 L525.6 235.19 L525.8 235.19 L526 235.2 L526.2 235.2 L526.4 235.2 L526.6 235.21 L526.8 235.21 L527 235.21 L527.2 235.21 L527.4 235.22 L527.6 235.22 L527.8 235.22 L528 235.22 L528.2 235.22 L528.4 235.22 L528.6 235.23 L528.8 235.23 L529 235.23 L529.2 235.23 L529.4 235.23 L529.6 235.23 L529.8 235.23 L530 235.23 L530.2 235.23 L530.4 235.23 L530.6 235.23 L530.8 235.23 L531 235.23 L531.2 235.23 L531.4 235.22 L531.6 235.22 L531.8 235.22 L532 235.22 L532.2 235.21 L532.4 235.21 L532.6 235.2 L532.8 235.19 L533 235.18 L533.2 235.17 L533.4 235.16 L533.6 235.14 L533.8 235.11 L534 235.05 L534.2 234.94 L534.4 234.71 L534.6 234.28 L534.8 233.62 L535 232.83 L535.2 232.15 L535.4 231.88 L535.6 232.15 L535.8 232.83 L536 233.63 L536.2 234.29 L536.4 234.72 L536.6 234.95 L536.8 235.06 L537 235.12 L537.2 235.15 L537.4 235.17 L537.6 235.19 L537.8 235.2 L538 235.21 L538.2 235.22 L538.4 235.23 L538.6 235.23 L538.8 235.24 L539 235.24 L539.2 235.25 L539.4 235.25 L539.6 235.25 L539.8 235.26 L540 235.26 L540.2 235.26 L540.4 235.26 L540.6 235.27 L540.8 235.27 L541 235.27 L541.2 235.27 L541.4 235.27 L541.6 235.27 L541.8 235.28 L542 235.28 L542.2 235.28 L542.4 235.28 L542.6 235.28 L542.8 235.28 L543 235.28 L543.2 235.28 L543.4 235.28 L543.6 235.28 L543.8 235.29 L544 235.29 L544.2 235.29 L544.4 235.29 L544.6 235.29 L544.8 235.29 L545 235.29 L545.2 235.29 L545.4 235.29 L545.6 235.29 L545.8 235.29 L546 235.29 L546.2 235.29 L546.4 235.29 L546.6 235.29 L546.8 235.29 L547 235.29 L547.2 235.3 L547.4 235.3 L547.6 235.3 L547.8 235.3 L548 235.3 L548.2 235.3 L548.4 235.3 L548.6 235.3 L548.8 235.3 L549 235.3 L549.2 235.3 L549.4 235.3 L549.6 235.3 L549.8 235.3 L550 235.3 L550.2 235.3 L550.4 235.3 L550.6 235.3 L550.8 235.3 L551 235.3 L551.2 235.3 L551.4 235.3 L551.6 235.3 L551.8 235.3 L552 235.3 L552.2 235.3 L552.4 235.3 L552.6 235.3 L552.8 235.31 L553 235.31 L553.2 235.31 L553.4 235.31 L553.6 235.31 L553.8 235.31 L554 235.31 L554.2 235.31 L554.4 235.31 L554.6 235.31 L554.8 235.31 L555 235.31 L555.2 235.31 L555.4 235.31 L555.6 235.31 L555.8 235.31 L556 235.31 L556.2 235.31 L556.4 235.31 L556.6 235.3 L556.8 235.3 L557 235.3 L557.2 235.3 L557.4 235.3 L557.6 235.3 L557.8 235.3 L558 235.3 L558.2 235.3 L558.4 235.3 L558.6 235.3 L558.8 235.3 L559 235.29 L559.2 235.29 L559.4 235.29 L559.6 235.29 L559.8 235.28 L560 235.28 L560.2 235.28 L560.4 235.27 L560.6 235.27 L560.8 235.26 L561 235.25 L561.2 235.24 L561.4 235.23 L561.6 235.22 L561.8 235.2 L562 235.19 L562.2 235.16 L562.4 235.13 L562.6 235.07 L562.8 234.97 L563 234.74 L563.2 234.3 L563.4 233.55 L563.6 232.53 L563.8 231.47 L564 230.77 L564.2 230.77 L564.4 231.46 L564.6 232.52 L564.8 233.55 L565 234.3 L565.2 234.73 L565.4 234.95 L565.6 235.06 L565.8 235.11 L566 235.14 L566.2 235.16 L566.4 235.18 L566.6 235.19 L566.8 235.2 L567 235.2 L567.2 235.2 L567.4 235.2 L567.6 235.2 L567.8 235.19 L568 235.17 L568.2 235.14 L568.4 235.08 L568.6 234.94 L568.8 234.66 L569 234.19 L569.2 233.54 L569.4 232.86 L569.6 232.43 L569.8 232.43 L570 232.87 L570.2 233.55 L570.4 234.2 L570.6 234.68 L570.8 234.96 L571 235.1 L571.2 235.17 L571.4 235.21 L571.6 235.23 L571.8 235.24 L572 235.26 L572.2 235.27 L572.4 235.28 L572.6 235.28 L572.8 235.29 L573 235.3 L573.2 235.3 L573.4 235.3 L573.6 235.31 L573.8 235.31 L574 235.31 L574.2 235.31 L574.4 235.32 L574.6 235.32 L574.8 235.32 L575 235.32 L575.2 235.32 L575.4 235.32 L575.6 235.32 L575.8 235.32 L576 235.32 L576.2 235.32 L576.4 235.32 L576.6 235.32 L576.8 235.31 L577 235.31 L577.2 235.31 L577.4 235.31 L577.6 235.3 L577.8 235.3 L578 235.29 L578.2 235.28 L578.4 235.27 L578.6 235.26 L578.8 235.25 L579 235.23 L579.2 235.21 L579.4 235.17 L579.6 235.11 L579.8 234.98 L580 234.72 L580.2 234.23 L580.4 233.48 L580.6 232.57 L580.8 231.8 L581 231.49 L581.2 231.8 L581.4 232.57 L581.6 233.48 L581.8 234.24 L582 234.73 L582.2 234.99 L582.4 235.12 L582.6 235.18 L582.8 235.22 L583 235.24 L583.2 235.26 L583.4 235.28 L583.6 235.29 L583.8 235.3 L584 235.31 L584.2 235.32 L584.4 235.32 L584.6 235.33 L584.8 235.33 L585 235.34 L585.2 235.34 L585.4 235.34 L585.6 235.35 L585.8 235.35 L586 235.35 L586.2 235.35 L586.4 235.35 L586.6 235.36 L586.8 235.36 L587 235.36 L587.2 235.36 L587.4 235.36 L587.6 235.36 L587.8 235.36 L588 235.37 L588.2 235.37 L588.4 235.37 L588.6 235.37 L588.8 235.37 L589 235.37 L589.2 235.37 L589.4 235.37 L589.6 235.37 L589.8 235.37 L590 235.37 L590.2 235.38 L590.4 235.38 L590.6 235.38 L590.8 235.38 L591 235.38 L591.2 235.38 L591.4 235.38 L591.6 235.38 L591.8 235.38 L592 235.38 L592.2 235.38 L592.4 235.38 L592.6 235.38 L592.8 235.38 L593 235.38 L593.2 235.38 L593.4 235.38 L593.6 235.38 L593.8 235.39 L594 235.39 L594.2 235.39 L594.4 235.39 L594.6 235.39 L594.8 235.39 L595 235.39 L595.2 235.39 L595.4 235.39 L595.6 235.39 L595.8 235.39 L596 235.39 L596.2 235.39 L596.4 235.39 L596.6 235.39 L596.8 235.39 L597 235.39 L597.2 235.39 L597.4 235.39 L597.6 235.39 L597.8 235.39 L598 235.39 L598.2 235.39 L598.4 235.39 L598.6 235.39 L598.8 235.39 L599 235.39 L599.2 235.39 L599.4 235.39 L599.6 235.39 L599.8 235.4 L600 235.4 L600.2 235.4 L600.4 235.4 L600.6 235.4 L600.8 235.4 L601 235.4 L601.2 235.4 L601.4 235.4 L601.6 235.4 L601.8 235.4 L602 235.4 L602.2 235.4 L602.4 235.4 L602.6 235.39 L602.8 235.39 L603 235.39 L603.2 235.39 L603.4 235.39 L603.6 235.39 L603.8 235.39 L604 235.39 L604.2 235.39 L604.4 235.39 L604.6 235.39 L604.8 235.38 L605 235.38 L605.2 235.38 L605.4 235.38 L605.6 235.37 L605.8 235.37 L606 235.37 L606.2 235.36 L606.4 235.35 L606.6 235.35 L606.8 235.34 L607 235.33 L607.2 235.31 L607.4 235.29 L607.6 235.27 L607.8 235.23 L608 235.15 L608.2 234.98 L608.4 234.64 L608.6 234.08 L608.8 233.3 L609 232.49 L609.2 231.97 L609.4 231.97 L609.6 232.49 L609.8 233.3 L610 234.08 L610.2 234.65 L610.4 234.98 L610.6 235.15 L610.8 235.23 L611 235.27 L611.2 235.3 L611.4 235.32 L611.6 235.33 L611.8 235.35 L612 235.36 L612.2 235.37 L612.4 235.37 L612.6 235.38 L612.8 235.38 L613 235.39 L613.2 235.39 L613.4 235.4 L613.6 235.4 L613.8 235.4 L614 235.4 L614.2 235.41 L614.4 235.41 L614.6 235.41 L614.8 235.41 L615 235.41 L615.2 235.42 L615.4 235.42 L615.6 235.42 L615.8 235.42 L616 235.42 L616.2 235.42 L616.4 235.42 L616.6 235.42 L616.8 235.42 L617 235.43 L617.2 235.43 L617.4 235.43 L617.6 235.43 L617.8 235.43 L618 235.43 L618.2 235.43 L618.4 235.43 L618.6 235.43 L618.8 235.43 L619 235.43 L619.2 235.43 L619.4 235.43 L619.6 235.43 L619.8 235.43 L620 235.44 L620.2 235.44 L620.4 235.44 L620.6 235.44 L620.8 235.44 L621 235.44 L621.2 235.44 L621.4 235.44 L621.6 235.44 L621.8 235.44 L622 235.44 L622.2 235.44 L622.4 235.44 L622.6 235.44 L622.8 235.44 L623 235.44 L623.2 235.44 L623.4 235.44 L623.6 235.44 L623.8 235.44 L624 235.45 L624.2 235.45 L624.4 235.45 L624.6 235.45 L624.8 235.45 L625 235.45 L625.2 235.45 L625.4 235.45 L625.6 235.45 L625.8 235.45 L626 235.45 L626.2 235.45 L626.4 235.45 L626.6 235.45 L626.8 235.45 L627 235.45 L627.2 235.45 L627.4 235.45 L627.6 235.45 L627.8 235.45 L628 235.45 L628.2 235.45 L628.4 235.45 L628.6 235.45 L628.8 235.46 L629 235.46 L629.2 235.46 L629.4 235.46 L629.6 235.46 L629.8 235.46 L630 235.46 L630.2 235.46 L630.4 235.46 L630.6 235.46 L630.8 235.46 L631 235.46 L631.2 235.46 L631.4 235.46 L631.6 235.46 L631.8 235.46 L632 235.46 L632.2 235.46 L632.4 235.46 L632.6 235.46 L632.8 235.46 L633 235.46 L633.2 235.46 L633.4 235.46 L633.6 235.46 L633.8 235.46 L634 235.47 L634.2 235.47 L634.4 235.47 L634.6 235.47 L634.8 235.47 L635 235.47 L635.2 235.47 L635.4 235.47 L635.6 235.47 L635.8 235.47 L636 235.47 L636.2 235.47 L636.4 235.47 L636.6 235.47 L636.8 235.47 L637 235.47 L637.2 235.47 L637.4 235.47 L637.6 235.47 L637.8 235.47 L638 235.47 L638.2 235.47 L638.4 235.47 L638.6 235.47 L638.8 235.47 L639 235.47 L639.2 235.48 L639.4 235.48 L639.6 235.48 L639.8 235.48 L640 235.48 L640.2 235.48 L640.4 235.48 L640.6 235.48 L640.8 235.48 L641 235.48 L641.2 235.48 L641.4 235.48 L641.6 235.48 L641.8 235.48 L642 235.48 L642.2 235.48 L642.4 235.48 L642.6 235.48 L642.8 235.48 L643 235.48 L643.2 235.48 L643.4 235.48 L643.6 235.48 L643.8 235.48 L644 235.48 L644.2 235.48 L644.4 235.48 L644.6 235.49 L644.8 235.49 L645 235.49 L645.2 235.49 L645.4 235.49 L645.6 235.49 L645.8 235.49 L646 235.49 L646.2 235.49 L646.4 235.49 L646.6 235.49 L646.8 235.49 L647 235.49 L647.2 235.49 L647.4 235.49 L647.6 235.49 L647.8 235.49 L648 235.49 L648.2 235.49 L648.4 235.49 L648.6 235.49 L648.8 235.49 L649 235.49 L649.2 235.49 L649.4 235.49 L649.6 235.49 L649.8 235.49 L650 235.5 L650.2 235.5 L650.4 235.5 L650.6 235.5 L650.8 235.5 L651 235.5 L651.2 235.5 L651.4 235.5 L651.6 235.5 L651.8 235.5 L652 235.5 L652.2 235.5 L652.4 235.5 L652.6 235.5 L652.8 235.5 L653 235.5 L653.2 235.5 L653.4 235.5 L653.6 235.5 L653.8 235.5 L654 235.5 L654.2 235.5 L654.4 235.5 L654.6 235.5 L654.8 235.5 L655 235.5 L655.2 235.5 L655.4 235.51 L655.6 235.51 L655.8 235.51 L656 235.51 L656.2 235.51 L656.4 235.51 L656.6 235.51 L656.8 235.51 L657 235.51 L657.2 235.51 L657.4 235.51 L657.6 235.51 L657.8 235.51 L658 235.51 L658.2 235.51 L658.4 235.51 L658.6 235.51 L658.8 235.51 L659 235.51 L659.2 235.51 L659.4 235.51 L659.6 235.51 L659.8 235.51 L660 235.51 L660.2 235.51 L660.4 235.51 L660.6 235.51 L660.8 235.52 L661 235.52 L661.2 235.52 L661.4 235.52 L661.6 235.52 L661.8 235.52 L662 235.52 L662.2 235.52 L662.4 235.52 L662.6 235.52 L662.8 235.52 L663 235.52 L663.2 235.52 L663.4 235.52 L663.6 235.52 L663.8 235.52 L664 235.52 L664.2 235.52 L664.4 235.52 L664.6 235.52 L664.8 235.52 L665 235.52 L665.2 235.52 L665.4 235.52 L665.6 235.52 L665.8 235.52 L666 235.52 L666.2 235.52 L666.4 235.53 L666.6 235.53 L666.8 235.53 L667 235.53 L667.2 235.53 L667.4 235.53 L667.6 235.53 L667.8 235.53 L668 235.53 L668.2 235.53 L668.4 235.53 L668.6 235.53 L668.8 235.53 L669 235.53 L669.2 235.53 L669.4 235.53 L669.6 235.53 L669.8 235.53 L670 235.53 L670.2 235.53 L670.4 235.53 L670.6 235.53 L670.8 235.53 L671 235.53 L671.2 235.53 L671.4 235.53 L671.6 235.53 L671.8 235.54" fill="none" stroke="#38e030" stroke-width="1.25" stroke-linejoin="round"/>
<rect x="410" y="48" width="2.7" height="150" fill="#38e030"/>
<rect x="358" y="137.2" width="2.7" height="60" fill="#38e030"/>
<path d="M296 238 V4 H673 V238" fill="none" stroke="#000" stroke-width="2"/>
<line x1="345.5" y1="238" x2="345.5" y2="245.5" stroke="#000" stroke-width="2"/>
<text x="345.5" y="257" font-size="13.5" font-family="Liberation Serif" text-anchor="middle" >20</text>
<line x1="410.9" y1="238" x2="410.9" y2="245.5" stroke="#000" stroke-width="2"/>
<text x="410.9" y="257" font-size="13.5" font-family="Liberation Serif" text-anchor="middle" >40</text>
<line x1="476.3" y1="238" x2="476.3" y2="245.5" stroke="#000" stroke-width="2"/>
<text x="476.3" y="257" font-size="13.5" font-family="Liberation Serif" text-anchor="middle" >60</text>
<line x1="541.7" y1="238" x2="541.7" y2="245.5" stroke="#000" stroke-width="2"/>
<text x="541.7" y="257" font-size="13.5" font-family="Liberation Serif" text-anchor="middle" >80</text>
<line x1="607.1" y1="238" x2="607.1" y2="245.5" stroke="#000" stroke-width="2"/>
<text x="607.1" y="257" font-size="13.5" font-family="Liberation Serif" text-anchor="middle" >100</text>
<line x1="672.5" y1="238" x2="672.5" y2="245.5" stroke="#000" stroke-width="2"/>
<text x="672.5" y="257" font-size="13.5" font-family="Liberation Serif" text-anchor="middle" >120</text>
<text x="501.2" y="271.5" font-size="17.3" font-family="Liberation Serif" text-anchor="middle" >2&#952; Angle (Degree)</text>
<text x="0" y="0" font-size="17.4" font-family="Liberation Serif" text-anchor="middle" transform="translate(283.4 136.4) rotate(-90)">Intensity (A.U.)</text>
<text x="308.5" y="31" font-size="28" font-family="Liberation Serif" text-anchor="start" font-weight="bold">c</text>
<text x="547" y="39.3" font-size="17" font-family="Liberation Serif">Cd<tspan font-size="12" dy="3.5">3</tspan><tspan dy="-3.5">As</tspan><tspan font-size="12" dy="3.5">2</tspan><tspan dy="-3.5"> Powder</tspan></text>
<text x="547" y="60.9" font-size="17" font-family="Liberation Serif" text-anchor="start" >T = 300 K</text>
<line x1="546.8" y1="84.1" x2="573.9" y2="84.1" stroke="#d42020" stroke-width="2"/>
<line x1="546.8" y1="100.4" x2="573.9" y2="100.4" stroke="#22e022" stroke-width="2"/>
<text x="581" y="88.6" font-size="15" font-family="Liberation Serif" text-anchor="start" >Measured</text>
<text x="581" y="104.9" font-size="15" font-family="Liberation Serif" text-anchor="start" >Fitted</text>
<path d="M296 520.2 V297 H673 V520.2" fill="none" stroke="#000" stroke-width="2"/>
<line x1="295" y1="520.2" x2="674" y2="520.2" stroke="#000" stroke-width="2"/>
<line x1="371.2" y1="520" x2="371.2" y2="527.5" stroke="#000" stroke-width="2"/>
<text x="371.2" y="538.5" font-size="13.5" font-family="Liberation Serif" text-anchor="middle" >20</text>
<line x1="471.6" y1="520" x2="471.6" y2="527.5" stroke="#000" stroke-width="2"/>
<text x="471.6" y="538.5" font-size="13.5" font-family="Liberation Serif" text-anchor="middle" >40</text>
<line x1="572" y1="520" x2="572" y2="527.5" stroke="#000" stroke-width="2"/>
<text x="572" y="538.5" font-size="13.5" font-family="Liberation Serif" text-anchor="middle" >60</text>
<line x1="672.4" y1="520" x2="672.4" y2="527.5" stroke="#000" stroke-width="2"/>
<text x="672.4" y="538.5" font-size="13.5" font-family="Liberation Serif" text-anchor="middle" >80</text>
<text x="506.2" y="556" font-size="17.3" font-family="Liberation Serif" text-anchor="middle" >2&#952; Angle (Degree)</text>
<text x="0" y="0" font-size="17.4" font-family="Liberation Serif" text-anchor="middle" transform="translate(283.4 406.2) rotate(-90)">Intensity (A.U.)</text>
<text x="310.2" y="328.6" font-size="27" font-family="Liberation Serif" text-anchor="start" font-weight="bold">d</text>
<path d="M297 519.2 H672 M331.7 519.5 V512.8 M392.8 519.5 V311.9 M455.7 519.5 V475.7 M520.9 519.5 V496.7 M589.5 519.5 V516 M663.5 519.5 V517.5" fill="none" stroke="#e0191c" stroke-width="2"/>
<text x="395.8" y="309.3" font-size="12.6" font-family="Liberation Serif" text-anchor="middle" >(224)</text>
<text x="332.5" y="502.6" font-size="12.6" font-family="Liberation Serif" text-anchor="middle" >(112)</text>
<text x="459.4" y="468.6" font-size="12.6" font-family="Liberation Serif" text-anchor="middle" >(336)</text>
<text x="523.7" y="490.8" font-size="12.6" font-family="Liberation Serif" text-anchor="middle" >(448)</text>
<text x="591.3" y="507.4" font-size="12.6" font-family="Liberation Serif" text-anchor="middle" >(55 10)</text>
<path d="M454.2 372.4 L496.6 314.3 L615.4 314.3 L657.1 372.4 L615.4 430.5 L496.6 430.5 Z" fill="none" stroke="#222" stroke-width="0.9"/>
<line x1="454.2" y1="372.4" x2="657.1" y2="372.4" stroke="#222" stroke-width="0.9"/>
<path d="M496.6 314.3 L539.1 372.4 L496.6 430.5" fill="none" stroke="#222" stroke-width="0.9"/>
<path d="M615.4 314.3 L572.2 372.4 L615.4 430.5" fill="none" stroke="#222" stroke-width="0.9"/>
<path d="M496.6 314.3 L597.9 372.6 L496.6 430.5 Z" fill="none" stroke="#5050c8" stroke-width="0.9"/>
<line x1="502.7" y1="329.7" x2="497.5" y2="343.7" stroke="#e2b860" stroke-width="1"/>
<line x1="502.7" y1="329.7" x2="496.6" y2="314.3" stroke="#e2b860" stroke-width="1"/>
<line x1="502.7" y1="329.7" x2="522.1" y2="328.4" stroke="#e2b860" stroke-width="1"/>
<line x1="502.1" y1="357.3" x2="497.5" y2="343.7" stroke="#e2b860" stroke-width="1"/>
<line x1="502.1" y1="357.3" x2="496.6" y2="372.6" stroke="#e2b860" stroke-width="1"/>
<line x1="502.1" y1="357.3" x2="522.1" y2="357.9" stroke="#e2b860" stroke-width="1"/>
<line x1="530.7" y1="374.1" x2="522.1" y2="387.2" stroke="#e2b860" stroke-width="1"/>
<line x1="530.7" y1="374.1" x2="546.4" y2="372.6" stroke="#e2b860" stroke-width="1"/>
<line x1="530.7" y1="374.1" x2="522.1" y2="357.9" stroke="#e2b860" stroke-width="1"/>
<line x1="556.3" y1="358.8" x2="546.4" y2="372.6" stroke="#e2b860" stroke-width="1"/>
<line x1="556.3" y1="358.8" x2="573.4" y2="357.3" stroke="#e2b860" stroke-width="1"/>
<line x1="556.3" y1="358.8" x2="547.9" y2="343.3" stroke="#e2b860" stroke-width="1"/>
<line x1="581.1" y1="372.6" x2="573.1" y2="387.2" stroke="#e2b860" stroke-width="1"/>
<line x1="581.1" y1="372.6" x2="597.9" y2="372.6" stroke="#e2b860" stroke-width="1"/>
<line x1="581.1" y1="372.6" x2="573.4" y2="357.3" stroke="#e2b860" stroke-width="1"/>
<line x1="504" y1="387.7" x2="496.6" y2="401.6" stroke="#e2b860" stroke-width="1"/>
<line x1="504" y1="387.7" x2="496.6" y2="372.6" stroke="#e2b860" stroke-width="1"/>
<line x1="504" y1="387.7" x2="522.1" y2="387.2" stroke="#e2b860" stroke-width="1"/>
<line x1="555" y1="386.3" x2="546.4" y2="372.6" stroke="#e2b860" stroke-width="1"/>
<line x1="555" y1="386.3" x2="548.2" y2="401.6" stroke="#e2b860" stroke-width="1"/>
<line x1="555" y1="386.3" x2="573.1" y2="387.2" stroke="#e2b860" stroke-width="1"/>
<line x1="530.1" y1="401.6" x2="522.1" y2="387.2" stroke="#e2b860" stroke-width="1"/>
<line x1="530.1" y1="401.6" x2="522.7" y2="416.7" stroke="#e2b860" stroke-width="1"/>
<line x1="530.1" y1="401.6" x2="548.2" y2="401.6" stroke="#e2b860" stroke-width="1"/>
<line x1="505.3" y1="415.6" x2="496.6" y2="401.6" stroke="#e2b860" stroke-width="1"/>
<line x1="505.3" y1="415.6" x2="496.6" y2="430.5" stroke="#e2b860" stroke-width="1"/>
<line x1="505.3" y1="415.6" x2="522.7" y2="416.7" stroke="#e2b860" stroke-width="1"/>
<circle cx="496.6" cy="314.3" r="2.3" fill="url(#gAsS)"/>
<circle cx="522.1" cy="328.4" r="2.3" fill="url(#gAsS)"/>
<circle cx="497.5" cy="343.7" r="2.3" fill="url(#gAsS)"/>
<circle cx="522.1" cy="357.9" r="2.3" fill="url(#gAsS)"/>
<circle cx="496.6" cy="372.6" r="2.3" fill="url(#gAsS)"/>
<circle cx="546.4" cy="372.6" r="2.3" fill="url(#gAsS)"/>
<circle cx="547.9" cy="343.3" r="2.3" fill="url(#gAsS)"/>
<circle cx="573.4" cy="357.3" r="2.3" fill="url(#gAsS)"/>
<circle cx="597.9" cy="372.6" r="2.3" fill="url(#gAsS)"/>
<circle cx="522.1" cy="387.2" r="2.3" fill="url(#gAsS)"/>
<circle cx="496.6" cy="401.6" r="2.3" fill="url(#gAsS)"/>
<circle cx="573.1" cy="387.2" r="2.3" fill="url(#gAsS)"/>
<circle cx="548.2" cy="401.6" r="2.3" fill="url(#gAsS)"/>
<circle cx="522.7" cy="416.7" r="2.3" fill="url(#gAsS)"/>
<circle cx="496.6" cy="430.5" r="2.3" fill="url(#gAsS)"/>
<circle cx="502.7" cy="329.7" r="3" fill="url(#gCdS)"/>
<circle cx="502.1" cy="357.3" r="3" fill="url(#gCdS)"/>
<circle cx="530.7" cy="374.1" r="3" fill="url(#gCdS)"/>
<circle cx="556.3" cy="358.8" r="3" fill="url(#gCdS)"/>
<circle cx="581.1" cy="372.6" r="3" fill="url(#gCdS)"/>
<circle cx="504" cy="387.7" r="3" fill="url(#gCdS)"/>
<circle cx="555" cy="386.3" r="3" fill="url(#gCdS)"/>
<circle cx="530.1" cy="401.6" r="3" fill="url(#gCdS)"/>
<circle cx="505.3" cy="415.6" r="3" fill="url(#gCdS)"/>
<line x1="657.3" y1="372.5" x2="646.6" y2="357.8" stroke="#000" stroke-width="1.2" marker-end="url(#arB)"/>
<line x1="657.3" y1="372.5" x2="646.6" y2="387" stroke="#000" stroke-width="1.2" marker-end="url(#arB)"/>
<line x1="657.3" y1="372.5" x2="641.3" y2="372.5" stroke="#000" stroke-width="1.0" marker-end="url(#arB)"/>
<text x="637.2" y="355.2" font-size="13.5" font-family="Liberation Sans" text-anchor="start" >b</text>
<text x="633.2" y="374" font-size="13.5" font-family="Liberation Sans" text-anchor="start" >c</text>
<text x="637.2" y="391.3" font-size="13.5" font-family="Liberation Sans" text-anchor="start" >a</text>
<circle cx="641.1" cy="414.6" r="4.3" fill="url(#gCd)"/>
<circle cx="641.1" cy="424.6" r="4.2" fill="url(#gAs)"/>
<text x="646.4" y="418.5" font-size="11.4" font-family="Liberation Sans" text-anchor="start" >Cd</text>
<text x="646.2" y="428.2" font-size="11.4" font-family="Liberation Sans" text-anchor="start" >As</text>
<text x="2.6" y="38.6" font-size="28" font-family="Liberation Serif" text-anchor="start" font-weight="bold">a</text>
<text x="9.6" y="395.2" font-size="27" font-family="Liberation Serif" text-anchor="start" font-weight="bold">b</text>
</svg>
</body></html>
